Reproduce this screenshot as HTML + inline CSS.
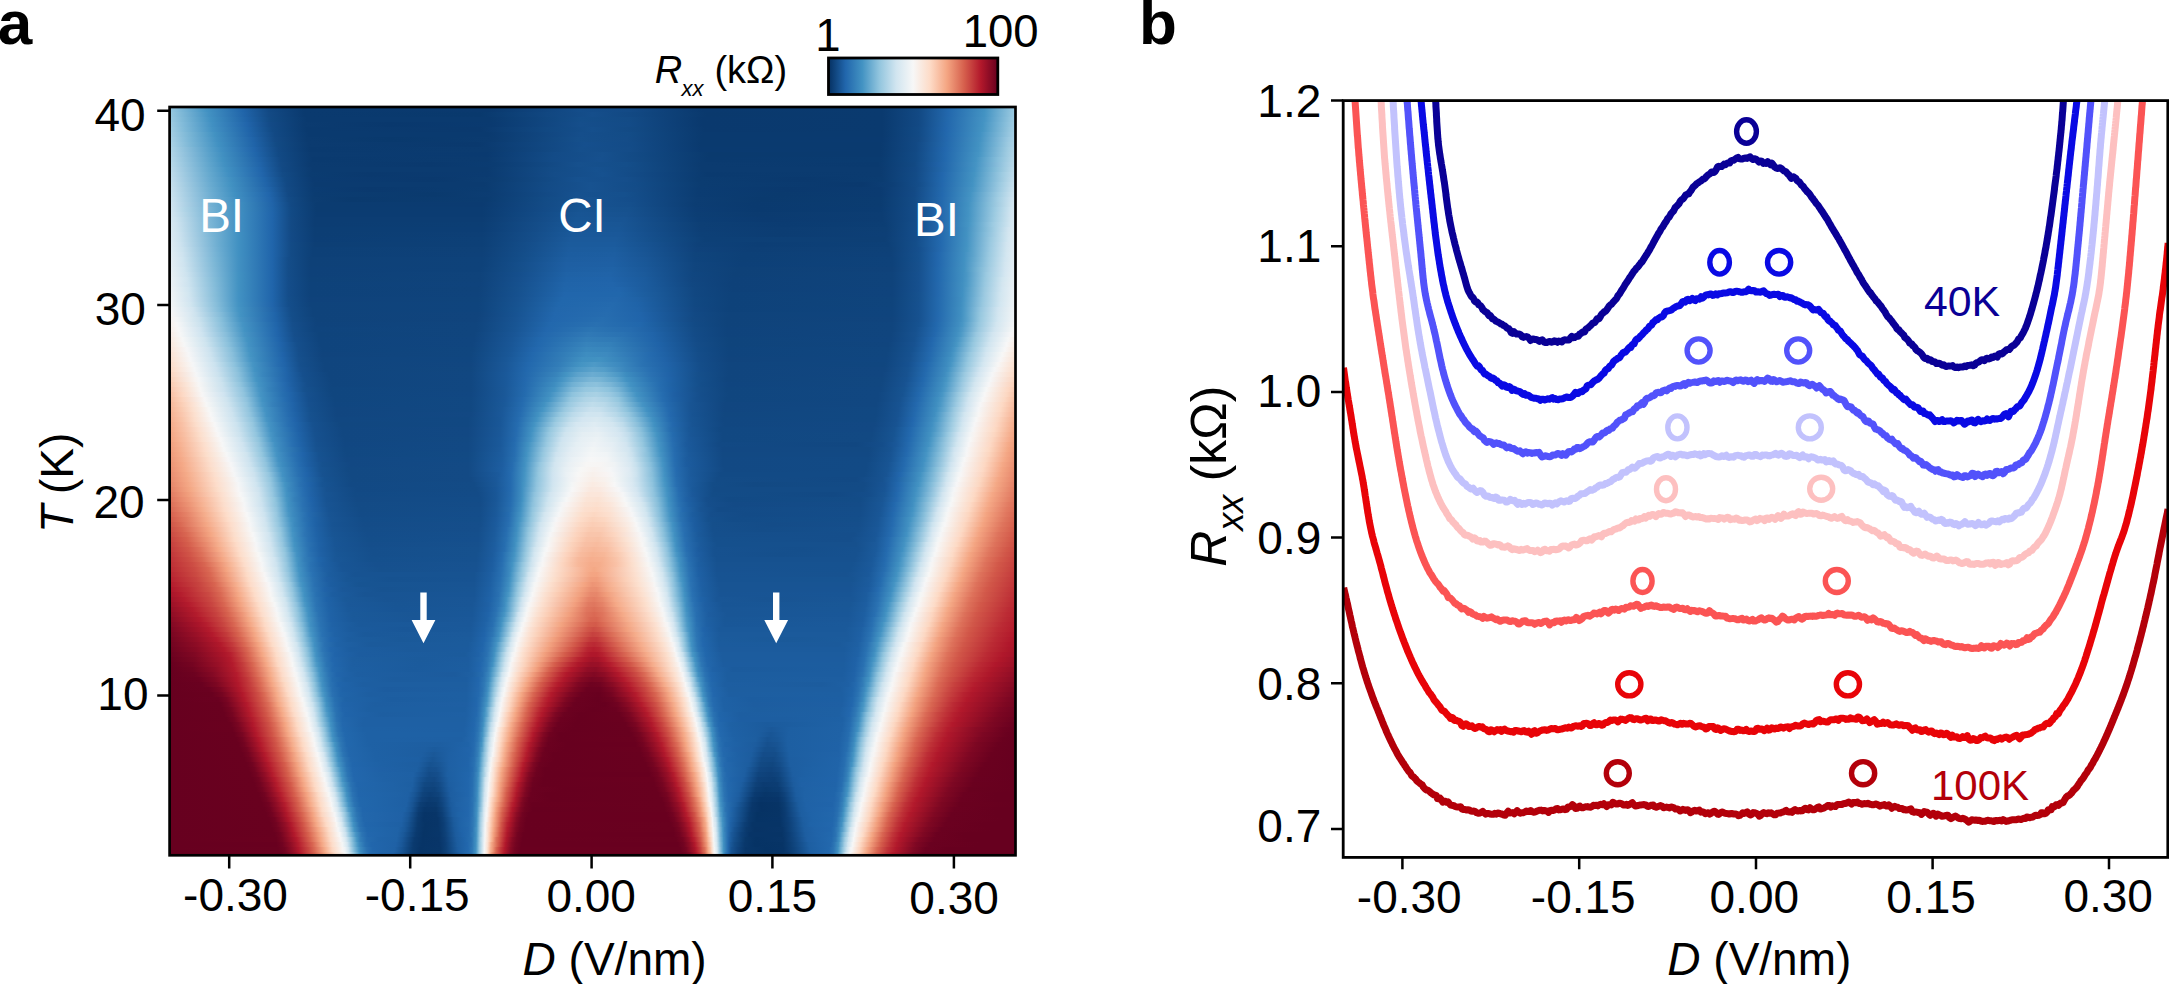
<!DOCTYPE html>
<html><head><meta charset="utf-8"><title>Figure</title>
<style>
html,body{margin:0;padding:0;background:#fff}
#fig{position:relative;width:2169px;height:984px;overflow:hidden;background:#fff;font-family:"Liberation Sans", Arial, Helvetica, sans-serif}
#hm div{position:absolute;left:170px;width:845px}
#fig svg{position:absolute;left:0;top:0}
text{font-family:"Liberation Sans", Arial, Helvetica, sans-serif}
</style></head><body>
<div id="fig">
<div id="hm">
<div style="top:107px;height:5px;background:linear-gradient(90deg,#94c6df 0.1%,#4393c3 4.3%,#2065aa 8.6%,#124984 11.7%,#0a3a6f 15.9%,#0a396e 37.7%,#144d8a 48.6%,#134a86 54.3%,#0a396e 63.0%,#0a3a6f 84.3%,#124983 88.6%,#2268ad 92.1%,#4292c2 96.4%,#76b3d4 98.5%,#94c6df 99.7%,#98c8e0 99.9%,#99c9e0 100.1%)"></div>
<div style="top:112px;height:5px;background:linear-gradient(90deg,#97c8df 0.1%,#4291c2 4.6%,#2064a9 8.8%,#134a85 11.7%,#0a3a6f 15.9%,#09396d 36.7%,#114781 44.6%,#154e8b 50.0%,#114781 55.7%,#0a396d 63.5%,#0a3a6f 84.3%,#124984 88.6%,#2368ad 92.1%,#4393c3 96.4%,#96c7df 99.7%,#9ac9e0 99.9%,#9bcae1 100.1%)"></div>
<div style="top:117px;height:5px;background:linear-gradient(90deg,#9ac9e0 0.1%,#7fb9d7 1.5%,#4191c2 4.8%,#1f63a8 9.1%,#124a84 11.9%,#0a3a6f 16.2%,#0a3a6f 37.9%,#144e8a 48.6%,#134b86 54.3%,#0a396e 63.0%,#0a3a6f 84.3%,#124984 88.6%,#2369ad 92.1%,#4594c4 96.4%,#99c9e0 99.7%,#9dcae1 99.9%,#9ecbe2 100.1%)"></div>
<div style="top:122px;height:5px;background:linear-gradient(90deg,#9ecbe1 0.1%,#82bbd9 1.5%,#4190c2 5.0%,#2165ab 9.1%,#134a86 11.9%,#0b3b70 15.9%,#09386d 25.9%,#0a3a70 38.2%,#154e8b 48.6%,#134b87 54.3%,#0a396e 63.0%,#0a3a6f 84.3%,#124984 88.6%,#2267ac 91.9%,#4393c3 96.2%,#85bdda 98.8%,#9ccae1 99.7%,#a0cce2 99.9%,#a1cde2 100.1%)"></div>
<div style="top:127px;height:5px;background:linear-gradient(90deg,#a1cde2 0.1%,#80bad8 1.7%,#4392c3 5.0%,#2065aa 9.3%,#124a85 12.1%,#0a3a6f 16.2%,#0a396e 36.7%,#114882 44.6%,#154f8c 50.0%,#124983 55.4%,#0a396e 63.3%,#0a3a6f 84.3%,#124a85 88.6%,#2267ad 91.9%,#4494c3 96.2%,#9ac9e0 99.5%,#a3cee3 99.9%,#a4cee3 100.1%)"></div>
<div style="top:132px;height:5px;background:linear-gradient(90deg,#a4cee3 0.1%,#7fb9d7 2.0%,#4292c2 5.3%,#2064a9 9.5%,#124984 12.4%,#0a3a6f 16.4%,#0a3a6f 37.7%,#154e8b 48.6%,#134c87 54.3%,#0a3a6f 63.0%,#0a3a6f 84.3%,#124a85 88.6%,#2268ad 91.9%,#4292c3 95.9%,#7eb8d7 98.3%,#a2cde3 99.7%,#a6cfe4 99.9%,#a8d0e4 100.1%)"></div>
<div style="top:137px;height:5px;background:linear-gradient(90deg,#a8d0e4 0.1%,#7db8d7 2.2%,#4291c2 5.5%,#2064a9 9.8%,#134a85 12.4%,#0b3b70 16.2%,#09396d 25.9%,#0b3b70 38.2%,#154f8b 48.3%,#144c88 54.0%,#0a3a6f 63.0%,#0a3a70 84.3%,#134a85 88.6%,#2368ad 91.9%,#4493c3 95.9%,#9bc9e1 99.2%,#a9d1e5 99.9%,#abd2e5 100.1%)"></div>
<div style="top:142px;height:5px;background:linear-gradient(90deg,#abd2e5 0.1%,#7cb7d6 2.4%,#4191c2 5.7%,#1f63a8 10.0%,#124a84 12.6%,#0b3b70 16.4%,#0a396e 36.5%,#114781 44.1%,#154f8d 49.1%,#134b87 54.7%,#0a3a6f 62.8%,#0a3a6f 84.1%,#124984 88.3%,#2369ad 91.9%,#4292c2 95.7%,#77b4d5 97.8%,#9ecbe1 99.2%,#acd2e6 99.9%,#aed3e6 100.1%)"></div>
<div style="top:147px;height:5px;background:linear-gradient(90deg,#afd4e6 0.1%,#58a0ca 4.6%,#4190c2 6.0%,#2165ab 10.0%,#124984 12.8%,#0a3a6f 16.6%,#0b3b70 37.7%,#154f8c 48.6%,#144c88 54.3%,#0a3a70 62.8%,#0a3a6f 84.1%,#124984 88.3%,#2267ad 91.7%,#4393c3 95.7%,#a1cde2 99.2%,#b0d4e6 99.9%,#b1d5e7 100.1%)"></div>
<div style="top:152px;height:5px;background:linear-gradient(90deg,#b2d5e7 0.1%,#5ba2cb 4.6%,#4190c1 6.2%,#2065aa 10.2%,#124a85 12.8%,#0b3b70 16.6%,#0a3a70 37.5%,#134b87 45.5%,#16508d 51.2%,#114882 56.2%,#0a3a6e 63.7%,#0a3a6f 84.1%,#124a85 88.3%,#2268ad 91.7%,#4595c4 95.7%,#9ecbe1 99.0%,#b3d6e7 99.9%,#b5d7e8 100.1%)"></div>
<div style="top:157px;height:5px;background:linear-gradient(90deg,#b5d7e8 0.1%,#5ea4cc 4.6%,#4292c2 6.2%,#2064a9 10.5%,#124984 13.1%,#0a3a6f 16.9%,#0b3b70 37.5%,#134b87 45.3%,#16508e 50.9%,#124983 55.9%,#0a3a6f 63.5%,#0a3b70 84.1%,#124a85 88.3%,#2268ad 91.7%,#4393c3 95.4%,#88bfdb 98.0%,#b7d8e8 99.9%,#b8d8e9 100.1%)"></div>
<div style="top:162px;height:5px;background:linear-gradient(90deg,#b8d9e9 0.1%,#61a6cd 4.6%,#4291c2 6.4%,#2064a9 10.7%,#134a85 13.1%,#0b3b70 16.6%,#0a396e 30.8%,#0b3c72 38.4%,#16508d 48.3%,#144e8a 54.0%,#0b3b70 62.8%,#0a3a6f 83.8%,#124983 88.1%,#1f61a6 90.9%,#256bae 91.9%,#4594c4 95.4%,#9fcbe2 98.8%,#bad9e9 99.9%,#bcdaea 100.1%)"></div>
<div style="top:167px;height:5px;background:linear-gradient(90deg,#bcdaea 0.1%,#64a8ce 4.6%,#4191c2 6.7%,#2166ac 10.7%,#124984 13.3%,#0b3b70 16.9%,#0b3b70 37.5%,#134b86 45.0%,#16518f 50.5%,#134b86 55.4%,#0b3b70 63.0%,#0b3b70 84.1%,#134a86 88.3%,#2369ad 91.7%,#4292c3 95.2%,#81bbd8 97.6%,#b9d9e9 99.7%,#bedbeb 99.9%,#c0dceb 100.1%)"></div>
<div style="top:172px;height:5px;background:linear-gradient(90deg,#bfdceb 0.1%,#67aacf 4.6%,#4190c2 6.9%,#2165ab 10.9%,#134b86 13.3%,#0b3c71 16.6%,#0a396e 23.7%,#0b3b71 37.7%,#144c88 45.5%,#16518f 51.2%,#124984 55.9%,#0a3a6f 63.5%,#0b3b70 84.1%,#134b86 88.3%,#2267ad 91.4%,#4494c3 95.2%,#9fcce2 98.5%,#c1ddec 99.9%,#c3deec 100.1%)"></div>
<div style="top:177px;height:5px;background:linear-gradient(90deg,#c2ddec 0.1%,#66a9cf 4.8%,#4190c1 7.2%,#2065aa 11.2%,#124a85 13.6%,#0b3b71 16.9%,#0a396e 31.1%,#0c3d72 38.4%,#16518f 48.3%,#154e8b 54.0%,#0b3c71 62.5%,#0a396e 74.9%,#0b3c71 84.3%,#134b87 88.3%,#2268ad 91.4%,#4292c2 95.0%,#7ab6d6 97.1%,#a8d0e4 98.8%,#c5dfed 99.9%,#c7e0ed 100.1%)"></div>
<div style="top:182px;height:5px;background:linear-gradient(90deg,#c5dfec 0.1%,#69abd0 4.8%,#4292c2 7.2%,#2064a9 11.4%,#124984 13.8%,#0b3b70 17.1%,#0b3b70 37.2%,#134b86 44.8%,#175290 49.8%,#134c88 55.2%,#0b3c71 62.8%,#0a396e 82.0%,#0d3f76 85.5%,#144d89 88.6%,#2368ad 91.4%,#4393c3 95.0%,#9fcce2 98.3%,#c9e1ee 99.9%,#cbe2ee 100.1%)"></div>
<div style="top:187px;height:5px;background:linear-gradient(90deg,#c8e0ed 0.1%,#6cadd1 4.8%,#4291c2 7.4%,#2064a9 11.7%,#134a85 13.8%,#0b3c72 16.9%,#0a396e 23.7%,#0b3c71 37.5%,#134b87 44.8%,#175290 49.8%,#144c88 55.2%,#0b3c72 62.5%,#0a396e 73.0%,#0b3b71 84.1%,#134a85 88.1%,#2369ad 91.4%,#4695c4 95.0%,#a2cde3 98.3%,#cde3ef 99.9%,#cfe4ef 100.1%)"></div>
<div style="top:192px;height:5px;background:linear-gradient(90deg,#cae2ee 0.1%,#6bacd1 5.0%,#4191c2 7.6%,#2166ac 11.7%,#124984 14.0%,#0b3c71 17.1%,#0a3a6e 31.3%,#0c3d73 38.2%,#16518f 48.1%,#15508d 53.8%,#0b3c72 62.5%,#0a3a6e 72.2%,#0b3b71 84.1%,#134a86 88.1%,#2369ae 91.4%,#4393c3 94.7%,#9fcce2 98.0%,#d1e5f0 99.9%,#d2e5f0 100.1%)"></div>
<div style="top:197px;height:5px;background:linear-gradient(90deg,#cde3ef 0.1%,#6daed2 5.0%,#4190c2 7.9%,#2165ab 11.9%,#134b86 14.0%,#0c3d72 16.9%,#0a3a6e 21.6%,#0b3c71 37.5%,#134c87 44.8%,#175391 49.8%,#144d8a 55.0%,#0c3d73 62.3%,#0a3a6e 70.1%,#0b3c71 84.1%,#134b86 88.1%,#246aae 91.4%,#4594c4 94.7%,#a3cee3 98.0%,#d0e4f0 99.7%,#d3e6f0 99.9%,#d4e7f1 100.1%)"></div>
<div style="top:202px;height:5px;background:linear-gradient(90deg,#d0e4f0 0.1%,#70afd2 5.0%,#4292c2 7.9%,#2064a9 12.1%,#124984 14.3%,#0b3c71 17.3%,#0b3b71 37.0%,#134b86 44.3%,#175391 48.8%,#154f8c 54.5%,#0c3d73 62.1%,#0a3a6f 68.9%,#0b3c71 84.1%,#134b86 88.1%,#2268ad 91.2%,#4292c2 94.5%,#85bdd9 96.9%,#d2e6f0 99.7%,#d5e7f1 99.9%,#d6e8f1 100.1%)"></div>
<div style="top:207px;height:5px;background:linear-gradient(90deg,#d2e5f0 0.1%,#b1d5e7 1.7%,#66a9cf 5.7%,#4190c1 8.1%,#2065aa 12.1%,#124a85 14.3%,#0b3c71 17.3%,#0b3c72 37.0%,#134b87 44.3%,#175492 48.6%,#16518e 54.3%,#0c3d74 62.3%,#0a3a6f 69.6%,#0b3c72 84.1%,#134b87 88.1%,#2368ad 91.2%,#4393c3 94.5%,#9bcae1 97.6%,#d0e5f0 99.5%,#d7e8f1 99.9%,#d8e8f1 100.1%)"></div>
<div style="top:212px;height:5px;background:linear-gradient(90deg,#d4e6f0 0.1%,#c3deec 1.0%,#77b4d5 4.8%,#4190c2 8.1%,#2065ab 12.1%,#124a85 14.3%,#0b3c72 17.3%,#0b3c72 37.0%,#134c88 44.1%,#185594 48.3%,#175290 54.0%,#0c3e74 62.3%,#0b3b70 69.4%,#0c3d73 84.3%,#134b87 88.1%,#2368ad 91.2%,#4393c3 94.5%,#9dcbe1 97.6%,#d2e5f0 99.5%,#d8e8f1 99.9%,#d9e9f2 100.1%)"></div>
<div style="top:217px;height:5px;background:linear-gradient(90deg,#d5e7f1 0.1%,#cbe2ee 0.8%,#7db7d7 4.6%,#4190c2 8.1%,#2065ab 12.1%,#134a85 14.3%,#0c3d73 17.1%,#0c3d73 37.0%,#144c88 43.8%,#185695 48.1%,#185493 53.8%,#0c3e75 62.5%,#0b3b71 70.6%,#0c3d73 84.3%,#134b87 88.1%,#2368ad 91.2%,#4494c3 94.5%,#9fcce2 97.6%,#d3e6f0 99.5%,#d9e9f2 99.9%,#dbeaf2 100.1%)"></div>
<div style="top:222px;height:5px;background:linear-gradient(90deg,#d7e8f1 0.1%,#cee3ef 0.8%,#7eb8d7 4.6%,#4190c2 8.1%,#2065ab 12.1%,#134a85 14.3%,#0c3d73 17.1%,#0c3e74 37.0%,#144d89 43.6%,#195797 47.9%,#195695 53.3%,#0d3f75 62.8%,#0b3c72 72.7%,#0c3e74 84.6%,#144d89 88.3%,#2369ad 91.2%,#4595c4 94.5%,#9bcae1 97.3%,#d4e7f1 99.5%,#dbeaf2 99.9%,#dceaf2 100.1%)"></div>
<div style="top:227px;height:5px;background:linear-gradient(90deg,#d9e9f1 0.1%,#cbe2ee 1.0%,#7bb6d6 4.8%,#4190c2 8.1%,#2065ab 12.1%,#134a85 14.3%,#0c3e74 17.1%,#0c3e75 37.0%,#144c88 43.1%,#195898 47.6%,#195797 53.1%,#0d3f76 62.8%,#0c3d73 72.2%,#0d3f75 84.8%,#144d8a 88.3%,#2369ad 91.2%,#4291c2 94.3%,#79b5d5 96.2%,#a3cee3 97.6%,#d2e5f0 99.2%,#dceaf2 99.9%,#ddebf2 100.1%)"></div>
<div style="top:232px;height:5px;background:linear-gradient(90deg,#dae9f2 0.1%,#cee3ef 1.0%,#78b4d5 5.0%,#4191c2 8.1%,#2065ab 12.1%,#134a86 14.3%,#0c3e74 17.1%,#0d3f76 37.0%,#144d89 42.9%,#1a599a 47.6%,#1a5899 53.1%,#0d4077 62.8%,#0c3d73 72.0%,#0d3f76 84.8%,#144d8a 88.3%,#2369ad 91.2%,#4292c2 94.3%,#82bbd9 96.4%,#c0ddeb 98.5%,#d3e6f0 99.2%,#ddebf2 99.9%,#deebf2 100.1%)"></div>
<div style="top:237px;height:5px;background:linear-gradient(90deg,#dceaf2 0.1%,#cbe2ee 1.2%,#70afd2 5.5%,#4191c2 8.1%,#2065ab 12.1%,#134a86 14.3%,#0c3e75 17.1%,#0d4077 37.0%,#144c88 42.4%,#1b5a9b 47.4%,#1b5a9b 52.8%,#144e8a 57.6%,#0d4077 63.3%,#0d3f75 84.6%,#144d8a 88.3%,#2369ae 91.2%,#4392c3 94.3%,#9ac9e0 97.1%,#d4e7f1 99.2%,#deebf2 99.9%,#dfecf3 100.1%)"></div>
<div style="top:242px;height:5px;background:linear-gradient(90deg,#deebf2 0.1%,#cee3ef 1.2%,#6cadd1 5.7%,#4191c2 8.1%,#2065ab 12.1%,#134b86 14.3%,#0d3f75 17.1%,#0d4077 37.0%,#144d89 42.2%,#1b5b9c 47.2%,#1b5b9d 52.6%,#16518f 56.9%,#0e4179 62.5%,#0c3e75 69.6%,#0d4077 85.0%,#144e8a 88.3%,#2369ae 91.2%,#4393c3 94.3%,#9ccae1 97.1%,#d2e5f0 99.0%,#e0ecf3 99.9%,#e1ecf3 100.1%)"></div>
<div style="top:247px;height:5px;background:linear-gradient(90deg,#dfecf3 0.1%,#cbe2ee 1.5%,#6eaed2 5.7%,#4191c2 8.1%,#2065ab 12.1%,#134b86 14.3%,#0d4077 16.9%,#0e4178 37.0%,#144d89 42.0%,#1c5c9e 47.2%,#1c5d9f 52.6%,#175392 56.6%,#0f427b 62.3%,#0d3f76 68.5%,#0e4178 85.3%,#154f8d 88.6%,#2469ae 91.2%,#4494c3 94.3%,#9ecbe2 97.1%,#d3e6f0 99.0%,#e1ecf3 99.9%,#e2edf3 100.1%)"></div>
<div style="top:252px;height:5px;background:linear-gradient(90deg,#e1edf3 0.1%,#cee3ef 1.5%,#74b2d4 5.5%,#4191c2 8.1%,#2065ab 12.1%,#134b86 14.3%,#0d4077 16.9%,#0e4179 37.0%,#144e8a 42.0%,#1c5da0 47.2%,#1d5ea1 52.6%,#185493 56.6%,#0f447c 62.1%,#0d4077 67.8%,#0e4179 85.3%,#15508d 88.6%,#2267ad 90.9%,#4190c2 94.0%,#5ba2cb 95.0%,#9ac9e0 96.9%,#d4e7f1 99.0%,#e2edf3 99.9%,#e3eef3 100.1%)"></div>
<div style="top:257px;height:5px;background:linear-gradient(90deg,#e3edf3 0.1%,#d0e5f0 1.5%,#7ab6d6 5.3%,#4291c2 8.1%,#2065ab 12.1%,#144d89 14.0%,#0e4178 16.6%,#0e427a 37.0%,#144e8a 41.7%,#1d5ea1 46.9%,#1e5fa3 52.4%,#195696 56.4%,#0f447d 62.1%,#0d4077 67.8%,#0e427a 85.5%,#15508d 88.6%,#2267ad 90.9%,#4191c2 94.0%,#64a8ce 95.2%,#9ccae1 96.9%,#d1e5f0 98.8%,#e3eef3 99.9%,#e4eef4 100.1%)"></div>
<div style="top:262px;height:5px;background:linear-gradient(90deg,#e4eef4 0.1%,#cee3ef 1.7%,#7cb7d6 5.3%,#4291c2 8.1%,#2065ab 12.1%,#144d89 14.0%,#0e4178 16.6%,#0e427a 37.0%,#154f8c 41.7%,#1e5fa3 46.9%,#1e60a4 52.4%,#195797 56.4%,#10457e 62.1%,#0d4078 67.5%,#0e427a 85.5%,#16508d 88.6%,#2267ad 90.9%,#4291c2 94.0%,#77b4d5 95.7%,#9ecbe1 96.9%,#d3e6f0 98.8%,#e4eef4 99.9%,#e5eff4 100.1%)"></div>
<div style="top:267px;height:5px;background:linear-gradient(90deg,#e6eff4 0.1%,#d0e5f0 1.7%,#7eb8d7 5.3%,#4291c2 8.1%,#2065ab 12.1%,#144d89 14.0%,#0e4179 16.6%,#0e427a 36.7%,#154f8b 41.5%,#1e60a4 46.9%,#1f62a6 52.4%,#1a5899 56.4%,#10457e 62.1%,#0e4178 67.3%,#0f427a 85.5%,#16508d 88.6%,#2268ad 90.9%,#4292c2 94.0%,#82bbd8 95.9%,#a7cfe4 97.1%,#d4e6f1 98.8%,#e5eff4 99.9%,#e6eff4 100.1%)"></div>
<div style="top:272px;height:5px;background:linear-gradient(90deg,#e8f0f4 0.1%,#cde3ef 2.0%,#80b9d8 5.3%,#4292c2 8.1%,#2065ab 12.1%,#144d89 14.0%,#0e4179 16.6%,#0f437b 36.7%,#154f8d 41.5%,#1f62a6 46.9%,#2063a8 52.1%,#1b5a9b 56.2%,#104680 61.8%,#0e4178 66.8%,#0f437b 85.5%,#16508e 88.6%,#2268ad 90.9%,#408fc1 93.8%,#4a97c5 94.3%,#9bcae1 96.6%,#d5e7f1 98.8%,#e7eff4 99.9%,#e8f0f4 100.1%)"></div>
<div style="top:277px;height:5px;background:linear-gradient(90deg,#eaf1f5 0.1%,#d0e5f0 2.0%,#82bbd8 5.3%,#4292c2 8.1%,#2065ab 12.1%,#144d8a 14.0%,#0e4279 16.6%,#0f437b 36.7%,#16508e 41.5%,#1f63a8 46.9%,#2064aa 52.1%,#1b5b9d 56.2%,#114680 61.8%,#0e4179 66.6%,#0f437b 85.5%,#16508e 88.6%,#2268ad 90.9%,#408fc1 93.8%,#4b98c6 94.3%,#96c7df 96.4%,#d2e6f0 98.5%,#e8f0f4 99.9%,#e9f0f4 100.1%)"></div>
<div style="top:282px;height:5px;background:linear-gradient(90deg,#ebf1f5 0.1%,#cde3ef 2.2%,#84bcd9 5.3%,#4292c2 8.1%,#2065ab 12.1%,#144d8a 14.0%,#0e427a 16.6%,#0f437c 36.7%,#16518f 41.5%,#2064a9 46.7%,#2165ab 52.4%,#1b5b9d 56.4%,#114781 61.8%,#0e4179 66.3%,#0f437b 85.5%,#16508e 88.6%,#2368ad 90.9%,#4190c1 93.8%,#4c99c6 94.3%,#98c8e0 96.4%,#d4e6f0 98.5%,#e9f0f4 99.9%,#eaf1f5 100.1%)"></div>
<div style="top:287px;height:5px;background:linear-gradient(90deg,#edf2f5 0.1%,#d0e5f0 2.2%,#86bdda 5.3%,#4292c2 8.1%,#2065ab 12.1%,#144d8a 14.0%,#0e427a 16.6%,#0f437b 36.5%,#16518e 41.2%,#2065aa 46.7%,#2166ac 53.1%,#195797 57.8%,#114781 62.1%,#0e4179 66.6%,#0f437c 85.5%,#16508e 88.6%,#2368ad 90.9%,#4190c2 93.8%,#569fc9 94.5%,#9bc9e0 96.4%,#d5e7f1 98.5%,#eaf1f5 99.9%,#ebf1f5 100.1%)"></div>
<div style="top:292px;height:5px;background:linear-gradient(90deg,#eff3f5 0.1%,#d2e6f0 2.2%,#82bbd8 5.5%,#4292c3 8.1%,#2065ab 12.1%,#144d8a 14.0%,#0e427a 16.6%,#0f437c 36.5%,#16518f 41.2%,#2166ac 46.7%,#2167ac 53.3%,#1a5999 57.6%,#114781 62.1%,#0e427a 66.3%,#0f437c 85.5%,#16518e 88.6%,#2368ad 90.9%,#4191c2 93.8%,#69abd0 95.0%,#9dcae1 96.4%,#d2e6f0 98.3%,#ebf1f5 99.9%,#ecf2f5 100.1%)"></div>
<div style="top:297px;height:5px;background:linear-gradient(90deg,#f0f4f6 0.1%,#d0e4f0 2.4%,#84bcd9 5.5%,#4292c3 8.1%,#2065ab 12.1%,#144e8a 14.0%,#0f427b 16.6%,#0f447c 36.5%,#175290 41.2%,#2167ac 46.4%,#2368ad 52.8%,#1f62a6 55.4%,#114882 62.1%,#0e427a 66.3%,#0f447c 85.5%,#16518e 88.6%,#2369ad 90.9%,#3f8dc0 93.6%,#4896c5 94.0%,#98c8e0 96.2%,#d3e6f0 98.3%,#ecf2f5 99.9%,#edf2f5 100.1%)"></div>
<div style="top:302px;height:5px;background:linear-gradient(90deg,#f2f5f6 0.1%,#d2e6f0 2.4%,#87beda 5.5%,#4393c3 8.1%,#2165ab 12.1%,#144e8b 14.0%,#0f437b 16.6%,#0f447d 36.5%,#175391 41.2%,#2167ac 46.0%,#246aae 52.4%,#1f63a8 55.4%,#114882 62.1%,#0e427a 66.3%,#0f447c 85.5%,#16518f 88.6%,#2369ad 90.9%,#3f8ec0 93.6%,#4a97c5 94.0%,#9ac9e0 96.2%,#d4e7f1 98.3%,#edf2f5 99.9%,#eef3f5 100.1%)"></div>
<div style="top:307px;height:5px;background:linear-gradient(90deg,#f5f6f7 0.1%,#d2e5f0 2.7%,#85bdda 5.7%,#4595c4 8.1%,#2063a8 12.4%,#144d89 14.3%,#0f437b 16.9%,#0f447d 36.5%,#175492 41.2%,#2267ac 45.7%,#256baf 51.9%,#2064a9 55.4%,#124883 62.1%,#0e427a 66.1%,#0f447d 85.5%,#16518f 88.6%,#2369ad 90.9%,#408fc1 93.6%,#4b98c6 94.0%,#95c6df 95.9%,#d2e5f0 98.0%,#eff3f5 99.9%,#f0f3f6 100.1%)"></div>
<div style="top:312px;height:5px;background:linear-gradient(90deg,#f7f6f6 0.1%,#dceaf2 2.2%,#cce2ee 3.1%,#84bcd9 6.0%,#4393c3 8.3%,#2065aa 12.4%,#144e8a 14.3%,#0f437b 16.9%,#10447d 36.5%,#175392 41.0%,#2267ad 45.5%,#266caf 51.7%,#2064aa 55.7%,#124984 62.1%,#0f437b 66.1%,#0f447d 85.5%,#16518f 88.6%,#2369ae 90.9%,#408fc1 93.6%,#4c99c6 94.0%,#97c8df 95.9%,#d3e6f0 98.0%,#f0f4f6 99.9%,#f1f4f6 100.1%)"></div>
<div style="top:317px;height:5px;background:linear-gradient(90deg,#f8f4f2 0.1%,#f3f5f6 0.8%,#cbe2ee 3.4%,#89c0db 6.0%,#4795c4 8.3%,#2970b1 11.4%,#1f63a8 12.6%,#144d89 14.5%,#0f437b 17.3%,#10447d 36.3%,#185493 41.0%,#2267ad 45.3%,#276eb0 51.2%,#2064aa 55.9%,#134a85 61.8%,#0f437b 65.9%,#10447d 85.5%,#16518f 88.6%,#2469ae 90.9%,#4190c1 93.6%,#57a0ca 94.3%,#99c9e0 95.9%,#d4e7f1 98.0%,#f1f4f6 99.9%,#f2f5f6 100.1%)"></div>
<div style="top:322px;height:5px;background:linear-gradient(90deg,#f8f2ee 0.1%,#f7f7f7 0.8%,#cbe2ee 3.6%,#88bfdb 6.2%,#4594c4 8.6%,#2065aa 12.6%,#154e8b 14.5%,#0f437c 17.3%,#10457e 36.3%,#185594 41.0%,#2268ad 45.0%,#2970b1 50.5%,#2167ac 55.7%,#124a85 62.1%,#0f437b 65.9%,#10457e 85.5%,#165290 88.6%,#2268ad 90.7%,#3f8dc0 93.3%,#4997c5 93.8%,#96c7df 95.7%,#d3e6f0 97.8%,#f4f5f6 99.9%,#f5f6f7 100.1%)"></div>
<div style="top:327px;height:5px;background:linear-gradient(90deg,#f9f0eb 0.1%,#f7f7f7 1.0%,#d0e4f0 3.6%,#87beda 6.4%,#4393c3 8.8%,#2166ac 12.6%,#154f8c 14.5%,#0f447d 17.1%,#10457e 36.3%,#185594 40.8%,#2267ad 44.6%,#2c75b3 49.8%,#266caf 54.5%,#1f62a6 57.1%,#134b86 62.1%,#0f437c 65.9%,#10457e 85.5%,#16518f 88.3%,#2369ae 90.7%,#4190c1 93.3%,#4f9ac7 93.8%,#9bc9e0 95.7%,#d2e5f0 97.6%,#f7f7f6 99.9%,#f7f6f5 100.1%)"></div>
<div style="top:332px;height:5px;background:linear-gradient(90deg,#f9ede7 0.1%,#f6f7f7 1.2%,#cfe4f0 3.8%,#86bdda 6.7%,#4795c4 8.8%,#286fb1 11.9%,#2064aa 12.8%,#154e8b 14.7%,#0f447c 17.6%,#10457e 36.0%,#195696 40.8%,#2368ad 44.3%,#3079b6 49.5%,#2a72b2 53.6%,#2064a9 57.1%,#134b87 62.1%,#0f437c 65.9%,#10457e 85.3%,#175290 88.3%,#2368ad 90.5%,#408fc1 93.1%,#4c99c6 93.6%,#99c8e0 95.4%,#d2e5f0 97.3%,#f6f6f7 99.5%,#f8f3f1 99.9%,#f8f3ef 100.1%)"></div>
<div style="top:337px;height:5px;background:linear-gradient(90deg,#faebe2 0.1%,#f6f7f7 1.5%,#cfe4ef 4.1%,#8cc1dc 6.7%,#4494c3 9.1%,#2166ac 12.8%,#154f8d 14.7%,#0f447d 17.6%,#10457f 36.0%,#195696 40.5%,#2268ad 43.8%,#337eb8 49.3%,#307ab6 52.6%,#2064a9 57.3%,#134b87 62.3%,#0f447c 66.1%,#10457f 85.3%,#16518f 88.1%,#2267ad 90.2%,#3f8dc0 92.8%,#4997c5 93.3%,#97c8df 95.2%,#d1e5f0 97.1%,#f6f7f7 99.2%,#f8f0eb 99.9%,#f9efea 100.1%)"></div>
<div style="top:342px;height:5px;background:linear-gradient(90deg,#fae9de 0.1%,#f6f7f7 1.7%,#cee4ef 4.3%,#8bc1dc 6.9%,#4392c3 9.3%,#2064aa 13.1%,#154f8c 15.0%,#0f447d 17.8%,#10457f 35.8%,#195696 40.3%,#2268ad 43.6%,#3783bb 49.3%,#3480b9 52.1%,#1f63a8 57.8%,#144c88 62.3%,#0f447c 66.1%,#10457e 85.0%,#175291 88.1%,#2369ae 90.2%,#3e8cbf 92.6%,#4796c4 93.1%,#95c7df 95.0%,#d1e5f0 96.9%,#f7f7f7 99.0%,#f9ede6 99.9%,#f9ece4 100.1%)"></div>
<div style="top:347px;height:5px;background:linear-gradient(90deg,#fbe6da 0.1%,#f6f6f7 2.0%,#cee3ef 4.6%,#8ac0db 7.2%,#4695c4 9.3%,#276eb0 12.4%,#1f63a7 13.3%,#154e8b 15.2%,#0f447d 18.0%,#10467f 35.8%,#195797 40.3%,#2267ad 43.1%,#3a88bd 49.3%,#3885bc 51.9%,#2063a8 58.0%,#134c88 62.5%,#0f447d 66.1%,#10467f 85.0%,#165290 87.9%,#2368ad 90.0%,#3d8bbf 92.4%,#4594c4 92.8%,#9bcae1 95.0%,#d0e5f0 96.6%,#f7f7f7 98.8%,#faeae0 99.9%,#fae9df 100.1%)"></div>
<div style="top:352px;height:5px;background:linear-gradient(90deg,#fbe3d5 0.1%,#f6f6f7 2.2%,#cde3ef 4.8%,#89bfdb 7.4%,#4494c3 9.5%,#2064aa 13.3%,#154f8c 15.2%,#10447d 18.0%,#10467f 35.6%,#195797 40.1%,#2268ad 42.9%,#317cb7 46.4%,#3e8dc0 49.3%,#3d8abf 51.7%,#246aae 56.9%,#1f62a6 58.5%,#144d89 62.5%,#0f447d 66.1%,#10467f 84.8%,#16518f 87.6%,#246aae 90.0%,#3f8ec0 92.4%,#4b98c6 92.8%,#99c9e0 94.7%,#d5e7f1 96.6%,#f7f7f6 98.5%,#fae7db 99.9%,#fbe6da 100.1%)"></div>
<div style="top:357px;height:5px;background:linear-gradient(90deg,#fce1d1 0.1%,#f6f6f7 2.4%,#cde3ef 5.0%,#87beda 7.6%,#4896c5 9.5%,#3a88bd 10.5%,#2166ac 13.3%,#16508d 15.2%,#10457e 18.0%,#104680 35.6%,#195797 39.8%,#2268ad 42.7%,#327cb7 46.2%,#4090c1 48.8%,#4292c2 50.9%,#3682ba 53.6%,#276eb0 56.4%,#2063a8 58.5%,#144d8a 62.5%,#10447d 66.1%,#104680 84.8%,#175290 87.6%,#2369ad 89.8%,#3e8dc0 92.1%,#4896c5 92.6%,#97c8e0 94.5%,#d5e7f1 96.4%,#f7f6f6 98.3%,#fbe4d6 99.9%,#fbe3d5 100.1%)"></div>
<div style="top:362px;height:5px;background:linear-gradient(90deg,#fcdecc 0.1%,#f8f3f0 2.2%,#f5f6f7 2.7%,#cce3ef 5.3%,#8ec3dd 7.6%,#4695c4 9.8%,#266caf 12.8%,#2064a9 13.6%,#154f8c 15.4%,#10457e 18.3%,#114680 35.6%,#1a5898 39.8%,#2268ad 42.4%,#327db8 46.0%,#4494c3 48.6%,#4e9ac7 50.2%,#3d8abf 53.1%,#2a72b2 55.9%,#2063a8 58.8%,#144d89 62.8%,#10457e 66.1%,#10467f 84.6%,#165190 87.4%,#2268ad 89.5%,#3d8bbf 91.9%,#4695c4 92.4%,#95c7df 94.3%,#d4e7f1 96.2%,#f7f6f5 98.0%,#fce1d1 99.9%,#fce0d0 100.1%)"></div>
<div style="top:367px;height:5px;background:linear-gradient(90deg,#fddbc7 0.1%,#f8f0ec 2.2%,#f5f6f7 2.9%,#cce2ef 5.5%,#8dc2dc 7.9%,#4393c3 10.0%,#2166ab 13.6%,#16508e 15.4%,#10457e 18.3%,#114780 35.6%,#1a5899 39.8%,#2268ad 42.2%,#3681ba 46.0%,#4b98c6 48.1%,#5ba2cb 50.0%,#549ec9 51.4%,#3985bc 54.0%,#286fb1 56.9%,#1f63a7 59.0%,#144d8a 62.8%,#10457e 66.1%,#114680 84.6%,#175391 87.4%,#246aae 89.5%,#408ec1 91.9%,#4393c3 92.1%,#9ccae1 94.3%,#d4e6f1 95.9%,#f5f6f7 97.6%,#f9f0eb 98.3%,#fcdecc 99.9%,#fcddcb 100.1%)"></div>
<div style="top:372px;height:5px;background:linear-gradient(90deg,#fcd6c1 0.1%,#f5f6f7 3.1%,#cbe2ee 5.7%,#8cc1dc 8.1%,#4896c5 10.0%,#3a87bd 10.9%,#2064a9 13.8%,#154f8d 15.7%,#10457e 18.8%,#114781 35.6%,#1a599a 39.8%,#2369ad 42.2%,#3884bb 45.7%,#4494c3 46.9%,#5da3cc 48.3%,#6bacd1 50.0%,#63a8ce 51.4%,#4c98c6 53.1%,#3d8cbf 54.0%,#2a71b2 56.9%,#2063a8 59.0%,#154f8b 62.5%,#10457e 66.1%,#114680 84.3%,#175290 87.2%,#2369ad 89.3%,#3f8dc0 91.7%,#4a97c5 92.1%,#9ac9e0 94.0%,#d4e6f1 95.7%,#f5f6f7 97.3%,#fddbc7 99.9%,#fddac6 100.1%)"></div>
<div style="top:377px;height:5px;background:linear-gradient(90deg,#fbd1ba 0.1%,#f8f3f0 2.9%,#f5f6f7 3.4%,#cbe2ee 6.0%,#8ac0db 8.3%,#4595c4 10.2%,#276db0 13.1%,#1f62a7 14.0%,#154f8c 15.9%,#10457e 19.0%,#114781 35.6%,#1a599a 39.8%,#2368ad 42.0%,#3c8abf 45.7%,#4594c4 46.4%,#66a9cf 47.9%,#7bb6d6 49.8%,#78b5d5 50.9%,#5fa5cd 52.8%,#4393c3 54.0%,#2b74b3 56.9%,#2064a9 59.0%,#15508d 62.3%,#10457e 65.9%,#114780 84.3%,#175392 87.2%,#2268ad 89.1%,#3e8cbf 91.4%,#4796c4 91.9%,#98c8e0 93.8%,#d3e6f0 95.4%,#f5f6f7 97.1%,#fcd6c1 99.9%,#fcd5bf 100.1%)"></div>
<div style="top:382px;height:5px;background:linear-gradient(90deg,#faccb3 0.1%,#fbe5d8 2.0%,#f7f6f5 3.4%,#cbe2ee 6.2%,#92c5de 8.3%,#4393c3 10.5%,#2469ae 13.6%,#1d5ea1 14.5%,#154e8b 16.2%,#10457e 19.2%,#114781 35.6%,#1a599a 39.8%,#2369ad 42.0%,#3e8dc0 45.5%,#4b98c6 46.2%,#70b0d3 47.6%,#88bfdb 49.3%,#8cc1dc 50.5%,#7bb6d6 52.1%,#5ca3cc 53.6%,#4292c3 54.5%,#256caf 58.0%,#1e61a4 59.5%,#144e8a 62.8%,#10457f 66.1%,#114780 84.1%,#175291 86.9%,#246aae 89.1%,#408fc1 91.4%,#4d9ac7 91.9%,#9fcbe2 93.8%,#d3e6f0 95.2%,#f6f6f7 96.9%,#fcd4be 99.7%,#fbd1ba 99.9%,#fbcfb8 100.1%)"></div>
<div style="top:387px;height:5px;background:linear-gradient(90deg,#fac6ad 0.1%,#fbe2d3 2.0%,#f7f6f5 3.6%,#cae1ee 6.4%,#91c4de 8.6%,#4896c5 10.5%,#3682ba 11.7%,#2165ab 14.0%,#16518e 15.9%,#10467f 19.0%,#114781 35.6%,#1a5898 39.6%,#246aae 42.0%,#4393c3 45.5%,#7fb9d8 47.6%,#96c7df 49.1%,#9bcae1 50.5%,#8ec3dd 51.9%,#77b4d5 53.1%,#4695c4 54.7%,#266daf 58.0%,#1f63a8 59.2%,#16508d 62.3%,#10467f 65.9%,#114781 84.1%,#175492 86.9%,#2369ad 88.8%,#3f8ec0 91.2%,#4b98c6 91.7%,#9dcae1 93.6%,#d3e6f0 95.0%,#f6f7f7 96.6%,#fdd8c3 99.2%,#facbb3 99.9%,#facab1 100.1%)"></div>
<div style="top:392px;height:5px;background:linear-gradient(90deg,#f9c1a6 0.1%,#fdd9c5 1.5%,#f7f6f6 3.8%,#d0e4f0 6.4%,#8fc3dd 8.8%,#4594c4 10.7%,#276fb0 13.3%,#2064a9 14.3%,#16508e 16.2%,#10467f 19.2%,#114782 35.6%,#1a5898 39.6%,#246bae 42.0%,#4291c2 45.0%,#63a7ce 46.2%,#8ec3dd 47.6%,#a5cfe3 49.3%,#a9d1e4 50.5%,#99c8e0 52.1%,#85bdda 53.1%,#4393c3 55.2%,#256caf 58.3%,#1e5fa3 59.7%,#154e8b 62.8%,#10467f 66.1%,#114781 83.8%,#175391 86.7%,#2268ad 88.6%,#3e8cc0 90.9%,#4896c5 91.4%,#9bc9e0 93.3%,#d2e6f0 94.7%,#f7f7f7 96.4%,#fcd8c3 99.0%,#f9c6ac 99.9%,#f9c4aa 100.1%)"></div>
<div style="top:397px;height:5px;background:linear-gradient(90deg,#f8bda0 0.1%,#fcd4be 1.5%,#f7f6f6 4.1%,#cfe4ef 6.7%,#8ec2dd 9.1%,#4393c3 10.9%,#266db0 13.6%,#1f62a7 14.5%,#154f8d 16.4%,#10467f 19.5%,#114882 35.6%,#1a5899 39.6%,#246aae 41.7%,#4393c3 44.8%,#96c7df 47.4%,#afd4e6 49.1%,#b6d7e8 50.2%,#abd2e5 51.7%,#93c6de 53.1%,#4795c4 55.4%,#266db0 58.3%,#1f62a6 59.5%,#16508e 62.3%,#10467f 65.9%,#114781 83.8%,#175290 86.4%,#246aae 88.6%,#4090c1 90.9%,#4f9ac7 91.4%,#a1cde2 93.3%,#d2e5f0 94.5%,#f7f7f7 96.2%,#fcd8c3 98.8%,#f9c1a5 99.9%,#f8bfa3 100.1%)"></div>
<div style="top:402px;height:5px;background:linear-gradient(90deg,#f7b99b 0.1%,#fbd0b8 1.5%,#fce2d3 2.7%,#f7f7f6 4.3%,#cfe4ef 6.9%,#94c6df 9.1%,#4896c5 10.9%,#3681ba 12.1%,#2064a9 14.5%,#16508e 16.4%,#104680 19.5%,#114882 35.6%,#1a5999 39.6%,#256caf 41.7%,#4292c2 44.3%,#7eb8d7 46.2%,#9bcae1 47.2%,#b4d6e8 48.6%,#c0ddeb 50.0%,#b9d9e9 51.4%,#9ecbe1 53.1%,#82bbd8 54.0%,#4594c4 55.9%,#246aae 58.8%,#185493 61.6%,#114680 65.6%,#114781 83.6%,#175392 86.4%,#2368ad 88.3%,#3f8ec0 90.7%,#4b98c6 91.2%,#9ecbe2 93.1%,#cfe4f0 94.3%,#f6f6f7 95.9%,#fdd9c4 98.5%,#f8bca0 99.9%,#f8bb9e 100.1%)"></div>
<div style="top:407px;height:5px;background:linear-gradient(90deg,#f7b697 0.1%,#faccb3 1.5%,#fce0cf 2.7%,#f7f7f6 4.6%,#cee3ef 7.2%,#93c5de 9.3%,#4594c4 11.2%,#2970b1 13.6%,#1f62a7 14.7%,#15508d 16.6%,#114680 19.7%,#114882 35.6%,#1a5898 39.3%,#256baf 41.5%,#4595c4 44.1%,#9ac9e0 46.7%,#b8d8e9 48.1%,#cae1ee 49.8%,#c7e0ed 50.9%,#aed3e6 52.8%,#90c4dd 54.0%,#4292c3 56.4%,#246aae 59.0%,#185493 61.6%,#114680 65.6%,#114882 83.6%,#175291 86.2%,#246aae 88.3%,#4191c2 90.7%,#65a9cf 91.7%,#9bc9e0 92.8%,#d4e6f1 94.3%,#f5f6f7 95.7%,#fddac5 98.3%,#f7b89b 99.9%,#f7b799 100.1%)"></div>
<div style="top:412px;height:5px;background:linear-gradient(90deg,#f6b393 0.1%,#fac8af 1.5%,#fce0cf 2.9%,#f7f7f7 4.8%,#cde3ef 7.4%,#91c4de 9.5%,#4392c3 11.4%,#266caf 14.0%,#1e61a5 15.0%,#16518e 16.6%,#114680 19.7%,#124883 35.6%,#1a5899 39.3%,#266db0 41.5%,#4292c2 43.6%,#99c9e0 46.2%,#bbdaea 47.6%,#d0e5f0 49.3%,#d1e5f0 50.9%,#b8d9e9 52.8%,#96c7df 54.3%,#4594c4 56.6%,#2368ad 59.2%,#175392 61.8%,#114780 65.6%,#114882 83.6%,#175392 86.2%,#2369ad 88.1%,#408fc1 90.5%,#4e9ac7 90.9%,#a1cce2 92.8%,#d2e6f0 94.0%,#f7f6f5 95.7%,#fcd6c1 98.3%,#f7b496 99.9%,#f6b394 100.1%)"></div>
<div style="top:417px;height:5px;background:linear-gradient(90deg,#f6b090 0.1%,#f9c5aa 1.5%,#fcdecc 2.9%,#f7f7f7 5.0%,#cde3ef 7.6%,#8fc3dd 9.8%,#4896c5 11.4%,#3884bc 12.4%,#2165ab 14.7%,#16518f 16.6%,#114781 19.7%,#114882 35.3%,#195797 39.1%,#256baf 41.2%,#4393c3 43.4%,#97c8df 45.7%,#c1ddeb 47.4%,#d4e6f1 48.8%,#d9e9f1 50.5%,#cee4ef 52.1%,#b4d6e8 53.6%,#8bc1dc 55.0%,#4191c2 57.1%,#246aae 59.2%,#185594 61.6%,#114781 65.4%,#114882 83.4%,#175291 86.0%,#2267ad 87.9%,#3f8dc0 90.2%,#4a98c6 90.7%,#9dcbe1 92.6%,#d0e4f0 93.8%,#f7f7f7 95.4%,#fcd7c2 98.0%,#f6b495 99.7%,#f6b191 99.9%,#f6af8f 100.1%)"></div>
<div style="top:422px;height:5px;background:linear-gradient(90deg,#f5ad8c 0.1%,#f9c1a6 1.5%,#fcdecc 3.1%,#f7f7f7 5.3%,#cce3ef 7.9%,#96c7df 9.8%,#4594c4 11.7%,#286fb1 14.0%,#2064a9 15.0%,#16518f 16.9%,#114780 20.2%,#114882 35.3%,#195798 39.1%,#266db0 41.2%,#4393c3 43.1%,#9bcae1 45.5%,#c7e0ed 47.2%,#d5e7f1 48.1%,#dfecf3 50.2%,#d3e6f0 52.4%,#bfdceb 53.6%,#88beda 55.4%,#4191c2 57.3%,#2368ad 59.5%,#185493 61.8%,#114781 65.6%,#124883 83.4%,#175392 86.0%,#2369ae 87.9%,#4190c2 90.2%,#5aa1cb 90.9%,#a3cee3 92.6%,#d4e7f1 93.8%,#f6f6f7 95.2%,#fdd8c4 97.8%,#f6b090 99.7%,#f5ad8c 99.9%,#f5ac8a 100.1%)"></div>
<div style="top:427px;height:5px;background:linear-gradient(90deg,#f5aa88 0.1%,#f9c2a7 1.7%,#fcdecd 3.4%,#f7f7f7 5.5%,#cbe2ee 8.1%,#94c6df 10.0%,#4392c3 11.9%,#276eb0 14.3%,#1f62a7 15.2%,#16508e 17.1%,#114781 20.4%,#124883 35.3%,#1a5898 39.1%,#256baf 41.0%,#4393c3 42.9%,#97c8df 45.0%,#cce3ef 46.9%,#deebf2 48.6%,#e4eef4 50.5%,#d5e7f1 52.8%,#c4deec 53.8%,#8ac0db 55.7%,#4796c4 57.3%,#266daf 59.2%,#195797 61.4%,#114882 65.1%,#124883 83.1%,#175391 85.7%,#2268ad 87.6%,#408fc1 90.0%,#4d99c6 90.5%,#9fcce2 92.4%,#d2e6f0 93.6%,#f5f6f7 95.0%,#f8f2ef 95.4%,#fddac5 97.6%,#f5ad8c 99.7%,#f5a988 99.9%,#f5a886 100.1%)"></div>
<div style="top:432px;height:5px;background:linear-gradient(90deg,#f4a785 0.1%,#f8bfa3 1.7%,#fcdfcd 3.6%,#f7f7f7 5.7%,#cbe2ee 8.3%,#92c5de 10.2%,#4896c5 11.9%,#3b88bd 12.6%,#2064a9 15.2%,#16518f 17.1%,#114781 20.4%,#124883 35.3%,#1a5899 39.1%,#266caf 41.0%,#4191c2 42.7%,#97c8e0 44.8%,#cfe4ef 46.7%,#e4eef3 48.8%,#e8f0f4 50.7%,#d4e6f1 53.3%,#c0dceb 54.3%,#8ac0db 55.9%,#4494c3 57.6%,#246bae 59.5%,#195696 61.6%,#114882 65.4%,#124983 83.1%,#175492 85.7%,#2369ae 87.6%,#4292c2 90.0%,#70b0d3 91.2%,#9bcae1 92.1%,#d0e4f0 93.3%,#f3f5f6 94.7%,#f8f3f0 95.2%,#fcd6c0 97.6%,#f5ad8c 99.5%,#f4a684 99.9%,#f4a582 100.1%)"></div>
<div style="top:437px;height:5px;background:linear-gradient(90deg,#f4a582 0.1%,#f8bc9f 1.7%,#fcdfce 3.8%,#f7f7f7 6.0%,#d1e5f0 8.3%,#90c4dd 10.5%,#4594c4 12.1%,#2971b2 14.3%,#1f63a7 15.4%,#16508e 17.3%,#114781 20.7%,#124983 35.3%,#1a599a 39.1%,#246aae 40.8%,#4594c4 42.7%,#96c7df 44.6%,#cfe4f0 46.4%,#e6eff4 48.6%,#ecf2f5 50.5%,#ddebf2 52.8%,#cce3ef 54.0%,#92c5de 55.9%,#4291c2 57.8%,#266caf 59.5%,#1a5899 61.4%,#114882 65.4%,#124983 82.9%,#175391 85.5%,#2268ad 87.4%,#4190c1 89.8%,#4f9bc7 90.2%,#a2cde2 92.1%,#d5e7f1 93.3%,#f7f7f7 94.7%,#fcd7c2 97.3%,#f5a988 99.5%,#f3a380 99.9%,#f2a17f 100.1%)"></div>
<div style="top:442px;height:5px;background:linear-gradient(90deg,#f2a17f 0.1%,#f6b191 1.2%,#fcdfce 4.1%,#f6f7f7 6.2%,#d0e4f0 8.6%,#97c7df 10.5%,#4392c3 12.4%,#286fb1 14.5%,#2064a9 15.4%,#16518f 17.3%,#114782 20.7%,#124984 35.3%,#1a599a 39.1%,#256caf 40.8%,#4292c2 42.4%,#9bcae1 44.6%,#cfe4ef 46.2%,#e5eff4 48.1%,#eff3f6 50.2%,#e4eef4 52.4%,#d2e5f0 54.0%,#97c8df 55.9%,#4695c4 57.8%,#276eb0 59.5%,#1b5a9c 61.1%,#124984 64.9%,#114781 81.2%,#144d8a 84.3%,#1a5899 86.0%,#246aae 87.4%,#4393c3 89.8%,#89bfdb 91.4%,#d2e6f0 93.1%,#f6f6f7 94.5%,#fdd8c4 97.1%,#f5aa88 99.2%,#f19f7d 99.9%,#f19d7c 100.1%)"></div>
<div style="top:447px;height:5px;background:linear-gradient(90deg,#f19e7d 0.1%,#f5ae8d 1.2%,#fdddcb 4.1%,#f6f7f7 6.4%,#cfe4f0 8.8%,#95c7df 10.7%,#4896c5 12.4%,#3a87bd 13.1%,#1f63a7 15.7%,#175290 17.3%,#114882 20.7%,#124984 35.3%,#1b5a9b 39.1%,#266db0 40.8%,#4695c4 42.4%,#99c8e0 44.3%,#cfe4ef 46.0%,#e4eef4 47.6%,#f2f5f6 50.0%,#e9f0f4 52.1%,#d1e5f0 54.3%,#94c6df 56.2%,#4292c2 58.0%,#256bae 59.7%,#1a599a 61.4%,#124883 65.4%,#124983 82.7%,#175391 85.3%,#2368ad 87.2%,#4191c2 89.5%,#6fafd2 90.7%,#a4cee3 91.9%,#d0e4f0 92.8%,#f5f6f7 94.3%,#f8f2ef 94.7%,#fddac5 96.9%,#f4a784 99.2%,#f09b7a 99.9%,#ef9a79 100.1%)"></div>
<div style="top:452px;height:5px;background:linear-gradient(90deg,#f09b7a 0.1%,#f5ab8a 1.2%,#fcdecb 4.3%,#f6f7f7 6.7%,#cfe4ef 9.1%,#93c6de 10.9%,#4594c4 12.6%,#2b73b3 14.5%,#2064aa 15.7%,#165290 17.6%,#114882 20.9%,#124a84 35.3%,#1c5c9e 39.3%,#276eb0 40.8%,#4292c2 42.2%,#95c7df 44.1%,#cee3ef 45.7%,#e3edf3 47.2%,#f4f6f7 49.8%,#f0f4f6 51.7%,#d9e9f1 54.0%,#cae1ee 54.7%,#86beda 56.6%,#4695c4 58.0%,#266caf 59.7%,#1b5a9b 61.4%,#124983 65.4%,#124984 82.7%,#185493 85.3%,#246aae 87.2%,#4594c4 89.5%,#8bc1dc 91.2%,#d5e7f1 92.8%,#f7f6f6 94.3%,#fcd6c0 96.9%,#f4a785 99.0%,#ee9777 99.9%,#ee9677 100.1%)"></div>
<div style="top:457px;height:5px;background:linear-gradient(90deg,#ee9878 0.1%,#f5ac8b 1.5%,#fcdecc 4.6%,#f6f6f7 6.9%,#cee3ef 9.3%,#91c4de 11.2%,#4392c3 12.8%,#276eb0 15.0%,#1f63a7 15.9%,#175291 17.6%,#124883 20.9%,#124a85 35.3%,#1c5d9f 39.3%,#2870b1 40.8%,#4695c4 42.2%,#9bc9e1 44.1%,#d3e6f0 45.7%,#eaf1f5 47.6%,#f7f7f7 49.8%,#f3f5f6 51.7%,#dceaf2 54.0%,#d0e5f0 54.7%,#8dc2dc 56.6%,#4291c2 58.3%,#266db0 59.7%,#1c5c9e 61.1%,#124984 65.4%,#124a85 82.7%,#185594 85.3%,#2369ad 86.9%,#4292c3 89.3%,#7cb7d6 90.7%,#c8e0ed 92.4%,#e0ecf3 93.1%,#f7f7f7 94.0%,#fcd7c2 96.6%,#f5a886 98.8%,#ec9475 99.9%,#ec9374 100.1%)"></div>
<div style="top:462px;height:5px;background:linear-gradient(90deg,#ed9575 0.1%,#f5a987 1.5%,#fcdecd 4.8%,#f6f6f7 7.2%,#cde3ef 9.5%,#8fc3dd 11.4%,#4996c5 12.8%,#3d8cbf 13.3%,#246aae 15.4%,#1d5ea2 16.4%,#16518e 18.0%,#124883 21.4%,#134a85 35.3%,#1d5da0 39.3%,#266caf 40.5%,#4191c2 42.0%,#97c8e0 43.8%,#d2e5f0 45.5%,#e9f0f4 47.2%,#f7f6f5 49.3%,#f7f5f4 50.9%,#eff3f5 52.6%,#d8e8f1 54.5%,#c6e0ed 55.2%,#88bfdb 56.9%,#4594c4 58.3%,#276eb0 59.7%,#1c5c9f 61.1%,#124984 65.4%,#124a85 82.4%,#185493 85.0%,#246aae 86.9%,#4190c2 89.1%,#63a7ce 90.0%,#add3e6 91.7%,#d0e4f0 92.4%,#f6f6f7 93.8%,#fdd8c3 96.4%,#f5a987 98.5%,#eb9072 99.9%,#ea8f71 100.1%)"></div>
<div style="top:467px;height:5px;background:linear-gradient(90deg,#ec9173 0.1%,#f5aa88 1.7%,#fcdfcd 5.0%,#f6f6f7 7.4%,#cce3ef 9.8%,#96c7df 11.4%,#4594c4 13.1%,#2a72b2 15.0%,#1f63a8 16.2%,#175391 17.8%,#124983 21.1%,#134a85 35.3%,#1d5ea1 39.3%,#266db0 40.5%,#4493c3 42.0%,#93c5de 43.6%,#cfe4ef 45.3%,#e6eff4 46.7%,#f7f7f6 48.6%,#f8f2ef 50.2%,#f5f6f7 52.1%,#dfebf3 54.3%,#cbe2ee 55.2%,#8ec2dd 56.9%,#4190c2 58.5%,#256baf 59.9%,#1b5a9b 61.6%,#124984 65.6%,#124a85 82.4%,#185594 85.0%,#2369ad 86.7%,#4493c3 89.1%,#89c0db 90.7%,#d5e7f1 92.4%,#f4f6f7 93.6%,#f8f2ef 94.0%,#fdd9c5 96.2%,#f4a583 98.5%,#e98d6f 99.9%,#e98c6f 100.1%)"></div>
<div style="top:472px;height:5px;background:linear-gradient(90deg,#ea8e71 0.1%,#f5ab89 2.0%,#fcdfce 5.3%,#f5f6f7 7.6%,#cce2ee 10.0%,#94c6df 11.7%,#4392c3 13.3%,#2970b1 15.2%,#2064aa 16.2%,#175290 18.0%,#124983 21.4%,#134a85 35.3%,#1b5a9c 38.9%,#246aae 40.3%,#3a87bd 41.5%,#4695c4 42.0%,#95c7df 43.6%,#d0e4f0 45.3%,#eaf1f5 46.9%,#f7f7f6 48.3%,#f8f0eb 50.0%,#f8f4f3 51.7%,#f5f6f7 52.4%,#dceaf2 54.5%,#cde3ef 55.2%,#87beda 57.1%,#4392c3 58.5%,#266caf 59.9%,#1b5a9b 61.6%,#124a85 65.1%,#124a85 82.2%,#185493 84.8%,#2267ad 86.4%,#4292c2 88.8%,#7ab6d6 90.2%,#d3e6f0 92.1%,#f3f5f6 93.3%,#f7f6f6 93.6%,#fcd5c0 96.2%,#f4a684 98.3%,#e8896d 99.9%,#e8886c 100.1%)"></div>
<div style="top:477px;height:5px;background:linear-gradient(90deg,#e98b6e 0.1%,#f4a886 2.0%,#fdddca 5.3%,#f5f6f7 7.9%,#d1e5f0 10.0%,#92c5de 11.9%,#4997c5 13.3%,#3d8bbf 13.8%,#2369ad 15.9%,#165290 18.3%,#124983 21.6%,#134a85 35.6%,#1a5899 38.6%,#246aae 40.3%,#3a88bd 41.5%,#4896c5 42.0%,#8ec3dd 43.4%,#d0e4f0 45.3%,#edf2f5 47.2%,#f7f5f4 48.3%,#f9eee7 50.0%,#f8f1ed 51.4%,#f4f6f6 52.6%,#d8e8f1 54.7%,#c6dfed 55.4%,#8bc1dc 57.1%,#4595c4 58.5%,#276eb0 59.9%,#1c5c9e 61.4%,#134b86 64.7%,#124984 81.2%,#175290 84.3%,#1f63a7 86.0%,#3986bc 88.1%,#4695c4 88.8%,#8cc1dc 90.5%,#d0e5f0 91.9%,#f7f7f7 93.3%,#fcd7c1 95.9%,#f4a785 98.0%,#e7866a 99.9%,#e68569 100.1%)"></div>
<div style="top:482px;height:5px;background:linear-gradient(90deg,#e7876b 0.1%,#f4a886 2.2%,#fdddcb 5.5%,#f5f6f7 8.1%,#d0e5f0 10.2%,#98c8e0 11.9%,#4494c3 13.6%,#2970b1 15.4%,#2064aa 16.4%,#175493 18.0%,#124984 21.4%,#134b86 36.0%,#1a5898 38.6%,#246aae 40.3%,#3b88be 41.5%,#4090c1 41.7%,#4a97c5 42.0%,#91c4de 43.4%,#d1e5f0 45.3%,#f4f6f6 47.6%,#f8f4f1 48.3%,#faebe2 50.0%,#f9efe9 51.4%,#f7f7f7 52.6%,#dae9f2 54.7%,#c9e1ee 55.4%,#8fc3dd 57.1%,#4997c5 58.5%,#408fc1 58.8%,#286fb1 59.9%,#1c5c9e 61.4%,#134c87 64.2%,#124983 69.2%,#134b86 82.2%,#185494 84.6%,#2268ad 86.2%,#4393c3 88.6%,#88bfdb 90.2%,#d6e7f1 91.9%,#f6f6f7 93.1%,#fcd8c3 95.7%,#f4a885 97.8%,#e6856a 99.7%,#e58267 99.9%,#e58167 100.1%)"></div>
<div style="top:487px;height:5px;background:linear-gradient(90deg,#e58267 0.1%,#f4a885 2.4%,#fcdecb 5.7%,#f7f6f6 8.1%,#cee3ef 10.5%,#94c6df 12.1%,#4997c5 13.6%,#3d8bbf 14.0%,#256baf 15.9%,#1e60a3 16.9%,#175290 18.5%,#124984 22.1%,#134b86 36.3%,#195798 38.6%,#246aae 40.3%,#3b89be 41.5%,#4190c2 41.7%,#94c6df 43.4%,#d3e6f0 45.3%,#f7f7f7 47.6%,#fae8de 49.8%,#fae9e0 50.9%,#f6f6f7 53.1%,#d4e6f1 55.2%,#94c6df 57.1%,#4292c2 58.8%,#266caf 60.2%,#1a599a 61.8%,#134b86 64.4%,#134b86 82.0%,#185595 84.6%,#2469ae 86.2%,#4191c2 88.3%,#6eaed2 89.5%,#c9e1ee 91.4%,#e2edf3 92.1%,#f5f6f7 92.8%,#f8f2ee 93.3%,#fdd8c4 95.4%,#f4a886 97.6%,#e48166 99.7%,#e37e64 99.9%,#e37d64 100.1%)"></div>
<div style="top:492px;height:5px;background:linear-gradient(90deg,#e27c63 0.1%,#f19f7d 2.2%,#fbcfb8 5.0%,#fce0d0 6.2%,#f7f7f7 8.3%,#d2e5f0 10.5%,#98c8e0 12.1%,#4393c3 13.8%,#286fb1 15.7%,#2063a8 16.6%,#185493 18.3%,#124a85 21.8%,#134b87 36.5%,#195797 38.6%,#256bae 40.3%,#3c8abe 41.5%,#4291c2 41.7%,#8ec2dd 43.1%,#d2e5f0 45.0%,#f5f6f7 47.2%,#fbe6da 49.5%,#fbe6da 50.9%,#f5f6f7 53.6%,#d4e6f1 55.4%,#8fc3dd 57.3%,#4594c4 58.8%,#276eb0 60.2%,#1b599b 61.8%,#134c87 64.2%,#124984 78.6%,#144d8a 82.7%,#195796 84.6%,#2268ad 86.0%,#408fc1 88.1%,#4e9ac7 88.6%,#a2cde3 90.5%,#d2e5f0 91.4%,#f3f5f6 92.6%,#f8f2ef 93.1%,#fdd9c4 95.2%,#f5a886 97.3%,#e48066 99.5%,#e17a61 99.9%,#e17960 100.1%)"></div>
<div style="top:497px;height:5px;background:linear-gradient(90deg,#e0765e 0.1%,#ef9979 2.2%,#f8ba9d 4.1%,#fcdecc 6.2%,#f6f7f7 8.6%,#cfe4ef 10.7%,#93c6de 12.4%,#4796c4 13.8%,#3580b9 14.7%,#2064aa 16.6%,#175392 18.5%,#134a85 22.1%,#134c88 36.7%,#195797 38.6%,#256caf 40.3%,#3d8bbf 41.5%,#4393c3 41.7%,#93c5de 43.1%,#d0e5f0 44.8%,#f6f7f7 46.9%,#fbe4d6 49.3%,#fbe2d3 50.7%,#f9ede6 52.6%,#f6f7f7 53.8%,#d4e6f1 55.7%,#8ac0db 57.6%,#4a98c5 58.8%,#4090c1 59.0%,#2870b1 60.2%,#1f61a5 61.1%,#154e8b 63.5%,#124a85 66.1%,#134c87 81.7%,#195695 84.3%,#2469ae 86.0%,#4292c2 88.1%,#7db8d7 89.5%,#cfe4f0 91.2%,#f2f5f6 92.4%,#f7f7f6 92.6%,#fddac5 95.0%,#f5a886 97.1%,#e27c62 99.5%,#e0765e 99.9%,#df755d 100.1%)"></div>
<div style="top:502px;height:5px;background:linear-gradient(90deg,#dd7059 0.1%,#ec9374 2.2%,#f6b292 3.8%,#fcdecd 6.4%,#f5f6f7 8.8%,#cce2ef 10.9%,#8dc2dc 12.6%,#4c99c6 13.8%,#4292c2 14.0%,#2a71b2 15.7%,#1f62a7 16.9%,#185493 18.5%,#134b86 22.1%,#144c88 36.7%,#1a5898 38.6%,#266db0 40.3%,#3f8ec0 41.5%,#4896c5 41.7%,#8cc1dc 42.9%,#cee4ef 44.6%,#f4f5f6 46.4%,#f8f4f3 46.9%,#fbe2d3 49.1%,#fcdfce 50.5%,#fbe6da 52.1%,#f7f7f6 54.0%,#d9e9f1 55.7%,#cbe2ee 56.2%,#85bdd9 57.8%,#4393c3 59.0%,#2a72b2 60.2%,#1e60a3 61.4%,#154e8b 63.7%,#134a86 66.8%,#144c88 81.7%,#195797 84.3%,#2268ad 85.7%,#408fc1 87.9%,#509bc7 88.3%,#a7d0e4 90.2%,#d6e7f1 91.2%,#f6f7f7 92.4%,#fddac6 94.7%,#f5a886 96.9%,#e27b62 99.2%,#de725b 99.9%,#dd715a 100.1%)"></div>
<div style="top:507px;height:5px;background:linear-gradient(90deg,#da6a55 0.1%,#ea8d70 2.2%,#f5ad8c 3.8%,#fddcc9 6.4%,#f7f6f6 8.8%,#d1e5f0 10.9%,#93c5de 12.6%,#4594c4 14.0%,#2b73b2 15.7%,#2063a8 16.9%,#175392 18.8%,#134b86 22.5%,#144d89 36.7%,#1a5999 38.6%,#286fb0 40.3%,#4191c2 41.5%,#92c5de 42.9%,#d4e6f0 44.6%,#f4f6f7 46.2%,#f8f1ed 46.9%,#fcdfce 49.1%,#fddcc9 50.5%,#fbe3d5 52.1%,#f5f6f7 54.5%,#d2e6f0 56.2%,#8bc1dc 57.8%,#4996c5 59.0%,#3a87bd 59.5%,#246aae 60.7%,#185493 62.8%,#134b87 64.9%,#144d89 81.7%,#195696 84.1%,#2469ae 85.7%,#4393c3 87.9%,#81bad8 89.3%,#d4e6f1 90.9%,#f5f6f7 92.1%,#fddbc7 94.5%,#f5a987 96.6%,#e27a61 99.0%,#dc6e58 99.9%,#dc6d57 100.1%)"></div>
<div style="top:512px;height:5px;background:linear-gradient(90deg,#d86350 0.1%,#e58267 2.0%,#f5ad8c 4.1%,#fdddca 6.7%,#f7f7f7 9.1%,#cde3ef 11.2%,#98c8e0 12.6%,#4a97c5 14.0%,#3d8bbf 14.5%,#246aae 16.4%,#185493 18.8%,#134b87 22.5%,#144d8a 36.7%,#1a599a 38.6%,#256caf 40.1%,#3e8cbf 41.2%,#4594c4 41.5%,#97c8df 42.9%,#d3e6f0 44.3%,#f5f6f7 46.0%,#fcdecb 48.8%,#fcd7c2 50.2%,#fce0d0 52.1%,#f6f6f7 54.7%,#d1e5f0 56.4%,#85bdda 58.0%,#4292c2 59.2%,#2971b1 60.4%,#1c5d9f 61.8%,#154e8b 64.0%,#134b87 68.0%,#144d8a 81.7%,#195797 84.1%,#2268ad 85.5%,#3d8bbf 87.4%,#4896c5 87.9%,#8ac0db 89.3%,#d2e5f0 90.7%,#f4f6f6 91.9%,#f7f5f4 92.1%,#fcd6c0 94.5%,#f4a481 96.6%,#e0765e 99.0%,#da6954 99.9%,#da6954 100.1%)"></div>
<div style="top:517px;height:5px;background:linear-gradient(90deg,#d55d4c 0.1%,#e27c62 2.0%,#f5ac8b 4.3%,#fdddca 6.9%,#f6f7f7 9.3%,#d2e5f0 11.2%,#92c5de 12.8%,#4393c3 14.3%,#2a72b2 15.9%,#1f63a7 17.1%,#185493 19.0%,#134c88 22.8%,#144e8a 36.7%,#1b5a9c 38.6%,#276db0 40.1%,#408fc1 41.2%,#4a98c5 41.5%,#91c5de 42.7%,#d1e5f0 44.1%,#f6f6f7 45.7%,#fddcc9 48.6%,#fbd2bb 50.0%,#fcd7c2 51.4%,#f9ede6 54.0%,#f6f7f7 55.0%,#d7e8f1 56.4%,#c4dfec 56.9%,#8cc1dc 58.0%,#4795c4 59.2%,#2b73b2 60.4%,#1e60a4 61.6%,#15508d 63.7%,#134c88 66.6%,#144e8a 81.5%,#195696 83.8%,#246aae 85.5%,#4494c3 87.6%,#86bdda 89.1%,#cfe4f0 90.5%,#f3f5f6 91.7%,#f7f6f5 91.9%,#fcd6c1 94.3%,#f4a481 96.4%,#df755d 98.8%,#d86551 99.9%,#d86450 100.1%)"></div>
<div style="top:522px;height:5px;background:linear-gradient(90deg,#d15749 0.1%,#d96853 1.2%,#f4a785 4.3%,#fdddcb 7.2%,#f5f6f7 9.5%,#cfe4ef 11.4%,#97c8e0 12.8%,#4896c5 14.3%,#3c8abe 14.7%,#256caf 16.4%,#1e61a5 17.3%,#175392 19.2%,#144c88 23.0%,#154e8b 36.7%,#1b5b9d 38.6%,#286fb1 40.1%,#4292c2 41.2%,#97c7df 42.7%,#cfe4ef 43.8%,#f2f5f6 45.3%,#f8f4f3 45.7%,#fcd7c2 48.6%,#fbcdb5 50.0%,#fbd2bb 51.4%,#f9efe9 54.5%,#f7f7f7 55.2%,#d6e7f1 56.6%,#9fcbe2 57.8%,#69abd0 58.8%,#4191c2 59.5%,#286fb1 60.7%,#1c5c9f 62.1%,#154f8b 64.2%,#144c88 71.3%,#154e8b 81.5%,#195797 83.8%,#256baf 85.5%,#4291c2 87.4%,#76b3d4 88.6%,#cce3ef 90.2%,#f2f5f6 91.4%,#f7f7f7 91.7%,#fcd7c2 94.0%,#f4a481 96.2%,#df755d 98.5%,#d7614e 99.9%,#d6604d 100.1%)"></div>
<div style="top:527px;height:5px;background:linear-gradient(90deg,#ce5146 0.1%,#d86551 1.5%,#f4a684 4.6%,#fcdecc 7.4%,#f7f6f5 9.5%,#d3e6f0 11.4%,#92c5de 13.1%,#4d99c6 14.3%,#4292c3 14.5%,#2970b1 16.2%,#1f62a6 17.3%,#185493 19.2%,#144d89 23.0%,#154e8b 36.5%,#1b5a9b 38.4%,#266caf 39.8%,#3e8dc0 41.0%,#4795c4 41.2%,#90c4dd 42.4%,#d4e6f1 43.8%,#f6f7f7 45.3%,#fcd5c0 48.3%,#fac9af 49.8%,#facbb3 51.2%,#fbe5d8 53.8%,#f6f7f7 55.4%,#d4e6f0 56.9%,#8dc2dc 58.3%,#4594c4 59.5%,#2a71b2 60.7%,#1c5da0 62.1%,#154f8c 64.2%,#144d89 70.1%,#154f8c 81.5%,#1a5899 83.8%,#246aae 85.3%,#408fc1 87.2%,#509bc8 87.6%,#a3cee3 89.3%,#d4e6f1 90.2%,#f6f7f7 91.4%,#fcd8c3 93.8%,#f4a481 95.9%,#df745c 98.3%,#d45d4c 99.9%,#d45c4b 100.1%)"></div>
<div style="top:532px;height:5px;background:linear-gradient(90deg,#cb4b43 0.1%,#d96752 2.0%,#f4a683 4.8%,#fcdecc 7.6%,#f7f7f7 9.8%,#d1e5f0 11.7%,#97c8df 13.1%,#4695c4 14.5%,#2d75b4 15.9%,#1f63a7 17.3%,#185594 19.2%,#144d8a 23.3%,#154f8c 36.5%,#1b5b9c 38.4%,#276eb0 39.8%,#4190c1 41.0%,#5ca3cb 41.5%,#96c7df 42.4%,#d1e5f0 43.6%,#f5f6f7 45.0%,#fcd4be 48.1%,#f9c5ab 49.5%,#f9c5ab 50.9%,#fcd6c1 52.6%,#f6f6f7 55.7%,#d1e5f0 57.1%,#87beda 58.5%,#4c99c6 59.5%,#4190c1 59.7%,#276eb0 60.9%,#1b5a9b 62.5%,#154f8c 64.4%,#154e8b 81.0%,#195798 83.6%,#256baf 85.3%,#4292c3 87.2%,#7ab6d6 88.3%,#c5dfed 89.8%,#dae9f2 90.2%,#f5f6f7 91.2%,#fdd8c4 93.6%,#f4a482 95.7%,#de735c 98.0%,#d45b4b 99.7%,#d2594a 99.9%,#d25849 100.1%)"></div>
<div style="top:537px;height:5px;background:linear-gradient(90deg,#c94540 0.1%,#d6604d 2.0%,#ec9374 4.3%,#f6ae8e 5.5%,#fddcc8 7.6%,#f6f7f7 10.0%,#cde3ef 11.9%,#91c4de 13.3%,#4b98c6 14.5%,#4191c2 14.7%,#286fb1 16.4%,#1e61a5 17.6%,#185594 19.5%,#144e8a 23.5%,#154f8d 36.5%,#1c5c9d 38.4%,#2870b1 39.8%,#4393c3 41.0%,#9bcae1 42.4%,#d6e7f1 43.6%,#f4f6f6 44.8%,#f9f0ea 45.5%,#fcd3bc 47.9%,#f9c2a7 49.3%,#f8c0a4 50.7%,#facbb3 52.1%,#fbe3d4 54.0%,#f7f5f4 55.7%,#f0f4f6 56.2%,#cde3ef 57.3%,#8fc3dd 58.5%,#4494c3 59.7%,#2970b1 60.9%,#1c5d9f 62.3%,#15508d 64.4%,#154e8b 80.5%,#195797 83.4%,#246aae 85.0%,#4190c1 86.9%,#539dc8 87.4%,#a8d0e4 89.1%,#cfe4f0 89.8%,#f4f6f6 90.9%,#f7f5f4 91.2%,#fdd9c5 93.3%,#f4a582 95.4%,#de735b 97.8%,#d35a4a 99.5%,#d05548 99.9%,#d05447 100.1%)"></div>
<div style="top:542px;height:5px;background:linear-gradient(90deg,#c6403e 0.1%,#d55e4c 2.2%,#e98b6e 4.3%,#f5ae8d 5.7%,#fddcc9 7.9%,#f5f6f7 10.2%,#d2e5f0 11.9%,#97c7df 13.3%,#4494c3 14.7%,#2c74b3 16.2%,#1f62a6 17.6%,#185595 19.5%,#154e8b 23.5%,#16508d 36.5%,#1c5d9f 38.4%,#266daf 39.6%,#3f8ec0 40.8%,#4997c5 41.0%,#95c6df 42.2%,#d3e6f0 43.4%,#f3f5f6 44.6%,#f7f6f6 44.8%,#fbd2bb 47.6%,#f8bfa4 49.1%,#f8bb9e 50.5%,#f9c4aa 51.9%,#fbe3d4 54.3%,#f7f6f5 55.9%,#dbeaf2 57.1%,#c9e1ee 57.6%,#88bfdb 58.8%,#4b98c6 59.7%,#408fc1 59.9%,#276db0 61.1%,#1b5a9b 62.8%,#15508d 64.7%,#16508d 81.2%,#1b5a9b 83.6%,#256baf 85.0%,#4493c3 86.9%,#7eb9d7 88.1%,#cce3ef 89.5%,#f3f5f6 90.7%,#f7f6f5 90.9%,#fddac5 93.1%,#f4a582 95.2%,#de725b 97.6%,#d15648 99.5%,#ce5146 99.9%,#ce5045 100.1%)"></div>
<div style="top:547px;height:5px;background:linear-gradient(90deg,#c43c3c 0.1%,#d25749 2.2%,#de725b 3.6%,#f5a886 5.7%,#fddcc9 8.1%,#f7f6f5 10.2%,#cfe4ef 12.1%,#90c4dd 13.6%,#4997c5 14.7%,#4190c1 15.0%,#276eb0 16.6%,#1e60a4 17.8%,#185594 19.7%,#154f8c 23.7%,#16518e 36.5%,#1d5da0 38.4%,#276eb0 39.6%,#4291c2 40.8%,#9ac9e0 42.2%,#cfe4ef 43.1%,#f2f5f6 44.3%,#f7f7f7 44.6%,#fcd5bf 47.2%,#f8bda1 48.8%,#f7b698 50.2%,#f8bda1 51.7%,#fcd3bd 53.3%,#f7f7f7 56.2%,#d9e9f1 57.3%,#d1e5f0 57.6%,#91c4de 58.8%,#4393c3 59.9%,#286fb1 61.1%,#1c5c9f 62.5%,#16518f 64.4%,#154f8c 74.6%,#16518f 81.5%,#1b5b9c 83.6%,#246aae 84.8%,#4191c2 86.7%,#6daed1 87.6%,#aed3e6 88.8%,#d4e6f1 89.5%,#f7f7f7 90.7%,#fddac6 92.8%,#f4a582 95.0%,#df755d 97.1%,#d25849 99.0%,#cc4d44 99.9%,#cc4c44 100.1%)"></div>
<div style="top:552px;height:5px;background:linear-gradient(90deg,#c2373a 0.1%,#d15548 2.4%,#dd7059 3.8%,#f5ac8c 6.2%,#fdddca 8.3%,#f7f7f6 10.5%,#d3e6f0 12.1%,#96c7df 13.6%,#4392c3 15.0%,#2b73b3 16.4%,#1f61a5 17.8%,#185695 19.7%,#154f8c 24.0%,#16518e 36.3%,#1c5c9e 38.2%,#256caf 39.3%,#3e8cbf 40.5%,#4695c4 40.8%,#94c6de 42.0%,#d4e7f1 43.1%,#f6f7f7 44.3%,#fcd4bf 46.9%,#f8bb9e 48.6%,#f6b292 50.0%,#f7b798 51.4%,#facbb2 53.1%,#fce0d0 54.5%,#f6f7f7 56.4%,#d6e7f1 57.6%,#b2d5e7 58.3%,#8ac0db 59.0%,#4b98c6 59.9%,#408fc1 60.2%,#2a72b2 61.1%,#1e5fa3 62.3%,#16518f 64.4%,#154f8c 72.2%,#16518f 81.2%,#1b5a9b 83.4%,#256caf 84.8%,#408ec1 86.4%,#519cc8 86.9%,#9ecbe1 88.3%,#d2e6f0 89.3%,#f6f7f7 90.5%,#fddbc7 92.6%,#f4a582 94.7%,#df755d 96.9%,#d15749 98.8%,#cb4942 99.9%,#ca4842 100.1%)"></div>
<div style="top:557px;height:5px;background:linear-gradient(90deg,#c03338 0.1%,#ce4f45 2.4%,#d96853 3.8%,#f4a684 6.2%,#fdddca 8.6%,#f6f7f7 10.7%,#d1e5f0 12.4%,#90c3dd 13.8%,#4796c4 15.0%,#337eb8 15.9%,#2065aa 17.6%,#195797 19.5%,#15508d 23.7%,#16518f 36.3%,#1c5da0 38.2%,#266db0 39.3%,#408fc1 40.5%,#4c98c6 40.8%,#9ac9e0 42.0%,#d1e5f0 42.9%,#f5f6f7 44.1%,#fcd4be 46.7%,#f7b99c 48.3%,#f6ae8e 49.8%,#f6b191 51.2%,#f9c3a8 52.8%,#fce0d0 54.7%,#f5f6f7 56.6%,#d4e6f0 57.8%,#93c5de 59.0%,#4393c3 60.2%,#276eb0 61.4%,#1c5c9e 62.8%,#16518f 64.7%,#16518f 81.0%,#1a599a 83.1%,#246aae 84.6%,#3e8cbf 86.2%,#4292c3 86.4%,#7fb9d8 87.6%,#d0e4f0 89.1%,#f5f6f7 90.2%,#fcd6c0 92.6%,#f4a582 94.5%,#df745c 96.6%,#d3594a 98.3%,#c94540 99.9%,#c84540 100.1%)"></div>
<div style="top:562px;height:5px;background:linear-gradient(90deg,#be3036 0.1%,#cd4d44 2.7%,#d86551 4.1%,#ee9777 6.0%,#f7b798 7.2%,#fdddcb 8.8%,#f5f6f7 10.9%,#cde3ef 12.6%,#96c7df 13.8%,#4c99c6 15.0%,#4291c2 15.2%,#2a72b2 16.6%,#1e61a5 18.0%,#185595 20.2%,#16508e 24.4%,#175290 36.3%,#1d5ea1 38.2%,#286fb1 39.3%,#4393c3 40.5%,#92c5de 41.7%,#cbe2ee 42.7%,#edf2f5 43.6%,#f7f6f5 44.1%,#fcd6c1 46.4%,#f7b89a 48.3%,#f5ab8a 49.8%,#f5ad8c 50.9%,#f9c1a6 52.8%,#fcdfcd 54.7%,#f7f6f4 56.6%,#e8f0f4 57.3%,#d1e5f0 58.0%,#8bc1dc 59.2%,#4a97c5 60.2%,#3f8ec0 60.4%,#2971b1 61.4%,#1d5fa2 62.5%,#175290 64.7%,#165290 80.8%,#1b5a9b 83.1%,#256caf 84.6%,#4090c1 86.2%,#549ec9 86.7%,#a3cee3 88.1%,#cce3ef 88.8%,#edf2f5 89.8%,#f4f5f6 90.0%,#f7f5f4 90.2%,#fcd6c1 92.4%,#f4a582 94.3%,#de735c 96.4%,#d25849 98.0%,#c7423f 99.9%,#c7413e 100.1%)"></div>
<div style="top:567px;height:5px;background:linear-gradient(90deg,#bc2c34 0.1%,#cc4b43 2.9%,#da6853 4.6%,#f4a582 6.7%,#fcdecc 9.1%,#f7f6f5 10.9%,#d2e6f0 12.6%,#8fc3dd 14.0%,#4595c4 15.2%,#2b73b3 16.6%,#1e60a3 18.3%,#185595 20.4%,#16518e 24.9%,#175291 36.3%,#1d5fa2 38.2%,#2971b2 39.3%,#3f8dc0 40.3%,#4896c5 40.5%,#99c9e0 41.7%,#d3e6f0 42.7%,#f2f5f6 43.6%,#f7f6f6 43.8%,#fcdfce 45.7%,#f6ae8e 49.3%,#f4a885 50.2%,#f7b597 51.7%,#fce1d1 55.0%,#f7f6f6 56.9%,#deebf2 57.8%,#cbe2ee 58.3%,#93c6de 59.2%,#4292c2 60.4%,#2b73b2 61.4%,#1e60a4 62.5%,#175291 64.7%,#165290 80.5%,#1a599b 82.9%,#276eb0 84.6%,#4494c3 86.2%,#85bdda 87.4%,#d5e7f1 88.8%,#f7f6f5 90.0%,#fcd7c2 92.1%,#f4a683 94.0%,#de735b 96.2%,#d25849 97.8%,#c53f3d 99.9%,#c53e3d 100.1%)"></div>
<div style="top:572px;height:5px;background:linear-gradient(90deg,#b92732 0.1%,#cb4a42 3.1%,#d96752 4.8%,#f09d7c 6.7%,#fddbc7 9.1%,#f7f6f6 11.2%,#cfe4f0 12.8%,#97c7df 14.0%,#4c99c6 15.2%,#4191c2 15.4%,#2971b2 16.9%,#1c5d9f 18.8%,#175392 21.8%,#175391 36.0%,#1d5ea1 37.9%,#276eb0 39.1%,#3b88be 40.1%,#4191c2 40.3%,#81bad8 41.2%,#afd4e6 42.0%,#cfe4ef 42.4%,#f1f4f6 43.4%,#f7f7f7 43.6%,#fbe2d3 45.3%,#fbcdb5 46.9%,#f4a583 49.8%,#f4a482 50.5%,#fcdfce 55.0%,#f6f7f7 57.1%,#d3e6f0 58.3%,#8bc0db 59.5%,#4796c4 60.4%,#2c75b4 61.4%,#1e61a5 62.5%,#175392 64.7%,#175290 80.1%,#1a599a 82.7%,#266caf 84.3%,#4292c2 86.0%,#73b1d3 86.9%,#9dcbe1 87.6%,#d3e6f0 88.6%,#f7f7f6 89.8%,#fcd8c3 91.9%,#f4a683 93.8%,#de725b 95.9%,#d25749 97.6%,#c43b3c 99.9%,#c33b3b 100.1%)"></div>
<div style="top:577px;height:5px;background:linear-gradient(90deg,#b72230 0.1%,#c84440 3.1%,#d86651 5.0%,#f09c7b 6.9%,#fddbc7 9.3%,#f7f7f7 11.4%,#d4e7f1 12.8%,#9ecbe1 14.0%,#71b0d3 14.7%,#4594c4 15.4%,#2b73b2 16.9%,#1e5fa3 18.5%,#185695 20.9%,#165290 26.1%,#175392 36.0%,#1d5fa2 37.9%,#2870b1 39.1%,#3e8cbf 40.1%,#4695c4 40.3%,#99c9e0 41.5%,#c9e1ee 42.2%,#d6e7f1 42.4%,#f5f6f7 43.4%,#fcdecb 45.5%,#f19e7d 49.8%,#f19d7c 50.5%,#fbceb6 53.8%,#fce2d2 55.4%,#f4f6f7 57.3%,#d7e8f1 58.3%,#bedbeb 58.8%,#92c5de 59.5%,#4d9ac7 60.4%,#4090c1 60.7%,#2971b2 61.6%,#1e5fa3 62.8%,#175392 64.9%,#175492 80.8%,#1c5c9e 82.9%,#246bae 84.1%,#4090c1 85.7%,#4997c5 86.0%,#a8d0e4 87.6%,#d2e5f0 88.3%,#f7f7f7 89.5%,#fdd8c3 91.7%,#f4a683 93.6%,#de725b 95.7%,#d15749 97.3%,#c2383a 99.9%,#c2383a 100.1%)"></div>
<div style="top:582px;height:5px;background:linear-gradient(90deg,#b41c2d 0.1%,#c7433f 3.4%,#d86450 5.3%,#ec9475 6.9%,#f6b090 7.9%,#fddbc8 9.5%,#f6f6f7 11.7%,#d2e6f0 13.1%,#98c8e0 14.3%,#4c99c6 15.4%,#4191c2 15.7%,#2970b1 17.1%,#1c5da0 19.0%,#175492 22.3%,#185493 36.0%,#1e60a3 37.9%,#2a72b2 39.1%,#408fc1 40.1%,#4d99c6 40.3%,#92c5de 41.2%,#d2e5f0 42.2%,#f4f6f6 43.1%,#f7f5f3 43.4%,#fce0cf 45.0%,#f4a481 49.1%,#ed9475 50.0%,#ef9979 50.7%,#f7b697 52.4%,#fce0cf 55.4%,#f8f2ef 57.1%,#f7f6f5 57.3%,#dceaf2 58.3%,#c6dfed 58.8%,#89bfdb 59.7%,#4393c3 60.7%,#2b73b3 61.6%,#1e60a4 62.8%,#185493 64.9%,#185493 80.5%,#1b5b9d 82.7%,#266daf 84.1%,#4594c4 85.7%,#98c8e0 87.2%,#d0e4f0 88.1%,#f6f6f7 89.3%,#fdd9c4 91.4%,#f4a683 93.3%,#de725b 95.4%,#d15648 97.1%,#c13539 99.9%,#c03539 100.1%)"></div>
<div style="top:587px;height:5px;background:linear-gradient(90deg,#b0172b 0.1%,#bd2d35 2.2%,#d05548 4.8%,#dd6f58 6.0%,#f5a988 7.9%,#fddcc8 9.8%,#f7f5f4 11.7%,#f5f6f7 11.9%,#cfe4ef 13.3%,#93c5de 14.5%,#4595c4 15.7%,#2d76b4 16.9%,#2063a8 18.3%,#1a5899 20.4%,#175391 25.1%,#185594 36.0%,#1e61a5 37.9%,#2c74b3 39.1%,#4393c3 40.1%,#9ac9e0 41.2%,#cce3ef 42.0%,#ebf1f5 42.7%,#f7f6f5 43.1%,#fbe2d3 44.6%,#fbcfb7 46.0%,#f2a17f 48.8%,#ea8f71 49.8%,#ea8e70 50.5%,#f5ad8c 52.1%,#fce0cf 55.7%,#f8f3f1 57.3%,#f7f7f7 57.6%,#d9e9f1 58.5%,#cee4ef 58.8%,#91c4de 59.7%,#4a97c5 60.7%,#3f8dc0 60.9%,#286fb1 61.8%,#1d5fa2 63.0%,#185493 65.1%,#185494 80.5%,#1c5c9f 82.7%,#256baf 83.8%,#3d8cbf 85.3%,#4292c3 85.5%,#87beda 86.7%,#cde3ef 87.9%,#f5f6f7 89.1%,#fdd9c5 91.2%,#f4a684 93.1%,#de725b 95.2%,#d3594a 96.6%,#c03438 99.7%,#bf3237 99.9%,#bf3237 100.1%)"></div>
<div style="top:592px;height:5px;background:linear-gradient(90deg,#a9152a 0.1%,#b41c2d 1.2%,#cb4a43 4.6%,#d96853 6.0%,#f5a987 8.1%,#fddcc9 10.0%,#f7f6f5 11.9%,#d4e7f1 13.3%,#9ac9e0 14.5%,#4c99c6 15.7%,#4191c2 15.9%,#2870b1 17.3%,#1c5da0 19.2%,#185493 23.0%,#185595 36.0%,#1f62a6 37.9%,#2970b1 38.9%,#3f8ec0 39.8%,#4a98c5 40.1%,#92c5de 41.0%,#d5e7f1 42.0%,#f7f7f7 42.9%,#fbe2d3 44.3%,#fbceb6 45.7%,#f19f7d 48.6%,#e7876b 49.8%,#e6866a 50.5%,#f19e7c 51.7%,#f9c5ab 54.0%,#fce0cf 55.9%,#f5f6f7 57.8%,#d5e7f1 58.8%,#86beda 59.9%,#4191c2 60.9%,#2971b2 61.8%,#1e60a3 63.0%,#185494 65.1%,#185595 80.5%,#1c5c9e 82.4%,#276eb0 83.8%,#4190c2 85.3%,#58a0ca 85.7%,#a0cce2 86.9%,#d6e7f1 87.9%,#f4f6f6 88.8%,#f7f5f3 89.1%,#fddac5 90.9%,#f4a684 92.8%,#de715a 95.0%,#d2594a 96.4%,#be3137 99.7%,#be2f36 99.9%,#bd2f36 100.1%)"></div>
<div style="top:597px;height:5px;background:linear-gradient(90deg,#a21329 0.1%,#b41c2d 1.7%,#ca4842 4.8%,#d96752 6.2%,#f3a27f 8.1%,#fddcc9 10.2%,#f7f7f6 12.1%,#d2e6f0 13.6%,#95c6df 14.7%,#4595c4 15.9%,#2d76b4 17.1%,#1f63a8 18.5%,#1a5999 20.7%,#185493 25.6%,#195696 36.0%,#1f63a8 37.9%,#2b73b2 38.9%,#4292c2 39.8%,#9bcae1 41.0%,#d1e5f0 41.7%,#f6f6f7 42.7%,#fcdfce 44.3%,#f3a280 48.1%,#e58267 49.5%,#e37d63 50.2%,#e88a6d 51.2%,#f5aa89 52.6%,#fce0cf 56.2%,#f7f6f5 57.8%,#e3eef3 58.5%,#d0e4f0 59.0%,#8fc3dd 59.9%,#4695c4 60.9%,#2b73b3 61.8%,#1f63a8 62.8%,#195696 64.7%,#185493 70.8%,#195696 80.8%,#1c5d9f 82.4%,#2970b1 83.8%,#3f8ec1 85.0%,#4796c4 85.3%,#9dcbe1 86.7%,#d4e7f1 87.6%,#f3f5f6 88.6%,#f7f6f4 88.8%,#fddac6 90.7%,#f4a784 92.6%,#de715a 94.7%,#d2594a 96.2%,#be3036 99.5%,#bc2c35 99.9%,#bc2c34 100.1%)"></div>
<div style="top:602px;height:5px;background:linear-gradient(90deg,#9c1127 0.1%,#b41b2d 2.2%,#c94641 5.0%,#d86551 6.4%,#f2a17f 8.3%,#fdddca 10.5%,#f6f7f7 12.4%,#cfe4ef 13.8%,#8ec2dd 15.0%,#4d99c6 15.9%,#4191c2 16.2%,#2b73b3 17.3%,#1f62a6 18.8%,#1a5899 21.1%,#185594 26.8%,#195696 35.8%,#1f61a5 37.7%,#2c75b4 38.9%,#3e8cc0 39.6%,#4896c5 39.8%,#a4cee3 41.0%,#cae1ee 41.5%,#e3edf3 42.0%,#f4f6f6 42.4%,#f8f4f2 42.7%,#fcdfce 44.1%,#f29f7e 47.9%,#e17a61 49.5%,#df765e 50.2%,#e58267 51.2%,#f5a987 52.8%,#fcdecb 56.2%,#f8f3f0 57.8%,#f7f7f7 58.0%,#d6e7f1 59.0%,#c8e1ee 59.2%,#84bcd9 60.2%,#4c99c6 60.9%,#408ec1 61.1%,#286fb1 62.1%,#1e5fa3 63.3%,#185595 65.4%,#195796 80.5%,#1d5ea1 82.4%,#2b73b3 83.8%,#4393c3 85.0%,#9bc9e0 86.4%,#d3e6f0 87.4%,#f7f6f6 88.6%,#fddbc7 90.5%,#f4a784 92.4%,#dd715a 94.5%,#d25849 95.9%,#bc2d35 99.5%,#bb2933 99.9%,#ba2933 100.1%)"></div>
<div style="top:607px;height:5px;background:linear-gradient(90deg,#950f26 0.1%,#b31b2c 2.7%,#c84440 5.3%,#d86450 6.7%,#ee9878 8.3%,#f7b698 9.3%,#fdddca 10.7%,#f5f6f7 12.6%,#d5e7f1 13.8%,#96c7df 15.0%,#4595c4 16.2%,#2c75b4 17.3%,#1f63a7 18.8%,#1a599a 21.1%,#185595 26.8%,#195797 35.8%,#1f62a7 37.7%,#2a71b2 38.6%,#4190c2 39.6%,#62a7ce 40.1%,#9dcae1 40.8%,#d4e6f1 41.5%,#f2f5f6 42.2%,#f7f5f3 42.4%,#fbe2d3 43.6%,#fbcfb8 44.8%,#f09d7c 47.6%,#e0765e 49.3%,#dc6f58 50.2%,#e17a61 51.2%,#f5ab8a 53.3%,#fce0d0 56.6%,#f5f6f7 58.3%,#d2e5f0 59.2%,#8dc2dc 60.2%,#4292c2 61.1%,#2a71b2 62.1%,#1e60a4 63.3%,#195696 65.4%,#195797 80.3%,#1d5ea0 82.2%,#2a71b2 83.6%,#4191c2 84.8%,#69abd0 85.5%,#98c8e0 86.2%,#d1e5f0 87.2%,#f7f7f7 88.3%,#fddbc7 90.2%,#f4a784 92.1%,#dd715a 94.3%,#d25849 95.7%,#bc2c35 99.2%,#b92632 99.9%,#b92632 100.1%)"></div>
<div style="top:612px;height:5px;background:linear-gradient(90deg,#8f0d25 0.1%,#b31b2c 3.1%,#c7423f 5.5%,#d7634f 6.9%,#ee9778 8.6%,#f7b697 9.5%,#fdddcb 10.9%,#f7f5f4 12.6%,#f4f6f6 12.8%,#d2e6f0 14.0%,#90c4dd 15.2%,#4d99c6 16.2%,#4191c2 16.4%,#2a72b2 17.6%,#1f62a6 19.0%,#1a5999 21.6%,#195695 28.9%,#195798 35.8%,#2064a9 37.7%,#2c74b3 38.6%,#3e8cbf 39.3%,#4896c5 39.6%,#a8d0e4 40.8%,#d0e4f0 41.2%,#f0f4f6 42.0%,#f7f6f5 42.2%,#fbe2d3 43.4%,#fbcfb7 44.6%,#f2a07e 47.2%,#dd715a 49.3%,#da6853 50.2%,#df745c 51.2%,#f5aa88 53.6%,#fce0d0 56.9%,#f7f5f3 58.3%,#f3f5f6 58.5%,#d8e8f1 59.2%,#cbe2ee 59.5%,#82bbd8 60.4%,#4896c5 61.1%,#3783bb 61.6%,#276eb0 62.3%,#1d5da0 63.7%,#195696 65.9%,#195798 80.3%,#1d5fa2 82.2%,#286fb1 83.4%,#408fc1 84.6%,#4997c5 84.8%,#a3cee3 86.2%,#cfe4ef 86.9%,#f6f7f7 88.1%,#fcd5c0 90.2%,#f4a785 91.9%,#dd715a 94.0%,#d25749 95.4%,#bc2b34 99.0%,#b82430 99.9%,#b72330 100.1%)"></div>
<div style="top:617px;height:5px;background:linear-gradient(90deg,#890b24 0.1%,#b31a2c 3.6%,#c84440 6.0%,#d96853 7.4%,#f4a885 9.3%,#fcdecb 11.2%,#f7f6f5 12.8%,#d7e8f1 14.0%,#c1ddec 14.5%,#88bfdb 15.4%,#4695c4 16.4%,#2c74b3 17.6%,#1f62a7 19.0%,#1a599a 21.6%,#195696 28.9%,#1a5899 35.8%,#1f63a7 37.5%,#2a72b2 38.4%,#4292c2 39.3%,#7ab6d6 40.1%,#b6d7e8 40.8%,#cae1ee 41.0%,#e4eef4 41.5%,#f7f7f7 42.0%,#fbe2d3 43.1%,#fbceb6 44.3%,#f19e7d 46.9%,#d86551 49.8%,#d86450 50.5%,#e8896c 52.4%,#f5ac8b 54.0%,#fce0cf 57.1%,#f8f1ed 58.3%,#f7f6f5 58.5%,#dfecf3 59.2%,#d4e6f1 59.5%,#8bc1dc 60.4%,#4f9ac7 61.1%,#408fc1 61.4%,#286fb1 62.3%,#1e60a3 63.5%,#195797 65.6%,#1a5899 80.3%,#1d5ea1 82.0%,#276eb0 83.1%,#4594c4 84.6%,#a0cce2 86.0%,#cce3ef 86.7%,#eff3f5 87.6%,#f5f6f7 87.9%,#fcd6c1 90.0%,#f4a785 91.7%,#dd705a 93.8%,#d15749 95.2%,#bb2b34 98.8%,#b6212f 99.9%,#b6202f 100.1%)"></div>
<div style="top:622px;height:5px;background:linear-gradient(90deg,#830924 0.1%,#aa152a 3.4%,#b51d2e 4.3%,#c94741 6.4%,#d96652 7.6%,#f4a785 9.5%,#fddac6 11.2%,#f7f7f7 13.1%,#d5e7f1 14.3%,#a0cce2 15.2%,#80bad8 15.7%,#4d99c6 16.4%,#4190c2 16.6%,#2a72b2 17.8%,#1f62a6 19.2%,#1a599a 22.3%,#1a5899 35.6%,#1f62a6 37.2%,#286fb1 38.2%,#3f8ec0 39.1%,#4393c3 39.2%,#7db8d7 39.9%,#a6cfe4 40.4%,#cee4ef 40.9%,#f1f4f6 41.6%,#f7f6f5 41.8%,#fce1d1 43.0%,#f3a481 46.3%,#d55e4c 49.6%,#d35a4a 50.4%,#db6b55 51.3%,#f5ac8b 54.4%,#fce1d2 57.5%,#f8f4f2 58.6%,#f4f5f6 58.9%,#d6e7f1 59.6%,#b1d5e7 60.1%,#8ac0db 60.5%,#4c99c6 61.2%,#4393c3 61.4%,#2971b2 62.3%,#1e60a4 63.5%,#195798 65.6%,#1a599a 80.3%,#1e5fa3 82.0%,#2970b1 83.1%,#4292c2 84.3%,#7eb8d7 85.3%,#bbdaea 86.2%,#d5e7f1 86.7%,#f5f6f7 87.6%,#f8f0ec 88.1%,#fcd7c1 89.8%,#f4a785 91.4%,#dd7059 93.6%,#d15749 95.0%,#bb2a34 98.5%,#b51e2e 99.9%,#b51d2d 100.1%)"></div>
<div style="top:627px;height:5px;background:linear-gradient(90deg,#7e0723 0.1%,#a01228 3.1%,#b31a2c 4.6%,#c53e3d 6.4%,#d86551 7.9%,#f4a784 9.8%,#fddac6 11.4%,#f6f7f7 13.3%,#d2e6f0 14.5%,#8ac0db 15.7%,#4695c4 16.6%,#2b74b3 17.8%,#2064a9 19.0%,#1b5b9d 21.4%,#195798 27.8%,#1a599a 35.6%,#1f63a8 37.2%,#2b73b2 38.2%,#4594c4 39.1%,#aad1e5 40.3%,#d2e6f0 40.8%,#f3f5f6 41.5%,#f7f7f7 41.6%,#fbe4d7 42.5%,#fbcfb8 43.7%,#f09b7b 46.3%,#d15749 49.4%,#cc4d44 50.1%,#d05548 50.8%,#f2a17f 54.1%,#fcdecc 57.5%,#f9f0eb 58.6%,#f7f5f3 58.9%,#f2f4f6 59.1%,#d1e5f0 59.8%,#94c6df 60.5%,#539dc9 61.2%,#4291c2 61.5%,#2d76b4 62.2%,#2064aa 63.1%,#1a599a 65.0%,#1a599a 79.9%,#1e60a3 81.8%,#2971b2 83.0%,#4493c3 84.2%,#a2cde2 85.6%,#cee4ef 86.3%,#f7f7f7 87.5%,#fddac6 89.4%,#f4a582 91.3%,#de725b 93.2%,#d25849 94.6%,#bd2d35 97.9%,#b31a2c 100.1%)"></div>
<div style="top:632px;height:5px;background:linear-gradient(90deg,#7a0622 0.1%,#991027 3.1%,#b3192c 5.0%,#c33b3b 6.7%,#d7634f 8.1%,#f4a684 10.0%,#fddbc7 11.7%,#f8f4f3 13.3%,#f5f6f7 13.6%,#cee4ef 14.7%,#94c6df 15.7%,#4d9ac7 16.6%,#4190c2 16.9%,#2971b2 18.0%,#1f62a6 19.5%,#1a599a 23.0%,#1b5a9b 35.6%,#2064aa 37.2%,#2d76b4 38.2%,#4190c2 38.9%,#509bc8 39.1%,#a3cee3 40.1%,#cde3ef 40.5%,#f1f4f6 41.2%,#f7f5f4 41.5%,#fbe3d5 42.4%,#fbd2bb 43.4%,#f09b7a 46.0%,#cf5347 49.1%,#c6413e 50.0%,#c94641 50.7%,#dc6f58 52.4%,#f5ab89 55.0%,#fcdfce 57.8%,#f4f6f6 59.2%,#d3e6f0 59.9%,#94c6df 60.7%,#519cc8 61.4%,#4190c1 61.6%,#2c75b4 62.3%,#2064a9 63.3%,#1b5a9b 65.1%,#1b5a9b 80.1%,#1e60a4 81.7%,#2a72b2 82.9%,#3e8dc0 83.8%,#4795c4 84.1%,#98c8e0 85.3%,#d2e6f0 86.2%,#f3f5f6 87.2%,#f7f6f5 87.4%,#fcd8c3 89.3%,#f2a17f 91.2%,#dd7059 93.1%,#d15648 94.5%,#ba2933 98.0%,#b2182b 99.9%,#b1182b 100.1%)"></div>
<div style="top:637px;height:5px;background:linear-gradient(90deg,#760521 0.1%,#930e26 3.1%,#b3192c 5.5%,#c1373a 6.9%,#da6954 8.6%,#f4a683 10.2%,#fddbc8 11.9%,#f7f5f4 13.6%,#f3f5f6 13.8%,#d5e7f1 14.7%,#acd2e5 15.4%,#8cc1dc 15.9%,#4695c4 16.9%,#2f78b5 17.8%,#2166ac 19.0%,#1c5d9f 21.1%,#1a5999 27.3%,#1b5b9c 35.6%,#2166ac 37.2%,#2b74b3 37.9%,#3e8cc0 38.6%,#4997c5 38.9%,#9dcbe1 39.8%,#c7e0ed 40.3%,#d8e8f1 40.5%,#f7f6f6 41.2%,#fbe3d5 42.2%,#fbd1bb 43.1%,#f19e7c 45.5%,#cf5246 48.6%,#c13739 49.8%,#c13639 50.5%,#cb4a42 51.4%,#e27b62 53.3%,#f5ad8d 55.4%,#fcdfce 58.0%,#f9efe9 59.0%,#f8f4f2 59.2%,#f7f7f7 59.3%,#d4e7f1 60.1%,#94c6de 60.8%,#4e9ac7 61.5%,#4494c3 61.6%,#2e77b5 62.3%,#2268ad 63.0%,#1b5b9c 64.9%,#1a5999 73.2%,#1b5b9c 80.3%,#1f61a5 81.7%,#2c75b4 82.9%,#4393c3 83.8%,#a3cee3 85.3%,#d1e5f0 86.0%,#f7f6f6 87.2%,#fdd8c4 89.1%,#f2a17f 90.9%,#dd6f59 92.8%,#d15548 94.3%,#bb2a34 97.6%,#b0172b 99.7%,#af172a 99.9%,#ae172a 100.1%)"></div>
<div style="top:642px;height:5px;background:linear-gradient(90deg,#730421 0.1%,#8d0c25 3.1%,#b2192b 6.0%,#c3393b 7.4%,#d96752 8.8%,#f4a683 10.5%,#fddcc8 12.1%,#f7f6f6 13.8%,#d2e6f0 15.0%,#96c7df 15.9%,#4e9ac7 16.9%,#4190c2 17.1%,#2970b1 18.3%,#1f62a6 19.7%,#1b5a9b 23.7%,#1b5b9c 35.3%,#2065aa 37.0%,#2e77b5 37.9%,#4392c3 38.6%,#80bad8 39.3%,#c1ddeb 40.1%,#d4e7f1 40.3%,#f6f7f7 41.0%,#fce0cf 42.2%,#f2a17f 45.0%,#d25849 47.9%,#bd2e35 49.5%,#ba2833 50.2%,#be3137 50.9%,#db6a55 53.1%,#f5ab8a 55.7%,#fcdfcd 58.3%,#f9efea 59.2%,#f7f5f4 59.5%,#f0f3f6 59.7%,#d6e8f1 60.2%,#c2ddec 60.4%,#93c6de 60.9%,#4c99c6 61.6%,#4292c3 61.7%,#2d76b4 62.4%,#2267ad 63.1%,#1b5b9d 65.0%,#1b5a9b 79.2%,#1e60a3 81.4%,#2970b1 82.5%,#4695c4 83.7%,#99c8e0 84.9%,#d4e6f1 85.9%,#f4f6f6 86.8%,#f7f5f3 87.0%,#fcd5c0 88.9%,#f4a582 90.6%,#de725b 92.5%,#d15749 93.9%,#bb2b34 97.2%,#b0172b 99.3%,#ab162a 100.1%)"></div>
<div style="top:647px;height:5px;background:linear-gradient(90deg,#700320 0.1%,#880a24 3.1%,#b2192b 6.4%,#c03539 7.6%,#d86551 9.1%,#f4a583 10.7%,#fddcc9 12.4%,#f7f7f7 14.0%,#cee3ef 15.2%,#8fc3dd 16.2%,#4695c4 17.1%,#2e77b5 18.0%,#2267ad 19.0%,#1c5da0 21.4%,#1b5a9b 28.5%,#1b5b9d 35.3%,#2166ac 37.0%,#2c74b3 37.7%,#3f8ec0 38.4%,#4493c3 38.5%,#9ac9e0 39.5%,#c5dfed 39.9%,#d7e8f1 40.2%,#f7f6f5 40.9%,#fce2d3 41.8%,#fbcdb6 42.8%,#f2a17f 44.7%,#d45b4b 47.3%,#b82431 49.4%,#b51d2d 50.1%,#b82330 50.8%,#cd4e44 52.5%,#e17a61 54.1%,#f5ab8a 56.0%,#fce0d0 58.6%,#f8f3f1 59.6%,#f7f7f7 59.7%,#d1e5f0 60.4%,#87beda 61.1%,#559fc9 61.6%,#4291c2 61.8%,#2c75b4 62.5%,#2167ac 63.3%,#1c5b9d 65.1%,#1b5b9d 79.8%,#1f62a6 81.5%,#2971b1 82.4%,#3f8dc0 83.4%,#4997c5 83.6%,#9dcbe1 84.8%,#cbe2ee 85.5%,#eff3f6 86.4%,#f6f7f7 86.7%,#fddac5 88.6%,#f3a280 90.5%,#dc6f58 92.4%,#d05447 93.8%,#ba2933 97.1%,#ae172a 99.2%,#a81529 99.9%,#a81529 100.1%)"></div>
<div style="top:652px;height:5px;background:linear-gradient(90deg,#6d0220 0.1%,#800823 2.9%,#ac162a 6.4%,#b61f2f 7.2%,#c7423f 8.3%,#d86551 9.3%,#f4a683 10.9%,#fdddca 12.6%,#f5f6f7 14.3%,#d5e7f1 15.2%,#a9d1e4 15.9%,#86beda 16.4%,#4e9ac7 17.1%,#4190c2 17.3%,#2c74b3 18.3%,#2064aa 19.5%,#1c5c9f 22.3%,#1b5b9c 34.9%,#1f62a7 36.5%,#2970b1 37.5%,#3b89be 38.2%,#4493c3 38.4%,#9ccae1 39.3%,#c8e0ed 39.8%,#d9e9f1 40.1%,#f1f4f6 40.5%,#f8f5f3 40.8%,#fce1d0 41.7%,#facab2 42.7%,#f2a17f 44.3%,#d45d4b 46.7%,#b6212f 49.1%,#af172b 49.8%,#af172a 50.5%,#b6202f 51.2%,#da6954 54.0%,#f5ab8a 56.4%,#fcdfcd 58.8%,#f8f1ed 59.7%,#f5f6f7 59.9%,#dbeaf2 60.4%,#c9e1ee 60.7%,#7cb7d7 61.4%,#4c98c6 61.8%,#4292c2 62.0%,#2c75b4 62.7%,#2167ac 63.4%,#1c5c9e 65.3%,#1c5c9e 79.7%,#1f62a6 81.4%,#2971b2 82.3%,#408fc1 83.3%,#4b98c6 83.5%,#92c5de 84.4%,#d0e4f0 85.4%,#f1f4f6 86.3%,#f7f6f6 86.6%,#fcd7c2 88.5%,#f4a683 90.1%,#de715a 92.0%,#d15648 93.4%,#ba2933 96.7%,#b0172b 98.6%,#a41329 100.1%)"></div>
<div style="top:657px;height:5px;background:linear-gradient(90deg,#6a011f 0.1%,#7b0722 2.9%,#a41429 6.2%,#b31a2c 7.2%,#c33a3b 8.3%,#d86551 9.5%,#f4a785 11.2%,#fdd8c3 12.6%,#f7f5f4 14.3%,#f3f5f6 14.5%,#d2e5f0 15.4%,#92c5de 16.4%,#4695c4 17.3%,#2e77b5 18.3%,#2267ad 19.2%,#1d5ea0 21.6%,#1b5b9c 29.6%,#1c5c9f 35.3%,#2369ad 37.0%,#307ab6 37.7%,#3f8dc0 38.2%,#4393c3 38.3%,#9dcbe1 39.2%,#cae2ee 39.7%,#e7eff4 40.2%,#f2f5f6 40.4%,#f7f7f7 40.5%,#fce1d2 41.5%,#fbd1ba 42.2%,#f09d7c 44.1%,#d35a4a 46.2%,#b72330 48.3%,#ae172a 49.1%,#a21328 50.0%,#a61429 50.7%,#b3192c 51.4%,#d3594a 54.0%,#ef9a7a 56.2%,#f7b99c 57.3%,#fcdfce 59.0%,#f9ede5 59.7%,#f8f3f0 59.9%,#f7f6f6 60.1%,#dfecf3 60.5%,#cfe4ef 60.8%,#81bad8 61.5%,#4e9ac7 62.0%,#4393c3 62.1%,#2d75b4 62.8%,#2267ac 63.5%,#1c5c9e 65.4%,#1c5c9f 79.8%,#1f62a7 81.2%,#2971b2 82.2%,#4090c1 83.1%,#4d9ac7 83.4%,#95c7df 84.3%,#d3e6f0 85.3%,#f3f5f6 86.2%,#f7f5f3 86.4%,#fddbc8 88.1%,#f3a381 90.0%,#dc6f58 91.9%,#d25749 93.1%,#bb2b34 96.2%,#af172a 98.3%,#9f1228 99.9%,#9f1228 100.1%)"></div>
<div style="top:662px;height:5px;background:linear-gradient(90deg,#68001f 0.1%,#750421 2.7%,#991027 5.7%,#b31a2c 7.4%,#c33b3b 8.6%,#d86651 9.8%,#f5a886 11.4%,#fddac6 12.8%,#f7f7f6 14.5%,#d8e8f1 15.4%,#bcdbea 15.9%,#89bfdb 16.6%,#4f9bc7 17.3%,#4191c2 17.6%,#2b74b3 18.5%,#2166ac 19.5%,#1d5ea1 21.6%,#1b5b9d 29.6%,#1c5d9f 35.3%,#2166ac 36.7%,#2c75b4 37.5%,#4292c3 38.2%,#9fcce2 39.1%,#cce3ef 39.6%,#f4f5f6 40.3%,#f8f2ef 40.5%,#fbd2bb 42.0%,#f2a17f 43.6%,#d55e4c 45.5%,#ba2933 47.4%,#ae172a 48.3%,#981027 49.8%,#9a1027 50.7%,#b41b2d 52.1%,#d15648 54.5%,#e27b62 55.7%,#f5ab8a 57.1%,#fcdfce 59.2%,#f9eee7 59.9%,#f8f4f3 60.2%,#f5f6f7 60.3%,#dbeaf2 60.8%,#c8e0ed 61.0%,#94c6df 61.5%,#5ea4cc 62.0%,#4695c4 62.2%,#2d76b4 62.9%,#2267ac 63.6%,#1c5c9f 65.5%,#1c5d9f 79.7%,#1f62a7 81.1%,#2971b2 82.1%,#4190c2 83.0%,#61a6cd 83.5%,#98c8e0 84.2%,#d5e7f1 85.1%,#f5f6f7 86.1%,#fdd9c5 88.0%,#f4a785 89.6%,#de725a 91.5%,#d2594a 92.7%,#bb2a34 95.8%,#b0172b 97.7%,#9a1027 100.1%)"></div>
<div style="top:667px;height:5px;background:linear-gradient(90deg,#67001f 0.1%,#700320 2.7%,#8d0c25 5.3%,#b31b2c 7.6%,#c43c3c 8.8%,#d96652 10.0%,#f5aa88 11.7%,#fddbc8 13.1%,#f6f6f7 14.7%,#d4e7f1 15.7%,#95c6df 16.6%,#4796c4 17.6%,#327db8 18.3%,#2369ae 19.2%,#1d5fa2 21.4%,#1b5b9d 28.7%,#1c5da0 35.3%,#2267ad 36.7%,#2f78b5 37.5%,#3e8cbf 37.9%,#4292c2 38.0%,#6fafd2 38.5%,#a0cce2 39.0%,#cee4ef 39.5%,#f5f6f7 40.2%,#fcd6c1 41.6%,#f3a280 43.3%,#d6614e 44.9%,#bd2e35 46.6%,#b2182b 47.5%,#900d26 49.4%,#8c0c25 50.4%,#9c1127 51.5%,#b41b2d 52.7%,#ce5045 54.9%,#dc6e58 55.8%,#f5ab8a 57.5%,#fcddcb 59.3%,#f9ece4 60.1%,#f8f2ef 60.3%,#f7f6f6 60.4%,#deebf2 60.9%,#cde3ef 61.1%,#7db8d7 61.8%,#4997c5 62.3%,#3c8abe 62.5%,#286fb1 63.3%,#1f62a7 64.2%,#1b5b9d 66.6%,#1c5da0 79.8%,#1f62a7 81.0%,#2a71b2 82.0%,#4291c2 82.9%,#76b3d4 83.6%,#9bcae1 84.1%,#cbe2ee 84.8%,#f0f4f6 85.7%,#f7f7f7 86.0%,#fcd7c2 87.9%,#f4a582 89.5%,#dc6f58 91.4%,#d15648 92.6%,#bb2a33 95.4%,#ae172a 97.3%,#950f26 99.9%,#950f26 100.1%)"></div>
<div style="top:672px;height:5px;background:linear-gradient(90deg,#67001f 0.1%,#6d0220 2.9%,#830924 5.0%,#b41b2d 7.9%,#c84540 9.3%,#d96753 10.2%,#f5ac8a 11.9%,#fddcca 13.3%,#f8f5f3 14.7%,#f3f5f6 15.0%,#d1e5f0 15.9%,#8cc1dc 16.9%,#509cc8 17.6%,#4191c2 17.8%,#2b73b3 18.8%,#2165ab 19.7%,#1d5ea1 22.1%,#1c5b9d 33.7%,#1e60a3 35.8%,#266daf 37.0%,#3985bc 37.7%,#4291c2 37.9%,#6fafd2 38.4%,#a2cde2 38.9%,#d1e5f0 39.3%,#f7f7f7 40.1%,#fcdfce 41.0%,#f8bb9e 42.2%,#ef9979 43.1%,#d55e4c 44.6%,#bb2a33 46.2%,#b2182b 46.9%,#890b24 49.1%,#810823 50.2%,#8d0c25 51.4%,#b1182b 53.1%,#cc4c44 55.2%,#db6b56 56.2%,#f5ab8a 57.8%,#fce0cf 59.7%,#f6f6f7 60.7%,#dae9f2 61.1%,#c6dfed 61.4%,#91c5de 61.8%,#59a1ca 62.3%,#4292c2 62.5%,#2b73b3 63.3%,#2166ac 64.0%,#1c5d9f 65.9%,#1c5da0 79.6%,#2063a8 81.0%,#2c74b3 82.0%,#3f8dc0 82.7%,#4a97c5 82.9%,#96c7df 83.8%,#d4e7f1 84.8%,#f5f6f7 85.7%,#fdd8c4 87.6%,#f4a683 89.3%,#dd6f59 91.2%,#d15648 92.4%,#ba2732 95.2%,#ae172a 96.9%,#900d26 99.9%,#8f0d25 100.1%)"></div>
<div style="top:677px;height:5px;background:linear-gradient(90deg,#67001f 0.1%,#6c0120 3.4%,#800823 5.3%,#b1182b 7.9%,#c13639 9.1%,#da6853 10.5%,#f4a582 11.9%,#fcd8c3 13.3%,#f7f6f5 15.0%,#d7e8f1 15.9%,#bad9e9 16.4%,#83bcd9 17.1%,#4896c5 17.8%,#3784bb 18.3%,#256caf 19.2%,#1e61a5 20.7%,#1c5c9e 26.6%,#1c5da0 35.1%,#2166ac 36.5%,#2d76b4 37.2%,#3c8abe 37.7%,#4a97c5 37.9%,#98c8e0 38.6%,#c7e0ed 39.1%,#d9e9f2 39.3%,#f3f5f6 39.8%,#f7f6f5 39.9%,#fcddcb 40.9%,#f4a482 42.5%,#d55e4c 44.2%,#ba2732 45.9%,#af172b 46.6%,#830923 48.7%,#770522 49.9%,#7c0722 51.1%,#9d1128 52.7%,#b3192c 53.7%,#cb4a43 55.6%,#da6a55 56.5%,#f5ab8a 58.2%,#fcddcb 59.8%,#f9eee8 60.5%,#f7f6f5 60.8%,#deebf2 61.2%,#cce2ef 61.5%,#96c7df 62.0%,#5da3cc 62.4%,#4493c3 62.7%,#2b74b3 63.4%,#2166ac 64.1%,#1c5d9f 66.0%,#1d5ea1 79.7%,#2063a8 80.9%,#2c75b3 81.8%,#3f8ec0 82.5%,#4393c3 82.7%,#91c4de 83.6%,#d2e5f0 84.6%,#f3f5f6 85.5%,#f7f5f3 85.7%,#fddac5 87.4%,#f4a784 89.1%,#dd6f59 90.9%,#d05548 92.1%,#ba2833 94.7%,#ae172a 96.4%,#8b0c25 99.9%,#8a0b25 100.1%)"></div>
<div style="top:682px;height:5px;background:linear-gradient(90deg,#67001f 0.1%,#6a0120 3.8%,#7c0722 5.5%,#b1182b 8.1%,#c53e3d 9.5%,#da6954 10.7%,#f4a684 12.1%,#fddac5 13.6%,#f6f7f7 15.2%,#d4e6f0 16.2%,#90c4dd 17.1%,#529cc8 17.8%,#4291c2 18.0%,#2a72b2 19.0%,#2065ab 19.9%,#1d5ea1 22.8%,#1d5ea0 35.1%,#2267ad 36.5%,#2f79b6 37.2%,#4190c1 37.7%,#569fc9 37.9%,#8cc1dc 38.4%,#d4e6f0 39.1%,#eff3f5 39.6%,#f8f5f3 39.8%,#fbd2bb 41.0%,#f4a683 42.2%,#d55e4c 43.8%,#b92531 45.5%,#b2192b 46.0%,#7e0723 48.3%,#6e0220 49.8%,#710321 50.9%,#890b24 52.4%,#b41c2d 54.3%,#ce5146 56.2%,#da6954 56.9%,#f5ab8a 58.5%,#fce0cf 60.2%,#f8f3f1 60.9%,#f6f7f7 61.0%,#dae9f2 61.5%,#d1e5f0 61.6%,#7eb8d7 62.3%,#4795c4 62.8%,#327db8 63.3%,#2369ad 64.0%,#1d5ea1 65.6%,#1c5c9e 77.2%,#1e60a4 80.3%,#246aae 81.2%,#327cb7 82.0%,#408fc1 82.4%,#4e9ac7 82.7%,#9dcae1 83.6%,#cee4ef 84.3%,#f2f5f6 85.3%,#f7f6f5 85.5%,#fddbc7 87.2%,#f2a07e 89.1%,#da6954 90.9%,#c7413e 92.8%,#b41c2d 95.2%,#9a1027 97.8%,#860a24 99.9%,#850a24 100.1%)"></div>
<div style="top:687px;height:5px;background:linear-gradient(90deg,#67001f 0.1%,#6a0120 4.6%,#7b0622 6.0%,#b1182b 8.3%,#ca4741 10.0%,#da6a55 10.9%,#f4a886 12.4%,#fddbc8 13.8%,#f8f4f2 15.2%,#f4f6f6 15.4%,#cfe4f0 16.4%,#87beda 17.3%,#4997c5 18.0%,#3e8cc0 18.3%,#286fb1 19.2%,#1f63a8 20.4%,#1c5c9f 25.6%,#1d5ea1 35.1%,#2368ad 36.5%,#2b73b3 37.0%,#3b88be 37.5%,#4896c5 37.7%,#9ac9e0 38.4%,#cbe2ee 38.9%,#eaf1f5 39.3%,#f6f7f7 39.6%,#fcd2bc 40.8%,#f3a380 42.0%,#d7634f 43.4%,#ba2732 45.0%,#ad172a 45.7%,#7d0722 47.9%,#6b0120 49.3%,#6b0120 50.9%,#7e0723 52.4%,#b0172b 54.5%,#c84440 56.2%,#d86450 57.1%,#f4a886 58.8%,#fce0d0 60.4%,#f7f5f4 61.1%,#ecf2f5 61.4%,#ddebf2 61.6%,#cae1ee 61.8%,#93c6de 62.3%,#57a0ca 62.8%,#4190c1 63.0%,#2f79b6 63.5%,#2267ad 64.2%,#1d5ea0 66.1%,#1d5ea1 79.3%,#2065aa 80.8%,#2a72b2 81.5%,#3d8abf 82.2%,#4695c4 82.4%,#98c8e0 83.4%,#cae1ee 84.1%,#e0ecf3 84.6%,#f7f7f7 85.3%,#fcd5bf 87.2%,#f2a17f 88.8%,#da6954 90.7%,#c63f3e 92.6%,#b3192c 95.0%,#810823 99.9%,#810823 100.1%)"></div>
<div style="top:692px;height:5px;background:linear-gradient(90deg,#67001f 0.1%,#69011f 5.0%,#760521 6.2%,#a51429 8.1%,#b2182b 8.6%,#ce5046 10.5%,#db6b55 11.2%,#f5aa88 12.6%,#fddcc9 14.0%,#f7f6f5 15.4%,#d6e8f1 16.4%,#c9e1ee 16.6%,#93c6de 17.3%,#539dc8 18.0%,#4291c2 18.3%,#2a71b2 19.2%,#2065aa 20.2%,#1d5ea1 23.5%,#1d5fa2 35.1%,#2369ae 36.5%,#2d76b4 37.0%,#3f8dc0 37.5%,#4594c4 37.6%,#99c9e0 38.3%,#cce2ef 38.8%,#ebf1f5 39.2%,#f7f7f6 39.5%,#fdd9c5 40.4%,#f4a784 41.6%,#d86551 43.0%,#b92732 44.7%,#b2192b 45.1%,#7e0723 47.3%,#6b0120 48.7%,#68001f 50.8%,#740421 52.2%,#9c1128 54.1%,#b31a2c 55.1%,#cc4c43 56.7%,#d86551 57.5%,#f5aa88 59.1%,#fcdecc 60.5%,#f8f3f0 61.2%,#f6f7f7 61.4%,#d8e8f1 61.8%,#c1ddeb 62.1%,#88bfdb 62.5%,#4d99c6 63.0%,#4291c2 63.1%,#307ab6 63.6%,#2267ad 64.3%,#1d5ea1 66.2%,#1d5fa2 79.5%,#2065aa 80.7%,#2a72b2 81.4%,#3d8bbf 82.1%,#4896c5 82.3%,#9ac9e0 83.3%,#cde3ef 84.0%,#f2f4f6 84.9%,#f7f6f5 85.1%,#fddac6 86.8%,#f4a683 88.5%,#db6c56 90.4%,#cb4a43 91.8%,#b72230 93.9%,#af172b 94.9%,#7f0823 99.6%,#7c0722 100.1%)"></div>
<div style="top:697px;height:5px;background:linear-gradient(90deg,#67001f 0.1%,#6a0120 5.7%,#780522 6.7%,#b2192b 8.8%,#cf5246 10.7%,#db6c57 11.4%,#f5ac8a 12.8%,#fcddcb 14.3%,#f7f7f7 15.7%,#d3e6f0 16.6%,#89bfdb 17.6%,#4a97c5 18.3%,#3e8dc0 18.5%,#276fb0 19.5%,#1f63a7 20.7%,#1c5da0 26.3%,#1d5fa2 35.1%,#2167ac 36.3%,#2970b1 36.7%,#3884bb 37.2%,#4292c2 37.5%,#97c8e0 38.2%,#cbe2ee 38.6%,#ebf1f5 39.1%,#f7f6f6 39.3%,#fcd7c2 40.3%,#f3a380 41.5%,#d65f4d 42.9%,#ba2833 44.3%,#b3192c 44.8%,#7c0722 46.9%,#6b0120 48.1%,#67001f 50.7%,#6f0320 52.4%,#890b24 53.8%,#b31a2c 55.4%,#cd4e44 57.1%,#da6853 57.8%,#f4a683 59.2%,#fddcc9 60.7%,#f8f1ed 61.4%,#f7f6f5 61.5%,#dbeaf2 62.0%,#c5dfed 62.2%,#8cc1dc 62.7%,#4f9bc7 63.1%,#4392c3 63.3%,#307ab6 63.7%,#256baf 64.2%,#1e61a5 65.4%,#1c5da0 68.7%,#1d5fa3 79.6%,#2268ad 80.8%,#2f79b6 81.5%,#3d8bbf 82.0%,#4997c5 82.2%,#9dcae1 83.1%,#d0e5f0 83.8%,#f3f5f6 84.8%,#f7f5f3 85.0%,#fcd8c3 86.7%,#f3a380 88.3%,#da6954 90.2%,#c2373a 92.4%,#b2182b 94.3%,#7e0723 99.2%,#790622 99.9%,#790622 100.1%)"></div>
<div style="top:702px;height:5px;background:linear-gradient(90deg,#67001f 0.1%,#69011f 6.0%,#770522 6.9%,#b3192c 9.1%,#cf5347 10.9%,#dc6e58 11.7%,#f4a582 12.8%,#fddac5 14.3%,#f8f4f1 15.7%,#f4f6f6 15.9%,#d9e9f1 16.6%,#cce3ef 16.9%,#95c6df 17.6%,#549ec9 18.3%,#4292c2 18.5%,#2971b2 19.5%,#2064aa 20.4%,#1d5ea1 24.2%,#1e5fa3 35.1%,#2267ad 36.3%,#2a72b2 36.7%,#3b88bd 37.2%,#4997c5 37.5%,#a1cde2 38.2%,#d4e7f1 38.6%,#f2f4f6 39.1%,#f7f6f6 39.2%,#fcd6c1 40.2%,#f19f7d 41.4%,#d86450 42.5%,#bb2b34 44.0%,#ae172a 44.7%,#7b0622 46.6%,#6a0120 47.8%,#67001f 51.5%,#710321 53.0%,#8d0c25 54.4%,#b31a2c 55.8%,#ce5046 57.5%,#db6d57 58.2%,#f5ab8a 59.6%,#fddbc7 60.8%,#f4f6f6 61.7%,#d5e7f1 62.2%,#9ecbe1 62.7%,#4493c3 63.4%,#307ab6 63.8%,#256baf 64.3%,#1e61a5 65.5%,#1d5da0 69.1%,#1e5fa3 79.5%,#2267ad 80.7%,#2f79b5 81.4%,#3d8cbf 81.8%,#4997c5 82.1%,#9fcbe2 83.0%,#d2e5f0 83.7%,#f5f6f7 84.7%,#fddcc9 86.3%,#f2a07e 88.2%,#d86651 90.1%,#bb2a34 92.7%,#af172b 94.1%,#7d0722 98.9%,#750521 100.1%)"></div>
<div style="top:707px;height:5px;background:linear-gradient(90deg,#67001f 0.1%,#69011f 6.2%,#760521 7.2%,#b31a2c 9.3%,#d05548 11.2%,#dd705a 11.9%,#f4a784 13.1%,#fddbc8 14.5%,#f7f5f4 15.9%,#f2f4f6 16.2%,#d5e7f1 16.9%,#9fcce2 17.6%,#4a98c6 18.5%,#3e8dc0 18.8%,#2b74b3 19.5%,#2165ab 20.4%,#1d5fa2 23.5%,#1d5fa2 34.9%,#2368ad 36.3%,#2c75b3 36.7%,#3e8cc0 37.2%,#4494c3 37.3%,#9fcbe2 38.0%,#d3e6f0 38.5%,#f1f4f6 39.0%,#f7f6f6 39.1%,#fcd5bf 40.1%,#f4a886 41.0%,#d65f4d 42.4%,#b82531 43.8%,#af172b 44.3%,#7e0723 46.0%,#6b0120 47.2%,#67001f 50.2%,#6b0120 52.8%,#7b0722 54.0%,#b31a2c 56.2%,#cb4a43 57.6%,#d96753 58.3%,#f4a885 59.7%,#fce0cf 61.1%,#f6f7f7 61.8%,#d7e8f1 62.3%,#bedceb 62.5%,#83bbd9 63.0%,#4695c4 63.5%,#307ab6 64.0%,#256baf 64.4%,#1e61a5 65.6%,#1d5ea0 69.4%,#1e60a3 79.3%,#2267ad 80.5%,#2f78b5 81.2%,#3d8cbf 81.7%,#4a97c5 82.0%,#8dc2dc 82.7%,#d3e6f0 83.6%,#f6f7f7 84.6%,#fddbc7 86.2%,#f4a582 87.9%,#da6853 89.8%,#c03539 91.9%,#b2182b 93.6%,#7e0723 98.3%,#720421 99.9%,#720321 100.1%)"></div>
<div style="top:712px;height:5px;background:linear-gradient(90deg,#67001f 0.1%,#69011f 6.4%,#760521 7.4%,#b41b2c 9.5%,#d15648 11.4%,#de725b 12.1%,#f5a987 13.3%,#fddcc9 14.7%,#f7f7f7 16.2%,#d0e4f0 17.1%,#96c7df 17.8%,#559ec9 18.5%,#4292c2 18.8%,#2971b1 19.7%,#2064aa 20.7%,#1d5ea1 25.1%,#1e60a4 35.1%,#2369ae 36.3%,#2e77b5 36.7%,#4191c2 37.2%,#5ca3cc 37.5%,#9ccae1 37.9%,#d2e6f0 38.4%,#f1f4f6 38.9%,#f7f6f6 39.0%,#fcd3bd 39.9%,#f4a582 40.9%,#d86651 42.1%,#ba2833 43.5%,#b1182b 44.0%,#7d0723 45.6%,#6c0220 46.6%,#67001f 48.5%,#6a011f 53.2%,#7a0622 54.4%,#b31a2c 56.5%,#cd4e44 57.9%,#db6c56 58.6%,#f4a481 59.8%,#fcdecd 61.2%,#f7f6f5 62.0%,#dae9f2 62.4%,#d1e5f0 62.5%,#97c7df 63.0%,#569fc9 63.5%,#4896c5 63.6%,#3a87bd 63.8%,#2a72b2 64.3%,#2065aa 65.0%,#1d5ea1 67.4%,#1e60a3 79.2%,#2267ad 80.4%,#2f78b5 81.1%,#3e8cbf 81.6%,#4b98c6 81.8%,#8fc3dd 82.5%,#c6dfed 83.3%,#d5e7f1 83.5%,#f7f7f6 84.4%,#fdd8c3 86.1%,#f3a27f 87.8%,#db6b56 89.4%,#c94641 90.8%,#b6202f 92.7%,#ac162a 93.7%,#7b0622 98.2%,#6f0320 100.1%)"></div>
<div style="top:717px;height:5px;background:linear-gradient(90deg,#67001f 0.1%,#69011f 6.7%,#750421 7.6%,#b41c2d 9.8%,#d25849 11.7%,#e47f65 12.6%,#f5ab8a 13.6%,#fcddcb 15.0%,#f4f6f7 16.4%,#d7e8f1 17.1%,#c8e1ed 17.3%,#8dc2dc 18.0%,#4b98c6 18.8%,#3e8dc0 19.0%,#2b73b3 19.7%,#2267ac 20.4%,#1e60a4 23.0%,#1e60a3 34.9%,#2167ac 36.0%,#2971b1 36.5%,#3a86bd 37.0%,#4896c5 37.2%,#89bfdb 37.7%,#c4deec 38.2%,#d1e5f0 38.3%,#f1f4f6 38.8%,#f7f6f5 38.9%,#fbd1bb 39.8%,#f3a280 40.8%,#d7624f 42.0%,#b82330 43.4%,#ac162a 43.8%,#7d0723 45.3%,#6c0120 46.2%,#67001f 48.3%,#6a011f 53.6%,#7a0622 54.7%,#b41c2d 56.9%,#cf5146 58.3%,#dd715a 59.0%,#f5aa88 60.2%,#fdddca 61.4%,#f8f4f3 62.1%,#f4f5f6 62.2%,#d3e6f0 62.7%,#9ac9e0 63.1%,#58a1ca 63.6%,#4a97c5 63.7%,#3a88bd 64.0%,#2a72b2 64.4%,#2065ab 65.1%,#1d5ea2 67.5%,#1d5ea1 72.5%,#1e61a5 79.6%,#256bae 80.5%,#3681ba 81.2%,#3e8cbf 81.5%,#4b98c6 81.7%,#91c4de 82.4%,#c8e1ee 83.1%,#d6e7f1 83.4%,#f7f6f5 84.3%,#fcd6c0 86.0%,#f19e7d 87.6%,#d96753 89.3%,#bd2d35 91.7%,#b0172b 93.1%,#7c0722 97.6%,#6d0220 99.9%,#6c0220 100.1%)"></div>
<div style="top:722px;height:5px;background:linear-gradient(90deg,#67001f 0.1%,#6a011f 7.2%,#7a0622 8.1%,#b0172b 9.8%,#ce5146 11.7%,#db6c57 12.4%,#f4a481 13.6%,#fddac5 15.0%,#f7f5f3 16.4%,#f2f4f6 16.6%,#d3e6f0 17.3%,#98c8e0 18.0%,#559fc9 18.8%,#4292c3 19.0%,#2e77b4 19.7%,#2368ad 20.4%,#1e60a4 22.8%,#1e60a4 34.9%,#2267ad 36.0%,#2b73b3 36.5%,#3d8bbf 37.0%,#4393c3 37.1%,#a4cee3 37.8%,#c1ddec 38.0%,#d0e4f0 38.2%,#f1f4f6 38.6%,#f7f6f5 38.8%,#fddcc9 39.5%,#f5ab8a 40.4%,#db6b55 41.6%,#ca4842 42.3%,#b0172b 43.5%,#7e0723 44.9%,#6b0120 45.9%,#67001f 48.0%,#69011f 53.9%,#7a0622 55.1%,#b0172b 57.0%,#c7413e 58.2%,#db6b56 59.1%,#f4a684 60.3%,#fddbc8 61.5%,#f8f3f0 62.2%,#f6f7f7 62.3%,#d6e7f1 62.8%,#bbdaea 63.0%,#9dcbe1 63.3%,#5ba2cb 63.7%,#4190c1 64.0%,#2d76b4 64.4%,#2369ae 64.9%,#1e61a4 66.3%,#1b5b9d 70.6%,#1d5fa2 75.6%,#1f62a6 79.6%,#266db0 80.5%,#3986bd 81.2%,#4292c2 81.5%,#9ccae1 82.4%,#d2e6f0 83.1%,#f7f7f7 84.1%,#fcd7c2 85.7%,#f19f7d 87.4%,#d96752 89.1%,#be3137 91.2%,#b2182b 92.6%,#7f0823 96.9%,#6b0120 99.7%,#6a0120 99.9%,#6a011f 100.1%)"></div>
<div style="top:727px;height:5px;background:linear-gradient(90deg,#67001f 0.1%,#6a011f 7.4%,#7a0622 8.3%,#b0172b 10.0%,#cf5246 11.9%,#dc6e58 12.6%,#f4a784 13.8%,#fddbc8 15.2%,#f7f7f7 16.6%,#dae9f2 17.3%,#cce2ee 17.6%,#8fc3dd 18.3%,#4c98c6 19.0%,#4292c3 19.1%,#2d76b4 19.8%,#2268ad 20.5%,#1e61a5 22.9%,#1e60a4 34.7%,#2167ac 35.9%,#2971b2 36.4%,#3b88bd 36.9%,#4190c1 37.0%,#5da3cc 37.2%,#7fb9d8 37.5%,#a1cce2 37.7%,#bfdceb 37.9%,#d8e8f1 38.2%,#f7f6f5 38.6%,#fddbc7 39.3%,#f5a987 40.3%,#d96853 41.5%,#b82431 42.9%,#ab162a 43.4%,#7f0823 44.6%,#6b0120 45.5%,#67001f 47.6%,#69011f 54.3%,#750521 55.2%,#9b1127 56.6%,#b2182b 57.3%,#ce4f45 58.8%,#dd715a 59.5%,#f5ad8c 60.7%,#fdd9c4 61.6%,#f8f1ed 62.3%,#f7f6f5 62.4%,#d8e8f1 62.9%,#cee4ef 63.0%,#92c5de 63.5%,#4e9ac7 64.0%,#4191c2 64.1%,#2e77b5 64.6%,#2369ae 65.0%,#1e61a5 66.4%,#1c5c9e 70.0%,#1a5899 71.2%,#1d5fa2 73.3%,#1f62a6 79.5%,#266db0 80.4%,#3986bd 81.1%,#4292c3 81.4%,#9ecbe1 82.3%,#d4e6f1 83.0%,#f7f6f6 84.0%,#fcd5bf 85.6%,#f4a582 87.0%,#da6a55 88.7%,#c7433f 90.1%,#b41c2d 92.0%,#8a0b25 95.3%,#6e0220 98.6%,#68001f 100.1%)"></div>
<div style="top:732px;height:5px;background:linear-gradient(90deg,#67001f 0.1%,#69011f 7.6%,#790622 8.6%,#b1182b 10.2%,#d05447 12.1%,#dd715a 12.8%,#f5a987 14.0%,#fddcc9 15.4%,#f5f6f7 16.9%,#d5e7f1 17.6%,#9ac9e0 18.3%,#4392c3 19.2%,#2d76b4 19.9%,#2268ad 20.7%,#1e61a5 23.3%,#1e61a5 34.9%,#2369ae 36.0%,#2e78b5 36.5%,#4695c4 37.0%,#8cc1dc 37.5%,#cbe2ee 37.9%,#f0f4f6 38.4%,#f7f6f6 38.5%,#fddac6 39.2%,#f4a784 40.2%,#d86551 41.4%,#b6202f 42.8%,#b0172b 43.0%,#810823 44.2%,#6f0220 44.9%,#67001f 46.1%,#69011f 54.6%,#750521 55.6%,#9c1128 57.0%,#b31a2c 57.7%,#d05448 59.1%,#e0775f 59.8%,#f5a987 60.8%,#fcdfce 62.0%,#f9f0eb 62.4%,#f7f5f3 62.5%,#ebf1f5 62.8%,#dae9f2 63.0%,#d1e5f0 63.1%,#94c6de 63.6%,#4f9ac7 64.1%,#4191c2 64.2%,#2d76b4 64.7%,#2369ae 65.1%,#1e61a5 66.6%,#1c5d9f 69.6%,#185595 71.1%,#1d5fa2 73.2%,#1f62a6 79.3%,#266daf 80.3%,#3986bd 81.0%,#4392c3 81.2%,#9fcce2 82.2%,#c6dfed 82.7%,#d5e7f1 82.9%,#f2f5f6 83.6%,#f7f5f4 83.8%,#fddac6 85.3%,#f2a17f 86.9%,#d96652 88.6%,#bd2e35 90.7%,#af172b 92.1%,#7d0723 96.2%,#6a011f 99.0%,#68001f 99.9%,#67001f 100.1%)"></div>
<div style="top:737px;height:5px;background:linear-gradient(90deg,#67001f 0.1%,#69011f 7.9%,#730421 8.6%,#991027 9.8%,#b2182b 10.5%,#d15548 12.4%,#de735b 13.1%,#f5ab89 14.3%,#fcddcb 15.7%,#f8f5f3 16.9%,#f2f5f6 17.1%,#d0e5f0 17.8%,#91c5de 18.5%,#4d99c6 19.2%,#4393c3 19.3%,#2d76b4 20.1%,#2268ad 20.8%,#1e61a5 23.4%,#1e60a4 34.5%,#2368ad 35.9%,#2c75b4 36.4%,#4190c2 36.9%,#5fa5cd 37.1%,#84bcd9 37.3%,#c6dfed 37.8%,#ddebf2 38.0%,#eef3f5 38.3%,#f6f7f7 38.4%,#fddbc7 39.1%,#f4a683 40.1%,#d7634f 41.2%,#b51d2d 42.7%,#ac162a 42.9%,#7d0722 44.1%,#6c0220 44.8%,#67001f 46.2%,#6a011f 55.0%,#770521 55.9%,#9f1228 57.3%,#af172b 57.8%,#c33a3b 58.8%,#d96752 59.7%,#f4a784 60.9%,#fcdfcd 62.1%,#f9efea 62.5%,#f8f5f3 62.7%,#ebf1f5 62.9%,#dae9f2 63.1%,#d0e5f0 63.3%,#92c5de 63.7%,#4c99c6 64.2%,#4090c1 64.3%,#2d75b4 64.8%,#2369ad 65.3%,#1e61a5 66.9%,#1d5ea0 69.3%,#175392 70.7%,#195797 71.9%,#1d5fa2 73.1%,#1f62a6 79.2%,#266caf 80.2%,#3986bc 80.9%,#4292c3 81.1%,#8bc0dc 81.8%,#c8e0ed 82.5%,#d6e8f1 82.8%,#f3f5f6 83.5%,#f7f7f7 83.6%,#fddcc8 85.0%,#f3a380 86.7%,#d96652 88.3%,#bc2d35 90.5%,#b1182b 91.7%,#7e0723 95.7%,#6a011f 98.5%,#67001f 99.9%,#67001f 100.1%)"></div>
<div style="top:742px;height:5px;background:linear-gradient(90deg,#67001f 0.1%,#69011f 8.1%,#730421 8.8%,#991027 10.0%,#b2182b 10.7%,#d15749 12.6%,#df755d 13.3%,#f5ad8c 14.5%,#fddac5 15.7%,#f7f6f6 17.1%,#d8e9f1 17.8%,#c8e1ee 18.0%,#87beda 18.8%,#4494c3 19.5%,#2e77b4 20.2%,#2268ad 20.9%,#1e61a5 23.5%,#1d5ea1 31.8%,#1f63a8 35.3%,#256baf 36.0%,#337db8 36.5%,#3e8cbf 36.7%,#4695c4 36.9%,#8ec3dd 37.3%,#cfe4ef 37.8%,#f4f5f6 38.3%,#f9eee8 38.5%,#fddcc8 39.0%,#f4a683 39.9%,#d7614e 41.1%,#b31a2c 42.5%,#7a0622 44.0%,#6b0120 44.7%,#67001f 47.0%,#69001f 55.1%,#730421 56.0%,#930e26 57.2%,#b31a2c 58.2%,#cc4b43 59.3%,#dd6f59 60.1%,#f4a481 61.0%,#fcdecd 62.2%,#f9f0ea 62.7%,#f7f5f3 62.8%,#eaf1f5 63.0%,#d9e9f1 63.3%,#cee4ef 63.4%,#8ec3dd 63.8%,#4896c5 64.3%,#3986bc 64.6%,#2870b1 65.0%,#2065aa 65.7%,#1c5c9e 69.3%,#16508e 70.7%,#185493 71.9%,#1d5fa2 73.1%,#1f62a7 79.2%,#276fb0 80.2%,#3d8bbf 80.9%,#4291c2 81.0%,#8ac0db 81.7%,#c8e0ed 82.4%,#d7e8f1 82.7%,#f4f6f6 83.4%,#f8f4f1 83.6%,#fcd6c1 85.0%,#f4a582 86.4%,#d96652 88.1%,#bf3237 90.0%,#b1182b 91.4%,#7c0722 95.4%,#6a011f 98.0%,#67001f 99.9%,#67001f 100.1%)"></div>
<div style="top:747px;height:5px;background:linear-gradient(90deg,#67001f 0.1%,#69011f 8.3%,#730421 9.1%,#991027 10.2%,#b2192b 10.9%,#d25849 12.8%,#e58267 13.8%,#f4a683 14.5%,#fddbc8 15.9%,#f5f6f7 17.3%,#d4e7f1 18.0%,#96c7df 18.8%,#509bc8 19.5%,#408fc1 19.7%,#2b73b3 20.4%,#2267ac 21.1%,#1e61a5 24.0%,#1d5ea1 30.1%,#1b5b9d 31.3%,#1e60a4 33.4%,#2165ab 35.6%,#266caf 36.0%,#3580b9 36.5%,#4190c1 36.7%,#5fa4cc 37.0%,#84bcd9 37.2%,#c9e1ee 37.7%,#dfecf3 37.9%,#f1f4f6 38.2%,#f7f5f4 38.3%,#fcd6c0 39.0%,#f5ac8b 39.7%,#de735c 40.7%,#d3594a 41.1%,#b51d2e 42.3%,#ac162a 42.5%,#7b0622 43.7%,#6b0120 44.4%,#67001f 46.6%,#6a011f 55.6%,#780522 56.5%,#a21328 57.9%,#b3192c 58.4%,#cc4d44 59.6%,#d86551 60.1%,#f4a886 61.2%,#fdd9c5 62.2%,#f7f5f4 62.9%,#e9f1f5 63.1%,#d7e8f1 63.4%,#bbdaea 63.6%,#9bcae1 63.8%,#549dc9 64.3%,#4493c3 64.4%,#2e77b5 64.9%,#2469ae 65.4%,#1f61a6 66.8%,#1d5da0 68.9%,#154f8c 70.4%,#154f8c 71.5%,#1d5fa2 73.2%,#1f62a7 79.1%,#276eb0 80.1%,#3c8abe 80.8%,#4a97c5 81.0%,#95c7df 81.7%,#d1e5f0 82.4%,#f0f4f6 83.1%,#f7f6f5 83.4%,#fdd9c4 84.8%,#f19d7c 86.4%,#d6604d 88.1%,#bc2c34 90.0%,#b0172b 91.2%,#7e0723 95.0%,#6a011f 97.6%,#67001f 99.9%,#67001f 100.1%)"></div>
<div style="top:752px;height:5px;background:linear-gradient(90deg,#67001f 0.1%,#69011f 8.6%,#730421 9.3%,#991027 10.5%,#b2192b 11.2%,#d35a4a 13.1%,#eb9072 14.3%,#f6b191 15.0%,#fdddca 16.2%,#f8f4f2 17.3%,#f7f7f7 17.5%,#d6e7f1 18.2%,#c4deec 18.4%,#81bad8 19.1%,#529dc8 19.6%,#4190c1 19.8%,#2b74b3 20.5%,#2267ac 21.2%,#1e61a5 24.3%,#1d5ea1 29.8%,#1a5898 31.2%,#1e60a4 33.1%,#2064aa 35.4%,#256bae 35.9%,#327cb7 36.4%,#3d8bbf 36.6%,#4494c3 36.7%,#8fc3dd 37.2%,#d2e5f0 37.7%,#f7f7f7 38.2%,#fcd7c2 38.9%,#f5ac8b 39.6%,#de725b 40.5%,#d25849 41.0%,#b31b2c 42.2%,#800823 43.4%,#6d0220 44.1%,#67001f 45.3%,#69011f 55.7%,#740421 56.6%,#960f26 57.8%,#af172b 58.5%,#bf3237 59.2%,#d7624e 60.2%,#f4a683 61.4%,#fdd9c4 62.3%,#f7f5f4 63.0%,#d6e7f1 63.5%,#b8d8e9 63.7%,#98c8e0 64.0%,#4f9bc7 64.4%,#4191c2 64.6%,#2d76b4 65.0%,#2369ad 65.5%,#1e61a5 67.2%,#1c5d9f 68.8%,#144c89 70.2%,#144d89 71.7%,#1d5fa2 73.3%,#2063a8 79.2%,#266db0 79.9%,#327db8 80.4%,#4796c4 80.9%,#94c6df 81.6%,#d1e5f0 82.3%,#f1f4f6 83.0%,#f7f5f4 83.3%,#fcd7c2 84.7%,#f4a481 86.1%,#d86450 87.8%,#bd2e36 89.6%,#b1182b 90.8%,#7e0723 94.6%,#6a011f 97.2%,#67001f 100.1%)"></div>
<div style="top:757px;height:5px;background:linear-gradient(90deg,#67001f 0.1%,#69011f 8.8%,#720421 9.5%,#991027 10.7%,#b3192c 11.4%,#d45c4b 13.3%,#f19f7d 14.7%,#fcd8c3 16.2%,#f7f6f5 17.6%,#d8e8f1 18.3%,#c8e0ed 18.5%,#84bcd9 19.2%,#549ec9 19.7%,#4191c2 19.9%,#2c74b3 20.7%,#2267ac 21.4%,#1e61a5 24.4%,#1d5fa3 29.4%,#185594 31.1%,#1e60a4 33.0%,#2064a9 35.3%,#286fb1 36.0%,#3a87bd 36.5%,#408fc1 36.6%,#4c99c6 36.7%,#98c8e0 37.2%,#bad9e9 37.5%,#d8e8f1 37.7%,#ebf1f5 37.9%,#f4f6f6 38.0%,#fdd8c4 38.8%,#f5ac8b 39.5%,#e47f65 40.2%,#d15648 40.9%,#b2182b 42.1%,#7d0722 43.3%,#6c0120 44.0%,#67001f 45.6%,#69011f 56.0%,#760521 57.0%,#991027 58.2%,#b3192c 58.9%,#ce5146 60.1%,#e0785f 60.8%,#f3a380 61.5%,#fcd8c3 62.4%,#f7f6f5 63.1%,#d4e7f1 63.6%,#94c6df 64.1%,#4b98c6 64.6%,#3a86bd 64.8%,#2970b1 65.3%,#2065aa 66.0%,#1d5da0 68.6%,#134b86 70.0%,#124984 71.4%,#175290 72.4%,#1d5ea1 73.3%,#2064a9 79.2%,#286fb1 79.9%,#3f8ec0 80.7%,#4594c4 80.8%,#93c5de 81.5%,#d1e5f0 82.2%,#f1f4f6 82.9%,#f7f5f3 83.1%,#fcd6c0 84.6%,#f2a27f 86.0%,#d6614e 87.6%,#bc2b34 89.5%,#af172a 90.7%,#7e0723 94.3%,#6a011f 96.9%,#67001f 99.9%,#67001f 100.1%)"></div>
<div style="top:762px;height:5px;background:linear-gradient(90deg,#67001f 0.1%,#69011f 9.1%,#720421 9.8%,#900d26 10.7%,#b31a2c 11.7%,#d55d4c 13.6%,#f2a17f 15.0%,#fddac6 16.4%,#f6f7f7 17.8%,#d4e6f1 18.5%,#93c6de 19.2%,#4b98c6 19.9%,#3e8cbf 20.2%,#2971b2 20.9%,#2166ac 21.6%,#1e61a5 25.1%,#1d5ea1 29.4%,#165290 30.8%,#195695 31.8%,#1e60a4 33.0%,#2064aa 35.3%,#2971b2 36.0%,#3c8abe 36.5%,#4393c3 36.6%,#90c3dd 37.1%,#d4e6f0 37.6%,#e8f0f4 37.8%,#f7f5f3 38.0%,#fcdfce 38.5%,#f4a683 39.5%,#d35b4b 40.7%,#b41b2c 41.8%,#7e0723 43.0%,#6c0220 43.7%,#67001f 45.1%,#69011f 56.3%,#750521 57.2%,#981027 58.4%,#b3192c 59.1%,#cf5247 60.3%,#dc6d57 60.8%,#f4a785 61.7%,#fdddca 62.7%,#f8f0ec 63.1%,#f7f6f6 63.3%,#d3e6f0 63.7%,#90c4dd 64.2%,#4695c4 64.7%,#2e78b5 65.1%,#2469ae 65.6%,#1f62a6 67.0%,#1c5d9f 68.5%,#124983 69.9%,#10467f 71.3%,#144d89 72.2%,#1d5ea1 73.4%,#1e61a5 76.0%,#2064a9 79.1%,#276eb0 79.8%,#3580b9 80.3%,#3e8cc0 80.5%,#4393c3 80.7%,#92c5de 81.4%,#d2e5f0 82.1%,#f2f5f6 82.8%,#f6f7f7 82.9%,#fdd9c4 84.3%,#f4a481 85.7%,#d7624e 87.4%,#be3137 89.1%,#b2182b 90.2%,#7f0823 93.8%,#6a011f 96.4%,#67001f 99.9%,#67001f 100.1%)"></div>
<div style="top:767px;height:5px;background:linear-gradient(90deg,#67001f 0.1%,#69011f 9.3%,#720421 10.0%,#900d26 10.9%,#b31a2c 11.9%,#d55f4c 13.8%,#f3a481 15.2%,#fddcc8 16.6%,#f8f3f1 17.8%,#f7f6f6 17.9%,#d6e7f1 18.6%,#c3deec 18.9%,#96c7df 19.3%,#4d9ac7 20.1%,#4393c3 20.2%,#2c75b4 20.9%,#2267ad 21.6%,#1f61a6 24.9%,#1d5fa2 29.2%,#154f8c 30.6%,#16508e 31.5%,#1e60a3 33.0%,#2065aa 35.3%,#256baf 35.8%,#337eb8 36.3%,#3f8ec0 36.5%,#4b98c6 36.6%,#99c9e0 37.1%,#bddbea 37.3%,#cee4ef 37.5%,#f7f7f7 37.9%,#fcd3bc 38.6%,#f4a683 39.3%,#d96753 40.3%,#b2182b 41.7%,#840924 42.7%,#6e0220 43.4%,#67001f 44.3%,#69011f 56.6%,#770522 57.6%,#9c1127 58.8%,#af172a 59.2%,#c03438 59.9%,#da6954 60.9%,#f4a582 61.8%,#fddcc9 62.8%,#f8f1ec 63.3%,#f7f7f6 63.4%,#d1e5f0 63.8%,#8bc1dc 64.3%,#64a8ce 64.6%,#4292c3 64.8%,#2d76b4 65.3%,#2369ad 65.7%,#1d5ea1 68.1%,#114680 69.8%,#0f437c 71.2%,#124883 72.1%,#1d5ea1 73.6%,#1e61a5 75.4%,#2064a9 79.0%,#276eb0 79.7%,#347fb9 80.2%,#3d8bbf 80.4%,#4292c2 80.5%,#90c4dd 81.2%,#d2e5f0 82.0%,#f3f5f6 82.7%,#f7f7f7 82.8%,#fcd7c2 84.2%,#f2a17f 85.6%,#d96752 87.0%,#c03338 88.7%,#b31a2c 89.9%,#7d0722 93.7%,#6a011f 96.0%,#67001f 100.1%)"></div>
<div style="top:772px;height:5px;background:linear-gradient(90deg,#67001f 0.1%,#69011f 9.5%,#720421 10.2%,#900d26 11.2%,#b31a2c 12.1%,#d6614d 14.0%,#f4a683 15.4%,#fdddca 16.9%,#f7f5f4 18.0%,#f0f4f6 18.3%,#d8e8f1 18.8%,#c7e0ed 19.0%,#80b9d8 19.7%,#4f9bc7 20.2%,#4494c3 20.3%,#2c75b4 21.0%,#2267ad 21.7%,#1f62a6 25.0%,#1e60a4 28.8%,#185595 29.8%,#134b87 30.7%,#154e8b 31.7%,#1d5fa2 32.8%,#2166ac 35.4%,#2970b1 35.9%,#3c89be 36.4%,#4292c3 36.5%,#66a9cf 36.7%,#90c4dd 37.0%,#d6e7f1 37.5%,#eaf1f5 37.7%,#f4f6f6 37.8%,#fce1d2 38.3%,#f4a683 39.2%,#d96652 40.2%,#b72230 41.4%,#af172b 41.6%,#810823 42.5%,#6d0220 43.3%,#67001f 44.4%,#68001f 56.7%,#740421 57.7%,#970f27 58.9%,#b31a2c 59.6%,#cb4942 60.5%,#d86551 61.0%,#f3a280 62.0%,#fbcdb5 62.7%,#fddcc9 62.9%,#f8f1ed 63.4%,#f7f7f7 63.5%,#cee3ef 64.0%,#86bdda 64.4%,#5fa4cc 64.7%,#4d99c6 64.8%,#408fc1 64.9%,#2c74b3 65.4%,#2368ad 65.9%,#1d5ea1 68.0%,#0f447d 69.6%,#0e4078 71.1%,#0f447d 72.0%,#1d5ea1 73.7%,#1e61a5 75.3%,#2064a9 78.9%,#266daf 79.6%,#337eb8 80.1%,#3c8abe 80.3%,#4b98c6 80.5%,#9bc9e1 81.2%,#c7e0ed 81.7%,#d8e8f1 82.0%,#f7f6f6 82.7%,#fcd5c0 84.1%,#f19e7d 85.5%,#d76350 86.9%,#be3036 88.6%,#b1182b 89.8%,#7d0723 93.3%,#6a011f 95.7%,#67001f 99.9%,#67001f 100.1%)"></div>
<div style="top:777px;height:5px;background:linear-gradient(90deg,#67001f 0.1%,#69011f 9.8%,#720421 10.5%,#900d26 11.4%,#b31a2c 12.4%,#d25849 14.0%,#e68469 15.0%,#f5a886 15.7%,#fcd8c3 16.9%,#f7f7f7 18.3%,#d4e6f1 19.0%,#90c4dd 19.7%,#4695c4 20.4%,#2d76b4 21.1%,#2267ad 21.8%,#1f62a6 25.4%,#1e60a3 28.7%,#175392 29.6%,#124a85 30.4%,#124883 31.3%,#16508e 32.0%,#1d5fa2 33.0%,#2166ac 35.3%,#276eb0 35.8%,#3784bb 36.3%,#4896c5 36.5%,#98c8e0 37.0%,#bddbea 37.2%,#cfe4ef 37.3%,#e6eff4 37.6%,#f7f5f4 37.8%,#fcdecc 38.3%,#f5ae8d 39.0%,#e98d6f 39.5%,#d55e4c 40.2%,#b3192c 41.4%,#830923 42.3%,#6d0220 43.0%,#67001f 44.2%,#6a011f 57.2%,#790622 58.2%,#a01228 59.3%,#b31b2c 59.8%,#cc4c43 60.8%,#da6954 61.2%,#f4a785 62.2%,#fce1d1 63.1%,#f5f6f7 63.6%,#e1edf3 63.8%,#c9e1ee 64.1%,#a5cfe3 64.3%,#7eb9d7 64.6%,#58a0ca 64.8%,#4695c4 64.9%,#3884bb 65.1%,#276eb0 65.6%,#2065aa 66.3%,#1d5ea2 67.8%,#0e4078 69.6%,#0c3e75 71.5%,#0f447c 72.2%,#1c5c9f 73.7%,#1e61a5 74.6%,#2064aa 78.9%,#286fb1 79.6%,#3682ba 80.1%,#408fc1 80.3%,#569fc9 80.5%,#8dc2dc 81.0%,#d2e5f0 81.7%,#f4f6f6 82.4%,#f8f3f0 82.7%,#fdd8c4 83.8%,#f2a07f 85.3%,#d86450 86.7%,#be3036 88.3%,#b0172b 89.5%,#7e0823 92.8%,#6a0120 95.2%,#67001f 99.9%,#67001f 100.1%)"></div>
<div style="top:782px;height:5px;background:linear-gradient(90deg,#67001f 0.1%,#69011f 10.0%,#720421 10.7%,#900d26 11.7%,#b31b2c 12.6%,#d35a4a 14.3%,#ec9374 15.4%,#f5aa89 15.9%,#fddac6 17.1%,#f8f3f0 18.3%,#f4f5f6 18.5%,#cee3ef 19.2%,#86bdda 19.9%,#549ec9 20.4%,#4190c1 20.7%,#2a72b2 21.4%,#2166ac 22.1%,#1f62a6 26.3%,#1d5fa2 28.7%,#114882 30.1%,#10457e 31.1%,#124984 31.8%,#1d5ea1 33.0%,#2166ac 35.3%,#276eb0 35.8%,#3986bc 36.3%,#3f8ec1 36.4%,#4c99c6 36.5%,#9ecbe1 37.0%,#c3deec 37.2%,#d4e6f1 37.3%,#eaf1f5 37.6%,#f4f6f6 37.7%,#fce0d0 38.2%,#fbd1bb 38.4%,#f2a07e 39.1%,#d55d4c 40.1%,#b1182b 41.2%,#810823 42.2%,#6c0220 42.9%,#67001f 44.1%,#69011f 57.3%,#760521 58.3%,#9d1128 59.5%,#b1182b 59.9%,#ca4842 60.9%,#d86651 61.4%,#f4a684 62.3%,#fbe2d3 63.3%,#f9eee7 63.5%,#f8f4f2 63.6%,#f2f4f6 63.7%,#ddebf2 64.0%,#d2e6f0 64.1%,#89c0db 64.6%,#61a6cd 64.8%,#4190c1 65.0%,#2c74b3 65.5%,#2368ad 66.0%,#1d5ea1 67.6%,#0e4178 69.3%,#0b3b71 70.2%,#0c3d73 71.9%,#134b86 72.8%,#1c5c9e 73.8%,#1f61a6 74.7%,#2064a9 78.8%,#276eb0 79.5%,#3581ba 79.9%,#3f8ec0 80.2%,#4695c4 80.3%,#99c8e0 81.0%,#c7e0ed 81.5%,#d8e8f1 81.7%,#f0f3f6 82.2%,#f7f5f4 82.4%,#fddbc7 83.6%,#f3a381 85.0%,#d86551 86.4%,#be3036 88.1%,#b0172b 89.3%,#7d0723 92.6%,#6a011f 95.0%,#67001f 99.9%,#67001f 100.1%)"></div>
<div style="top:787px;height:5px;background:linear-gradient(90deg,#67001f 0.1%,#69011f 10.2%,#720421 10.9%,#900d26 11.9%,#b41b2c 12.8%,#d45b4b 14.5%,#f3a27f 15.9%,#fddcc8 17.3%,#f8f5f3 18.5%,#f1f4f6 18.8%,#d8e8f1 19.2%,#c5dfed 19.5%,#96c7df 19.9%,#4a98c5 20.7%,#3d8bbf 20.9%,#286fb1 21.6%,#2166ab 22.3%,#1e60a3 28.5%,#185595 29.2%,#0f447d 30.1%,#0e427a 31.3%,#124a85 32.0%,#1c5c9f 33.0%,#1f62a6 33.9%,#2166ac 35.3%,#286fb1 35.8%,#3a87bd 36.3%,#4190c2 36.4%,#64a8ce 36.6%,#90c4dd 36.9%,#b6d7e8 37.1%,#d8e8f1 37.3%,#eef3f5 37.6%,#f7f6f6 37.7%,#fdddcb 38.2%,#f5aa89 38.9%,#d86551 39.8%,#b41d2d 41.0%,#9c1128 41.5%,#7b0622 42.2%,#6a0120 42.9%,#67001f 46.7%,#69011f 57.6%,#760521 58.5%,#9e1228 59.7%,#b3192c 60.2%,#cc4c44 61.1%,#db6a55 61.6%,#f09c7b 62.3%,#f8bca0 62.8%,#fcdecc 63.3%,#f7f7f7 63.7%,#e3eef3 64.0%,#cbe2ee 64.2%,#a5cfe4 64.4%,#7eb8d7 64.7%,#569fca 64.9%,#4594c4 65.0%,#2d76b4 65.5%,#2369ad 66.0%,#1d5fa2 67.4%,#0c3d73 69.3%,#09396d 70.5%,#0b3c72 72.1%,#144c88 73.1%,#1c5da0 74.0%,#1f62a6 75.2%,#2065aa 78.8%,#2971b2 79.5%,#3986bc 79.9%,#4494c3 80.2%,#98c8e0 80.9%,#c7e0ed 81.4%,#d9e9f1 81.6%,#f0f4f6 82.1%,#f7f5f3 82.3%,#fddac5 83.5%,#f2a07e 84.9%,#d7624e 86.3%,#bc2c34 88.0%,#b1182b 88.9%,#7d0723 92.2%,#69011f 94.6%,#67001f 100.1%)"></div>
<div style="top:792px;height:5px;background:linear-gradient(90deg,#67001f 0.1%,#69011f 10.5%,#720421 11.2%,#900d26 12.1%,#b41c2d 13.1%,#d55d4c 14.7%,#f4a482 16.2%,#fdddca 17.6%,#f8f0eb 18.5%,#f7f7f6 18.8%,#d3e6f0 19.5%,#8dc2dc 20.2%,#58a0ca 20.7%,#4292c2 20.9%,#2b73b3 21.6%,#2166ac 22.3%,#1f62a6 27.0%,#1e60a4 28.2%,#195797 28.9%,#0f437b 29.9%,#0c3e75 30.8%,#0f437b 31.8%,#1d5ea1 33.2%,#2166ac 35.3%,#2870b1 35.8%,#3b89be 36.3%,#4392c3 36.4%,#69abd0 36.6%,#95c7df 36.9%,#bcdaea 37.1%,#d0e4f0 37.2%,#e7eff4 37.5%,#f2f5f6 37.6%,#f8f3f1 37.7%,#fddac6 38.2%,#f4a582 38.9%,#d55d4c 39.8%,#b72230 40.8%,#ae172a 41.0%,#7e0723 42.0%,#6b0120 42.7%,#67001f 44.6%,#69011f 57.8%,#760521 58.8%,#960f27 59.7%,#b41c2d 60.4%,#ce5146 61.4%,#dd7059 61.8%,#f4a481 62.5%,#f9c6ac 63.0%,#fdd9c4 63.3%,#f8f2ef 63.7%,#f3f5f6 63.8%,#deebf2 64.1%,#d3e6f0 64.2%,#88bfdb 64.7%,#5fa5cc 64.9%,#4c99c6 65.0%,#408fc1 65.1%,#2b73b3 65.6%,#2268ad 66.1%,#1d5ea1 67.3%,#0a3a70 69.2%,#083669 70.4%,#09386c 72.0%,#0e4179 72.7%,#1c5da0 74.1%,#1f62a6 75.1%,#2065aa 78.6%,#2970b1 79.3%,#3884bc 79.8%,#4292c3 80.1%,#97c7df 80.8%,#c7e0ed 81.2%,#d9e9f1 81.5%,#f1f4f6 82.0%,#f6f6f7 82.1%,#fddcc8 83.3%,#f3a380 84.7%,#d7624f 86.1%,#bf3237 87.5%,#b1182b 88.7%,#7f0823 91.8%,#6b0120 93.9%,#67001f 97.9%,#67001f 100.1%)"></div>
<div style="top:797px;height:5px;background:linear-gradient(90deg,#67001f 0.1%,#69011f 10.7%,#720421 11.4%,#900d26 12.4%,#b41c2d 13.3%,#d65f4d 15.0%,#f4a784 16.4%,#fdd8c3 17.6%,#f5f6f7 19.0%,#ddebf2 19.5%,#cde3ef 19.7%,#82bbd9 20.4%,#4e9ac7 20.9%,#4393c3 21.0%,#2b73b3 21.7%,#2167ac 22.4%,#1e60a4 28.1%,#185595 28.8%,#0e4078 29.8%,#0b3b70 30.7%,#0c3e74 31.7%,#134a86 32.4%,#1d5ea1 33.3%,#2368ad 35.4%,#2c75b4 35.9%,#3682ba 36.2%,#4695c4 36.4%,#9ac9e0 36.9%,#c2ddec 37.1%,#d4e6f1 37.2%,#ebf1f5 37.5%,#f6f6f7 37.6%,#fdddcb 38.0%,#f4a784 38.8%,#d55e4c 39.7%,#b6202f 40.7%,#ad162a 40.9%,#7c0722 41.8%,#6b0120 42.5%,#67001f 45.1%,#69011f 58.2%,#740421 58.9%,#930e26 59.8%,#b2192b 60.5%,#cd4d44 61.5%,#dc6d57 62.0%,#f3a381 62.7%,#fac6ad 63.1%,#fddbc7 63.4%,#f7f5f4 63.8%,#e4eef4 64.1%,#cbe2ee 64.3%,#a5cfe3 64.6%,#7db7d7 64.8%,#549ec9 65.0%,#4393c3 65.1%,#2d75b4 65.6%,#2368ad 66.1%,#1c5c9e 67.3%,#0a3a6f 68.9%,#073467 69.9%,#083569 72.0%,#0c3e75 72.7%,#1b5b9d 74.1%,#1f62a6 75.1%,#2165ab 78.6%,#266caf 79.1%,#327db8 79.6%,#3c8abe 79.8%,#4191c2 79.9%,#78b5d5 80.4%,#96c7df 80.7%,#c7e0ed 81.1%,#d9e9f1 81.4%,#f1f4f6 81.8%,#f7f7f7 82.0%,#fddbc7 83.1%,#f29f7e 84.6%,#d55f4c 86.0%,#bd2f36 87.4%,#b2182b 88.3%,#7f0823 91.4%,#6b0120 93.6%,#67001f 97.8%,#67001f 99.9%,#67001f 100.1%)"></div>
<div style="top:802px;height:5px;background:linear-gradient(90deg,#67001f 0.1%,#69011f 10.9%,#720321 11.7%,#900d26 12.6%,#b41c2d 13.6%,#d6614e 15.2%,#f5a987 16.6%,#fddbc6 17.8%,#f8f4f2 19.0%,#f6f7f7 19.1%,#d1e5f0 19.8%,#85bdda 20.5%,#519cc8 21.0%,#4594c4 21.1%,#2b74b3 21.8%,#2167ac 22.5%,#1e60a4 28.0%,#185493 28.7%,#0c3e74 29.6%,#09386d 30.4%,#0a3a6e 31.5%,#0f447d 32.2%,#1b5b9d 33.2%,#1f62a6 33.9%,#2267ac 35.3%,#2971b2 35.8%,#327cb7 36.0%,#3e8dc0 36.3%,#4a97c5 36.4%,#a0cce2 36.9%,#c8e1ee 37.1%,#e4eef3 37.3%,#f7f5f3 37.6%,#fdd9c5 38.0%,#f6b292 38.5%,#e98b6e 39.0%,#d96652 39.5%,#b92632 40.4%,#b2182b 40.7%,#800823 41.6%,#700320 42.1%,#68001f 42.8%,#69011f 58.4%,#740421 59.1%,#940e26 60.1%,#b31b2c 60.8%,#cf5246 61.7%,#de735b 62.2%,#ee9878 62.7%,#f5ab8a 62.9%,#fbd2bb 63.4%,#fbe2d4 63.6%,#f8f0eb 63.8%,#f6f6f7 64.0%,#e0ecf3 64.2%,#d4e6f1 64.3%,#87beda 64.8%,#5da3cc 65.0%,#4a97c5 65.1%,#3885bc 65.4%,#276eb0 65.9%,#1c5d9f 67.0%,#09376b 68.9%,#063264 69.9%,#073466 72.0%,#0b3c71 72.7%,#1c5d9f 74.4%,#1f62a7 75.3%,#2064aa 78.4%,#276eb0 79.1%,#3682ba 79.6%,#4090c1 79.8%,#58a1ca 80.1%,#95c6df 80.5%,#c7e0ed 81.0%,#d9e9f2 81.2%,#f2f5f6 81.7%,#f7f7f6 81.8%,#fdd9c5 83.0%,#f09c7b 84.4%,#d86450 85.6%,#bf3237 87.0%,#b31a2c 88.0%,#7c0722 91.3%,#6a011f 93.4%,#67001f 100.1%)"></div>
<div style="top:807px;height:5px;background:linear-gradient(90deg,#67001f 0.1%,#69011f 11.2%,#720321 11.9%,#900d26 12.8%,#ad172a 13.6%,#b92632 14.0%,#d7634f 15.4%,#f5ab8a 16.9%,#fddcc9 18.0%,#f9f0ea 19.0%,#f7f6f5 19.2%,#e1edf3 19.7%,#d3e6f0 19.9%,#89bfdb 20.7%,#539dc8 21.1%,#408fc1 21.4%,#2971b1 22.1%,#2166ac 22.8%,#1e61a5 27.8%,#195696 28.5%,#0c3e75 29.4%,#08366a 30.1%,#09376a 31.5%,#0e4178 32.2%,#1c5da0 33.4%,#2063a8 34.4%,#2267ad 35.3%,#2a72b2 35.8%,#337eb8 36.0%,#408fc1 36.3%,#4e9ac7 36.4%,#79b5d5 36.6%,#a5cfe4 36.9%,#cfe4ef 37.1%,#e8f0f4 37.3%,#f4f5f6 37.5%,#fdddca 37.9%,#f7b596 38.4%,#f3a280 38.6%,#d96752 39.3%,#b82531 40.3%,#b1182b 40.5%,#7e0723 41.5%,#6f0320 42.0%,#67001f 42.9%,#69011f 58.5%,#710321 59.2%,#900d26 60.2%,#b2182b 60.9%,#cd4f45 61.8%,#dd7059 62.3%,#ed9676 62.8%,#f5aa89 63.0%,#fcd4bd 63.5%,#f8f3f0 64.0%,#f2f4f6 64.1%,#dae9f2 64.3%,#cde3ef 64.4%,#a5cfe3 64.7%,#7bb7d6 64.9%,#529dc8 65.1%,#4291c2 65.3%,#2c74b3 65.7%,#2064a9 66.4%,#144e8a 67.6%,#09376b 68.8%,#063264 70.0%,#073466 72.1%,#0b3c72 72.8%,#1c5d9f 74.5%,#1f62a7 75.4%,#2166ac 78.5%,#276eb0 79.0%,#3580b9 79.5%,#3f8ec0 79.7%,#4896c5 79.8%,#84bcd9 80.3%,#bad9e9 80.8%,#d2e6f0 81.0%,#f7f6f6 81.7%,#fcd7c2 82.9%,#f4a582 84.1%,#d6604d 85.5%,#bd2e35 86.9%,#b1182b 87.9%,#800823 90.7%,#6b0120 92.8%,#67001f 97.8%,#67001f 99.9%,#67001f 100.1%)"></div>
<div style="top:812px;height:5px;background:linear-gradient(90deg,#67001f 0.1%,#69011f 11.4%,#720321 12.1%,#910d26 13.1%,#ae172a 13.8%,#be3036 14.5%,#d86551 15.7%,#f3a280 16.9%,#fcd6c1 18.0%,#f5f6f7 19.5%,#ddebf2 19.9%,#cce2ef 20.2%,#9ac9e0 20.7%,#4997c5 21.4%,#3c89be 21.6%,#2c75b3 22.1%,#2267ac 22.8%,#1f61a6 27.5%,#1a5899 28.2%,#0b3b70 29.4%,#073467 30.1%,#083568 31.5%,#0c3e75 32.2%,#1c5c9e 33.4%,#1f63a7 34.1%,#2267ad 35.3%,#2b73b3 35.8%,#347fb9 36.0%,#4191c2 36.3%,#68aad0 36.5%,#97c7df 36.7%,#c1ddeb 37.0%,#d4e6f1 37.1%,#edf2f5 37.3%,#f7f6f6 37.5%,#fdd8c4 37.9%,#f6ae8e 38.4%,#ef9a79 38.6%,#d55e4c 39.3%,#b41c2d 40.3%,#8d0c25 41.0%,#710321 41.7%,#68001f 42.4%,#69001f 58.8%,#720321 59.5%,#880b24 60.2%,#b31a2c 61.1%,#d05347 62.1%,#e0765e 62.5%,#f29f7e 63.0%,#facab1 63.5%,#fcdfce 63.7%,#f9eee7 64.0%,#f7f6f5 64.1%,#e1edf3 64.3%,#d5e7f1 64.4%,#86bdda 64.9%,#5ba2cb 65.1%,#4896c5 65.3%,#3784bb 65.5%,#266db0 66.0%,#1b5a9b 66.9%,#09396d 68.6%,#063364 69.5%,#073466 72.1%,#0b3b71 72.8%,#1d5ea1 74.7%,#1f63a8 75.9%,#2267ac 78.5%,#2970b1 79.0%,#3986bc 79.5%,#4595c4 79.7%,#82bbd9 80.2%,#9fcce2 80.4%,#d2e6f0 80.9%,#eef3f5 81.4%,#f7f6f5 81.6%,#fcd6c0 82.8%,#f2a17f 84.0%,#d96652 85.1%,#bf3137 86.6%,#b2192b 87.5%,#800823 90.4%,#6a0120 92.5%,#67001f 97.9%,#67001f 100.1%)"></div>
<div style="top:817px;height:5px;background:linear-gradient(90deg,#67001f 0.1%,#69011f 11.7%,#720321 12.4%,#910d26 13.3%,#ae172a 14.0%,#c94540 15.2%,#d96752 15.9%,#f4a582 17.1%,#fdd8c4 18.3%,#f8f3f1 19.5%,#f7f7f7 19.6%,#d0e4f0 20.3%,#81bad8 21.0%,#4b98c6 21.5%,#3c8abf 21.7%,#2c75b4 22.2%,#2267ac 22.9%,#1f61a6 27.4%,#1a5898 28.1%,#0b3b70 29.3%,#073467 30.0%,#083568 31.7%,#0d4077 32.4%,#1c5c9e 33.6%,#2064a9 34.5%,#2469ae 35.4%,#3079b6 35.9%,#3b89be 36.2%,#4393c3 36.3%,#6daed1 36.5%,#9ccae1 36.7%,#c7e0ed 37.0%,#e4eef4 37.2%,#f1f4f6 37.3%,#f8f3f0 37.5%,#fcd2bc 37.9%,#f5a886 38.4%,#d96853 39.1%,#bf3237 39.8%,#ae172a 40.3%,#860a24 41.0%,#730421 41.5%,#68001f 42.2%,#69001f 59.0%,#720321 59.7%,#890b24 60.4%,#aa162a 61.1%,#b51d2d 61.4%,#d3594a 62.3%,#e37e64 62.8%,#f5aa88 63.3%,#fdd9c4 63.7%,#fae9df 64.0%,#f4f5f6 64.2%,#dbeaf2 64.4%,#cde3ef 64.6%,#a4cee3 64.8%,#79b5d5 65.0%,#4f9bc7 65.3%,#4190c1 65.4%,#2a72b2 65.9%,#2064a9 66.3%,#0a396d 68.5%,#063365 69.4%,#073467 72.2%,#0d4078 73.2%,#1d5ea1 74.9%,#1f63a8 76.0%,#2167ac 78.4%,#286fb1 78.9%,#3884bb 79.3%,#4393c3 79.6%,#9ecbe1 80.3%,#d2e6f0 80.8%,#eef3f5 81.2%,#f7f5f3 81.5%,#fcd4be 82.7%,#f19e7c 83.8%,#d7624f 85.0%,#c03539 86.2%,#b31b2c 87.2%,#7d0722 90.2%,#6a0120 92.1%,#67001f 98.5%,#67001f 99.9%,#67001f 100.1%)"></div>
<div style="top:822px;height:5px;background:linear-gradient(90deg,#67001f 0.1%,#69011f 11.9%,#720421 12.6%,#910e26 13.6%,#af172b 14.3%,#cf5246 15.7%,#df755d 16.4%,#f4a785 17.3%,#fddbc7 18.5%,#f9efe9 19.5%,#f7f6f4 19.7%,#e1edf3 20.2%,#d2e6f0 20.4%,#84bcd9 21.1%,#4d99c7 21.6%,#4292c2 21.7%,#2a72b2 22.4%,#2166ac 23.1%,#1e60a4 27.4%,#185594 28.1%,#0a3a6e 29.3%,#073466 30.2%,#083568 31.7%,#0c3e75 32.4%,#1b5b9c 33.6%,#1f63a7 34.3%,#246aae 35.4%,#307ab6 35.9%,#3d8bbf 36.2%,#4695c4 36.3%,#a0cce2 36.7%,#cce2ee 37.0%,#e8f0f4 37.2%,#f4f6f6 37.3%,#fddac5 37.8%,#f5ac8b 38.3%,#e37f65 38.8%,#d15648 39.2%,#b72230 39.9%,#ad162a 40.2%,#850a24 40.9%,#730421 41.4%,#68001f 42.1%,#69011f 59.3%,#750521 60.1%,#900d26 60.8%,#b31a2c 61.5%,#c94641 62.2%,#da6a55 62.7%,#ed9575 63.1%,#f5ac8b 63.4%,#fdddca 63.8%,#f9ede6 64.1%,#f7f5f4 64.2%,#e1ecf3 64.4%,#d4e6f1 64.6%,#acd2e5 64.8%,#82bbd8 65.0%,#569fca 65.3%,#4393c3 65.4%,#2b73b3 65.9%,#1f62a6 66.3%,#0c3e75 68.0%,#073466 68.9%,#073466 72.2%,#0d3f76 73.2%,#1c5d9f 74.9%,#1f63a8 75.8%,#2267ad 78.4%,#2a72b2 78.9%,#3c89be 79.3%,#4291c2 79.5%,#7eb8d7 79.9%,#9dcbe1 80.2%,#d2e6f0 80.7%,#eff3f6 81.1%,#f5f6f7 81.2%,#fcd7c2 82.4%,#f2a17f 83.6%,#d86450 84.8%,#c03538 86.0%,#b31a2c 86.9%,#7f0823 89.8%,#6b0120 91.7%,#67001f 96.2%,#67001f 99.9%,#67001f 100.1%)"></div>
<div style="top:827px;height:5px;background:linear-gradient(90deg,#67001f 0.1%,#69011f 12.1%,#730421 12.8%,#930e26 13.8%,#b1182b 14.5%,#d05447 15.9%,#e0775f 16.6%,#f5aa88 17.6%,#fdddca 18.8%,#f5f6f7 19.9%,#dceaf2 20.4%,#c9e1ee 20.7%,#95c7df 21.1%,#4393c3 21.8%,#2b73b3 22.5%,#2167ac 23.3%,#1f62a6 27.0%,#1a599a 27.8%,#0a3a6f 29.2%,#073466 30.1%,#083669 31.8%,#0d4077 32.5%,#1b5b9d 33.7%,#1f63a8 34.4%,#2368ad 35.3%,#2d75b4 35.8%,#3783bb 36.0%,#4997c5 36.3%,#a4cee3 36.7%,#d0e4f0 37.0%,#eaf1f5 37.2%,#f7f7f7 37.3%,#fcd5c0 37.8%,#f4a784 38.3%,#d7624f 39.0%,#bb2b34 39.7%,#b41b2d 39.9%,#800823 40.9%,#700320 41.4%,#68001f 42.1%,#69011f 59.6%,#760521 60.3%,#920e26 61.0%,#ab162a 61.5%,#b51f2e 61.7%,#cd4e44 62.4%,#d6614e 62.7%,#e98b6e 63.1%,#f4a582 63.4%,#fcd8c3 63.8%,#fae9df 64.1%,#f8f2ee 64.2%,#f2f5f6 64.3%,#d8e9f1 64.6%,#b3d6e8 64.8%,#8ac0db 65.0%,#5da3cc 65.3%,#4997c5 65.4%,#3783bb 65.6%,#2369ad 66.1%,#175392 66.8%,#0a396d 68.2%,#073365 69.2%,#083568 72.5%,#0e427a 73.4%,#1d5ea1 75.1%,#2063a8 76.3%,#2166ac 78.2%,#266db0 78.6%,#3580b9 79.1%,#408fc1 79.3%,#5aa1cb 79.6%,#9bcae1 80.1%,#d2e6f0 80.5%,#f0f3f6 81.0%,#f6f6f7 81.1%,#fcd4bf 82.3%,#f09d7c 83.5%,#d65f4d 84.7%,#be3137 85.9%,#b1182b 86.8%,#7f0823 89.4%,#6a0120 91.3%,#67001f 97.2%,#67001f 100.1%)"></div>
<div style="top:832px;height:5px;background:linear-gradient(90deg,#67001f 0.1%,#69011f 12.4%,#740421 13.1%,#950f26 14.0%,#b2182b 14.7%,#d7624e 16.4%,#f2a17f 17.6%,#fcd8c3 18.8%,#f8f4f1 19.9%,#f7f7f7 20.1%,#ddebf2 20.5%,#cce2ef 20.8%,#97c8df 21.2%,#4594c4 22.0%,#2c74b3 22.7%,#2267ad 23.4%,#1f62a6 26.9%,#1a599a 27.6%,#0a3a6f 29.1%,#073466 30.0%,#08366a 31.9%,#0e4178 32.6%,#1c5c9e 33.8%,#2064aa 34.7%,#246aae 35.4%,#327db8 35.9%,#3f8ec0 36.2%,#4d99c6 36.3%,#79b5d6 36.5%,#92c5de 36.6%,#bddbea 36.9%,#d2e6f0 37.0%,#edf2f5 37.2%,#f7f5f4 37.3%,#fbe5d7 37.6%,#fbd1ba 37.8%,#f2a07e 38.3%,#dd7059 38.8%,#d35a4a 39.0%,#b82431 39.7%,#ae172a 39.9%,#860a24 40.7%,#730421 41.1%,#68001f 41.8%,#68001f 59.6%,#710321 60.3%,#8a0b25 61.0%,#b0172b 61.7%,#c84440 62.4%,#db6b56 62.9%,#f09c7b 63.4%,#f7b697 63.6%,#fbd1ba 63.8%,#fbe6da 64.1%,#f6f7f7 64.3%,#ddebf2 64.6%,#cfe4f0 64.7%,#a6cfe4 64.9%,#79b5d6 65.1%,#4e9ac7 65.4%,#3f8ec1 65.5%,#276db0 66.0%,#1b5a9b 66.4%,#0d4078 67.6%,#073467 68.6%,#073466 72.4%,#0c3e75 73.3%,#1d5ea1 75.2%,#2063a8 76.4%,#2268ad 78.3%,#2b73b3 78.8%,#3e8cc0 79.2%,#4695c4 79.3%,#88bfdb 79.8%,#c4deec 80.3%,#d2e5f0 80.4%,#f0f4f6 80.9%,#f6f7f7 81.0%,#fddcc9 82.0%,#f4a683 83.1%,#d96652 84.3%,#c13539 85.5%,#b3192c 86.4%,#7f0823 89.1%,#6b0120 90.7%,#67001f 94.0%,#67001f 99.9%,#67001f 100.1%)"></div>
<div style="top:837px;height:5px;background:linear-gradient(90deg,#67001f 0.1%,#6a011f 12.6%,#760521 13.3%,#a11228 14.5%,#b31a2c 15.0%,#d86450 16.6%,#f4a481 17.8%,#fddbc7 19.0%,#f9efea 19.9%,#f7f6f6 20.2%,#dfecf3 20.7%,#cfe4ef 20.9%,#99c9e0 21.4%,#4796c4 22.1%,#337eb8 22.5%,#246aae 23.3%,#2064a9 24.7%,#1f62a6 26.8%,#1a5899 27.5%,#0a3a6f 28.9%,#073467 29.9%,#083568 31.8%,#0c3d74 32.5%,#1c5c9e 33.9%,#2065aa 34.9%,#276eb0 35.6%,#2e77b5 35.8%,#3986bc 36.0%,#408fc1 36.2%,#509bc7 36.3%,#7db8d7 36.5%,#abd2e5 36.7%,#d5e7f1 37.0%,#eff3f6 37.2%,#f8f4f1 37.3%,#fbe2d4 37.6%,#fddac6 37.7%,#f4a784 38.2%,#de735c 38.6%,#d55d4c 38.9%,#b82531 39.6%,#af172b 39.8%,#860a24 40.5%,#740421 41.0%,#68001f 41.7%,#69011f 59.9%,#750421 60.7%,#920e26 61.4%,#ad162a 61.8%,#b72230 62.1%,#d15749 62.8%,#db6c57 63.0%,#f2a17f 63.5%,#f8bb9f 63.7%,#fdd9c4 64.0%,#faebe2 64.2%,#f8f4f2 64.3%,#eef3f5 64.4%,#d4e7f1 64.7%,#acd2e5 64.9%,#80bad8 65.1%,#539dc8 65.4%,#4190c2 65.5%,#266daf 66.0%,#1e61a5 66.2%,#16518e 66.7%,#09386b 68.1%,#063365 69.3%,#083568 72.6%,#10457e 73.8%,#1e5fa3 75.4%,#2064a9 76.9%,#2369ae 78.3%,#2e77b4 78.8%,#4292c3 79.2%,#a5cfe3 79.9%,#c3deec 80.2%,#d1e5f0 80.3%,#f0f4f6 80.8%,#f7f7f7 80.9%,#fce1d1 81.6%,#fddbc6 81.8%,#f3a27f 83.0%,#d7624e 84.2%,#bf3137 85.4%,#b0172b 86.3%,#7e0723 88.7%,#6b0120 90.4%,#67001f 94.4%,#67001f 100.1%)"></div>
<div style="top:842px;height:5px;background:linear-gradient(90deg,#67001f 0.1%,#68001f 12.6%,#710321 13.3%,#900d25 14.3%,#b41c2d 15.2%,#d96652 16.9%,#f4a785 18.0%,#fdddca 19.2%,#f4f6f6 20.4%,#d9e9f1 20.9%,#d1e5f0 21.0%,#7eb9d7 21.7%,#4997c5 22.2%,#3c8abe 22.4%,#2870b1 23.1%,#2166ac 23.8%,#1f61a6 26.7%,#1a5899 27.4%,#0a3a6f 28.8%,#073467 29.8%,#083569 31.9%,#0c3e75 32.6%,#1c5d9f 34.0%,#2267ad 35.2%,#2b73b2 35.7%,#347fb9 35.9%,#4191c2 36.2%,#69abd0 36.4%,#99c9e0 36.6%,#c5dfec 36.9%,#e5eef4 37.1%,#f2f5f6 37.2%,#f8f1ee 37.3%,#fce0d0 37.6%,#f5ad8c 38.0%,#eb9173 38.3%,#d6604d 38.8%,#b92631 39.5%,#b0172b 39.7%,#860a24 40.4%,#740421 40.9%,#68001f 41.6%,#68001f 60.1%,#720421 60.8%,#8f0d25 61.5%,#ab162a 62.0%,#b2182b 62.1%,#cc4c44 62.8%,#d7624f 63.0%,#ee9777 63.5%,#f6b495 63.7%,#fbd1bb 64.0%,#fae7dc 64.2%,#f8f1ec 64.3%,#f3f5f6 64.4%,#d9e9f1 64.7%,#b2d5e7 64.9%,#86beda 65.1%,#57a0ca 65.4%,#4292c2 65.5%,#266caf 66.0%,#2165ab 66.1%,#1b5a9b 66.3%,#134c87 66.8%,#09386c 68.0%,#063365 69.2%,#073466 72.5%,#0c3e74 73.4%,#1d5fa2 75.6%,#2064a9 77.0%,#2368ad 78.2%,#2c75b4 78.6%,#4090c1 79.1%,#5da3cc 79.3%,#81bad8 79.6%,#a3cde3 79.8%,#c1ddec 80.1%,#d1e5f0 80.2%,#f1f4f6 80.7%,#f7f7f6 80.8%,#fdd8c3 81.7%,#f19d7c 82.9%,#d55e4c 84.1%,#bd2e35 85.3%,#b2192b 86.0%,#7e0723 88.3%,#6a0120 90.0%,#67001f 95.7%,#67001f 99.9%,#67001f 100.1%)"></div>
<div style="top:847px;height:5px;background:linear-gradient(90deg,#67001f 0.1%,#69011f 12.8%,#730421 13.6%,#920e26 14.5%,#af172b 15.2%,#c94741 16.4%,#da6954 17.1%,#f5ab89 18.3%,#fdd8c3 19.2%,#f8f5f3 20.4%,#eff3f6 20.7%,#d2e6f0 21.1%,#7fb9d8 21.8%,#4a98c6 22.3%,#3d8bbf 22.5%,#2970b1 23.3%,#2166ac 24.0%,#1f61a5 26.6%,#175392 27.5%,#0a3b70 28.7%,#073467 29.6%,#083669 32.0%,#0d4077 32.7%,#1c5da0 34.1%,#2369ae 35.3%,#2f79b6 35.8%,#3b88be 36.0%,#4392c3 36.2%,#6cadd1 36.4%,#9ccae1 36.6%,#c8e1ed 36.9%,#e7eff4 37.1%,#f4f6f7 37.2%,#fbe6da 37.5%,#fbd1ba 37.7%,#f7b495 37.9%,#ee9878 38.2%,#d86450 38.6%,#c3393b 39.1%,#b1182b 39.6%,#870a24 40.3%,#740421 40.8%,#69001f 41.5%,#69011f 60.4%,#770522 61.1%,#9a1027 61.8%,#a81529 62.1%,#b51e2e 62.3%,#c7423f 62.8%,#d25849 63.0%,#dd7059 63.3%,#e98d6f 63.5%,#f5ac8b 63.7%,#facab1 64.0%,#fddbc6 64.1%,#f9ede6 64.3%,#f7f7f7 64.4%,#ddebf2 64.7%,#cee3ef 64.8%,#a2cde3 65.0%,#4494c3 65.5%,#256caf 66.0%,#175392 66.4%,#0f427b 67.2%,#083669 68.1%,#063365 70.5%,#073467 72.6%,#0e427a 73.8%,#1d5fa2 75.7%,#2064a9 77.1%,#2268ad 78.0%,#2b73b3 78.5%,#3e8dc0 79.0%,#4796c4 79.1%,#8fc3dd 79.6%,#cfe4ef 80.1%,#f1f4f6 80.5%,#f7f6f6 80.7%,#fcd6c1 81.6%,#f4a785 82.5%,#d86551 83.7%,#bf3338 84.9%,#b0172b 85.9%,#7f0823 88.0%,#6c0120 89.4%,#67001f 92.0%,#67001f 100.1%)"></div>
<div style="top:852px;height:3px;background:linear-gradient(90deg,#67001f 0.1%,#6a011f 13.1%,#760521 13.8%,#a01228 15.0%,#b31a2c 15.4%,#d7634f 17.1%,#f4a582 18.3%,#fdddca 19.5%,#f4f6f6 20.7%,#d8e9f1 21.1%,#d0e4f0 21.2%,#99c9e0 21.7%,#60a5cd 22.2%,#4796c5 22.4%,#347fb9 22.9%,#256baf 23.6%,#2064a9 24.8%,#1f61a6 26.4%,#175492 27.4%,#0b3b71 28.6%,#073467 29.5%,#083568 31.9%,#0c3d73 32.6%,#1d5ea1 34.3%,#256caf 35.4%,#2b74b3 35.7%,#3581ba 35.9%,#4494c3 36.2%,#9ecbe2 36.6%,#cbe2ee 36.9%,#e9f0f4 37.1%,#f6f7f7 37.2%,#fbe5d8 37.5%,#fddcc9 37.6%,#f3a380 38.0%,#da6a55 38.5%,#cf5347 38.8%,#b31a2c 39.5%,#890b25 40.2%,#760521 40.7%,#69011f 41.4%,#69011f 60.5%,#700320 61.0%,#800823 61.5%,#a9152a 62.2%,#b1182b 62.3%,#c43b3c 62.8%,#ce5046 63.0%,#da6954 63.3%,#f4a684 63.7%,#f9c5aa 64.0%,#fce1d2 64.2%,#f8f4f3 64.4%,#edf2f5 64.6%,#d2e5f0 64.8%,#a6cfe4 65.0%,#76b3d4 65.3%,#4695c4 65.5%,#337db8 65.7%,#256baf 66.0%,#175290 66.4%,#0e4179 67.2%,#083568 68.1%,#063365 72.1%,#09386b 73.1%,#1e60a4 75.9%,#2368ad 78.0%,#2c75b4 78.5%,#4190c2 79.0%,#60a5cd 79.2%,#86bdda 79.5%,#c8e1ee 79.9%,#deebf2 80.2%,#eff3f5 80.4%,#f6f7f7 80.5%,#fcd7c1 81.5%,#f4a785 82.4%,#d86450 83.6%,#bf3137 84.8%,#b31b2c 85.5%,#7d0722 87.9%,#6a0120 89.3%,#67001f 95.4%,#67001f 99.9%,#67001f 100.1%)"></div>
</div>
<svg width="2169" height="984" viewBox="0 0 2169 984">
<rect x="169.6" y="107.0" width="845.9" height="748.3" fill="none" stroke="#000" stroke-width="2.7"/>
<path d="M157.2 110.8H169.6M157.2 304.9H169.6M157.2 500.1H169.6M157.2 695.4H169.6M229.2 855.3V868.4M410.2 855.3V868.4M591.6 855.3V868.4M772.4 855.3V868.4M953.9 855.3V868.4" stroke="#000" stroke-width="2.5" fill="none"/>
<path fill="#fff" d="M420.3 592.4h6.4v27.5h8.7L423.5 643.2L411.6 619.9h8.7z"/>
<path fill="#fff" d="M773.0 592.4h6.4v27.5h8.7L776.2 643.2L764.3 619.9h8.7z"/>
<defs><linearGradient id="cbar"><stop offset="0.0" stop-color="#053061"/><stop offset="0.1" stop-color="#2166ac"/><stop offset="0.2" stop-color="#4393c3"/><stop offset="0.3" stop-color="#92c5de"/><stop offset="0.4" stop-color="#d1e5f0"/><stop offset="0.5" stop-color="#f7f7f7"/><stop offset="0.6" stop-color="#fddbc7"/><stop offset="0.7" stop-color="#f4a582"/><stop offset="0.8" stop-color="#d6604d"/><stop offset="0.9" stop-color="#b2182b"/><stop offset="1.0" stop-color="#67001f"/></linearGradient><clipPath id="cb"><rect x="1343.2" y="100.6" width="826" height="756.8"/></clipPath></defs>
<rect x="828.5" y="58" width="169.3" height="36.5" fill="url(#cbar)" stroke="#000" stroke-width="2.8"/>
<rect x="1343.2" y="100.6" width="824.6" height="756.8" fill="#fff" stroke="none"/>
<g fill="none" stroke-width="7" stroke-linejoin="round" stroke-linecap="butt" clip-path="url(#cb)">
<path stroke="#b3000a" d="M1343.7 587.7L1343.9 588.6L1344.1 589.6L1344.4 590.7L1344.7 592.0L1345.0 593.4L1345.4 594.8L1345.7 596.2L1346.0 597.7L1346.4 599.1L1346.7 600.6L1347.0 602.1L1347.4 603.5L1347.7 605.0L1348.0 606.5L1348.3 607.9L1348.6 609.4L1349.0 610.9L1349.3 612.3L1349.6 613.8L1349.9 615.3L1350.3 616.7L1350.6 618.2L1350.9 619.7L1351.2 621.1L1351.6 622.6L1351.9 624.0L1352.2 625.5L1352.5 627.0L1352.9 628.4L1353.2 629.9L1353.6 631.4L1353.9 632.8L1354.3 634.3L1354.6 635.7L1355.0 637.2L1355.3 638.6L1355.7 640.1L1356.0 641.6L1356.4 643.0L1356.8 644.5L1357.1 645.9L1357.5 647.4L1357.9 648.8L1358.2 650.3L1358.6 651.7L1359.0 653.2L1359.4 654.6L1359.8 656.1L1360.1 657.5L1360.5 659.0L1360.9 660.4L1361.3 661.9L1361.7 663.3L1362.1 664.8L1362.5 666.2L1362.9 667.7L1363.4 669.1L1363.8 670.5L1364.2 672.0L1364.6 673.4L1365.1 674.9L1365.5 676.3L1366.0 677.7L1366.4 679.1L1366.9 680.6L1367.3 682.0L1367.8 683.4L1368.3 684.8L1368.8 686.3L1369.3 687.7L1369.8 689.1L1370.3 690.5L1370.8 691.9L1371.3 693.3L1371.8 694.7L1372.3 696.2L1372.8 697.6L1373.4 699.0L1373.9 700.4L1374.4 701.8L1375.0 703.2L1375.5 704.6L1376.1 706.0L1376.6 707.3L1377.2 708.7L1377.8 710.1L1378.3 711.5L1378.9 712.9L1379.4 714.3L1380.0 715.7L1380.5 717.1L1381.1 718.5L1381.7 719.9L1382.2 721.3L1382.8 722.7L1383.3 724.1L1383.9 725.5L1384.5 726.8L1385.1 728.2L1385.7 729.6L1386.2 731.0L1386.8 732.4L1387.4 733.7L1388.1 735.1L1388.7 736.5L1389.3 737.8L1389.9 739.2L1390.6 740.5L1391.2 741.9L1391.9 743.2L1392.5 744.6L1393.2 745.9L1393.9 747.3L1394.6 748.6L1395.3 749.9L1396.0 751.2L1396.7 752.5L1397.4 753.9L1398.2 755.3L1398.9 756.5L1399.7 757.7L1400.5 759.0L1401.2 760.0L1402.0 761.2L1402.9 762.8L1403.7 763.7L1404.5 765.2L1405.4 766.3L1406.2 767.7L1407.1 769.0L1408.0 770.3L1408.9 771.7L1409.9 772.2L1410.8 773.9L1411.8 775.8L1412.7 776.5L1413.7 777.1L1414.7 778.2L1415.7 779.0L1416.7 780.7L1417.8 781.7L1418.9 782.5L1419.9 783.3L1421.0 784.1L1422.1 784.8L1423.3 787.0L1424.4 788.2L1425.5 789.3L1426.7 790.1L1427.9 790.2L1429.0 791.1L1430.2 792.0L1431.4 793.2L1432.6 794.0L1433.8 794.8L1435.1 794.9L1436.3 795.6L1437.5 798.6L1438.8 798.9L1440.1 798.2L1441.4 799.8L1442.7 802.1L1444.0 801.1L1445.3 801.3L1446.7 802.3L1448.0 801.8L1449.4 803.8L1450.8 805.1L1452.1 805.4L1453.5 805.4L1454.9 806.4L1456.4 806.8L1457.8 807.1L1459.2 807.0L1460.7 806.8L1462.1 809.2L1463.5 809.5L1465.0 809.5L1466.4 810.0L1467.9 809.8L1469.4 809.9L1470.8 811.0L1472.3 811.2L1473.8 811.1L1475.3 811.6L1476.7 812.8L1478.2 813.3L1479.7 813.0L1481.2 812.3L1482.7 811.3L1484.2 812.9L1485.7 814.2L1487.2 813.4L1488.7 813.4L1490.2 814.0L1491.7 814.2L1493.2 814.3L1494.7 813.3L1496.2 814.1L1497.7 813.0L1499.2 813.2L1500.7 814.0L1502.2 814.1L1503.7 815.1L1505.2 815.3L1506.7 813.1L1508.2 811.3L1509.7 813.0L1511.2 812.8L1512.7 812.6L1514.2 813.8L1515.7 812.3L1517.2 810.6L1518.7 812.1L1520.2 813.2L1521.7 812.7L1523.2 812.7L1524.7 812.1L1526.2 811.0L1527.7 811.6L1529.2 811.5L1530.7 810.5L1532.2 811.7L1533.7 812.2L1535.2 812.1L1536.7 811.2L1538.1 810.6L1539.6 810.3L1541.1 810.1L1542.6 810.9L1544.1 810.5L1545.6 810.8L1547.1 811.2L1548.6 812.4L1550.1 810.4L1551.6 810.3L1553.1 810.5L1554.6 809.9L1556.1 808.7L1557.6 808.6L1559.0 809.9L1560.5 809.7L1562.0 809.2L1563.5 808.9L1565.0 809.7L1566.5 809.3L1568.0 806.9L1569.5 806.8L1571.0 806.4L1572.5 804.6L1574.0 805.9L1575.5 808.6L1577.0 808.4L1578.4 806.7L1579.9 806.1L1581.4 807.7L1582.9 807.8L1584.4 807.1L1585.9 806.8L1587.4 806.6L1588.9 807.1L1590.4 807.2L1591.9 806.6L1593.4 805.3L1594.9 805.6L1596.4 805.3L1597.8 805.9L1599.3 804.8L1600.8 804.3L1602.3 804.8L1603.8 803.7L1605.3 805.2L1606.8 806.5L1608.3 804.7L1609.8 804.6L1611.3 804.9L1612.8 802.3L1614.3 802.9L1615.8 804.1L1617.3 804.1L1618.8 803.3L1620.3 803.3L1621.8 803.8L1623.3 804.9L1624.8 805.0L1626.3 804.3L1627.8 805.4L1629.3 804.6L1630.8 803.7L1632.3 802.7L1633.8 804.6L1635.3 806.0L1636.8 805.7L1638.3 805.5L1639.8 805.0L1641.3 804.9L1642.8 804.7L1644.2 804.6L1645.7 804.9L1647.2 806.3L1648.7 806.5L1650.2 805.7L1651.7 805.1L1653.2 804.9L1654.7 806.8L1656.2 807.3L1657.7 806.6L1659.2 806.2L1660.7 805.6L1662.1 806.2L1663.6 807.7L1665.1 807.4L1666.6 807.1L1668.1 807.4L1669.6 807.9L1671.1 806.9L1672.5 807.3L1674.0 807.8L1675.5 809.1L1677.0 808.9L1678.5 809.3L1680.0 811.0L1681.4 810.3L1682.9 809.3L1684.4 810.0L1685.9 810.4L1687.4 809.7L1688.9 810.5L1690.4 812.6L1691.9 811.8L1693.3 810.8L1694.8 810.3L1696.3 811.1L1697.8 810.7L1699.3 810.1L1700.8 812.1L1702.3 811.7L1703.8 812.3L1705.3 813.7L1706.8 813.1L1708.3 812.7L1709.8 814.1L1711.3 813.2L1712.8 811.9L1714.3 811.2L1715.8 812.0L1717.3 814.0L1718.8 814.4L1720.3 812.8L1721.8 812.0L1723.3 812.4L1724.8 813.3L1726.3 813.4L1727.8 813.6L1729.3 814.0L1730.8 813.6L1732.3 813.6L1733.8 814.0L1735.3 813.9L1736.8 814.3L1738.3 815.7L1739.8 815.4L1741.3 814.3L1742.8 812.7L1744.3 813.4L1745.8 812.7L1747.3 811.9L1748.8 813.9L1750.3 815.0L1751.8 814.3L1753.3 812.6L1754.8 812.8L1756.3 813.3L1757.8 814.1L1759.3 816.1L1760.8 815.3L1762.3 813.5L1763.8 812.6L1765.3 813.3L1766.7 813.7L1768.2 812.8L1769.7 813.2L1771.2 812.8L1772.7 813.8L1774.2 814.8L1775.7 814.7L1777.2 813.3L1778.7 813.1L1780.2 813.0L1781.7 812.3L1783.2 812.1L1784.7 811.2L1786.2 810.4L1787.7 811.9L1789.2 812.1L1790.7 811.7L1792.1 812.4L1793.6 810.5L1795.1 809.6L1796.6 810.6L1798.1 811.1L1799.6 810.4L1801.1 810.9L1802.5 810.7L1804.0 809.0L1805.5 808.2L1807.0 809.5L1808.5 809.9L1810.0 807.7L1811.4 808.8L1812.9 809.7L1814.4 809.7L1815.9 808.6L1817.4 807.5L1818.9 806.8L1820.4 809.0L1821.9 808.6L1823.4 808.4L1824.9 807.4L1826.3 806.7L1827.8 805.5L1829.3 805.4L1830.8 807.0L1832.3 805.7L1833.8 806.2L1835.3 806.6L1836.8 804.9L1838.2 804.4L1839.7 804.5L1841.2 804.6L1842.7 804.1L1844.2 803.4L1845.6 803.4L1847.1 802.9L1848.6 802.1L1850.1 802.7L1851.6 804.0L1853.1 802.5L1854.5 802.4L1856.0 802.7L1857.5 802.1L1859.0 803.4L1860.5 803.4L1862.0 804.3L1863.5 803.7L1865.0 803.6L1866.5 803.8L1868.0 803.2L1869.5 804.2L1871.0 804.4L1872.5 804.8L1874.0 804.8L1875.5 803.9L1877.0 804.3L1878.5 805.1L1879.9 806.1L1881.4 805.3L1882.9 805.2L1884.4 804.6L1885.9 805.9L1887.3 806.0L1888.8 804.8L1890.3 806.1L1891.8 808.2L1893.2 807.0L1894.7 806.3L1896.2 807.1L1897.7 807.2L1899.1 808.5L1900.6 808.6L1902.1 808.4L1903.6 809.7L1905.0 809.6L1906.5 810.1L1908.0 809.9L1909.5 809.3L1910.9 808.9L1912.4 811.8L1913.9 812.3L1915.4 811.9L1916.8 812.2L1918.3 812.5L1919.8 812.8L1921.3 814.4L1922.7 813.3L1924.2 811.6L1925.7 812.0L1927.2 812.3L1928.7 814.0L1930.1 815.4L1931.6 814.3L1933.1 813.2L1934.6 814.0L1936.1 816.1L1937.6 814.0L1939.0 814.6L1940.5 815.3L1942.0 816.3L1943.5 816.0L1945.0 815.7L1946.5 815.3L1948.0 815.3L1949.4 817.7L1950.9 818.7L1952.4 817.6L1953.9 816.8L1955.4 816.0L1956.9 816.9L1958.4 818.2L1959.8 818.6L1961.3 818.8L1962.8 818.3L1964.3 818.8L1965.8 819.6L1967.3 820.9L1968.7 822.2L1970.2 821.1L1971.7 819.8L1973.2 820.1L1974.7 820.2L1976.2 819.9L1977.7 820.5L1979.2 820.2L1980.7 821.0L1982.2 821.4L1983.7 821.3L1985.2 821.2L1986.7 820.6L1988.2 820.2L1989.7 820.7L1991.2 820.8L1992.7 821.3L1994.2 821.5L1995.7 820.4L1997.2 820.8L1998.7 820.4L2000.2 820.3L2001.7 820.9L2003.2 819.6L2004.7 820.3L2006.2 821.4L2007.7 821.1L2009.1 820.6L2010.6 820.3L2012.1 819.7L2013.6 819.8L2015.1 819.7L2016.6 819.8L2018.1 818.9L2019.6 819.1L2021.1 819.5L2022.5 818.9L2024.0 818.2L2025.5 818.5L2026.9 817.0L2028.4 817.2L2029.8 817.8L2031.3 817.3L2032.8 817.0L2034.2 815.9L2035.7 815.2L2037.1 815.6L2038.6 815.4L2040.0 814.7L2041.4 812.7L2042.8 812.8L2044.2 813.8L2045.6 813.4L2047.0 812.1L2048.3 809.7L2049.6 810.1L2051.0 809.9L2052.2 806.7L2053.5 807.1L2054.8 806.4L2056.0 804.8L2057.2 804.6L2058.4 805.3L2059.6 804.2L2060.8 802.9L2061.9 803.1L2063.1 802.6L2064.2 800.5L2065.3 798.7L2066.4 797.0L2067.5 795.9L2068.6 795.7L2069.7 794.9L2070.7 793.7L2071.7 792.9L2072.7 791.3L2073.7 790.0L2074.7 789.3L2075.7 788.3L2076.6 787.3L2077.6 786.0L2078.5 784.4L2079.4 783.3L2080.3 781.8L2081.2 780.2L2082.1 779.5L2082.9 778.4L2083.8 777.2L2084.7 775.5L2085.5 774.3L2086.3 773.2L2087.2 771.9L2088.0 770.3L2088.8 769.3L2089.6 768.4L2090.4 767.2L2091.1 765.7L2091.9 764.4L2092.7 763.2L2093.4 761.7L2094.1 760.4L2094.9 759.3L2095.6 758.0L2096.3 756.7L2097.0 755.4L2097.7 754.0L2098.4 752.6L2099.1 751.3L2099.8 749.9L2100.4 748.6L2101.1 747.3L2101.8 745.9L2102.4 744.6L2103.1 743.2L2103.7 741.8L2104.3 740.5L2105.0 739.1L2105.6 737.8L2106.2 736.4L2106.8 735.0L2107.4 733.6L2108.0 732.3L2108.6 730.9L2109.2 729.5L2109.8 728.1L2110.4 726.7L2110.9 725.4L2111.5 724.0L2112.1 722.6L2112.7 721.2L2113.2 719.8L2113.8 718.4L2114.4 717.0L2114.9 715.6L2115.5 714.3L2116.1 712.9L2116.6 711.5L2117.2 710.1L2117.8 708.7L2118.3 707.3L2118.9 705.9L2119.4 704.5L2120.0 703.1L2120.5 701.7L2121.1 700.3L2121.6 698.9L2122.1 697.5L2122.7 696.1L2123.2 694.7L2123.7 693.3L2124.2 691.9L2124.7 690.5L2125.2 689.1L2125.7 687.6L2126.2 686.2L2126.7 684.8L2127.2 683.4L2127.6 682.0L2128.1 680.5L2128.6 679.1L2129.0 677.7L2129.5 676.3L2129.9 674.8L2130.4 673.4L2130.8 672.0L2131.3 670.5L2131.7 669.1L2132.1 667.7L2132.6 666.2L2133.0 664.8L2133.4 663.3L2133.8 661.9L2134.2 660.5L2134.6 659.0L2135.0 657.6L2135.5 656.1L2135.9 654.7L2136.3 653.2L2136.7 651.8L2137.1 650.3L2137.4 648.9L2137.8 647.4L2138.2 646.0L2138.6 644.5L2139.0 643.1L2139.4 641.6L2139.8 640.2L2140.1 638.7L2140.5 637.3L2140.9 635.8L2141.3 634.4L2141.6 632.9L2142.0 631.5L2142.4 630.0L2142.7 628.6L2143.1 627.1L2143.5 625.7L2143.8 624.2L2144.2 622.7L2144.5 621.3L2144.9 619.8L2145.2 618.4L2145.6 616.9L2145.9 615.5L2146.3 614.0L2146.6 612.5L2147.0 611.1L2147.3 609.6L2147.7 608.1L2148.0 606.7L2148.3 605.2L2148.7 603.8L2149.0 602.3L2149.3 600.8L2149.7 599.4L2150.0 597.9L2150.3 596.4L2150.6 595.0L2151.0 593.5L2151.3 592.0L2151.6 590.6L2151.9 589.1L2152.2 587.6L2152.5 586.2L2152.8 584.7L2153.2 583.2L2153.5 581.8L2153.8 580.3L2154.1 578.8L2154.4 577.4L2154.7 575.9L2154.9 574.4L2155.2 573.0L2155.5 571.5L2155.8 570.0L2156.1 568.5L2156.4 567.1L2156.7 565.6L2157.0 564.1L2157.2 562.7L2157.5 561.2L2157.8 559.7L2158.1 558.2L2158.4 556.8L2158.7 555.3L2159.0 553.8L2159.2 552.3L2159.5 550.9L2159.8 549.4L2160.1 547.9L2160.4 546.5L2160.7 545.0L2161.0 543.5L2161.3 542.0L2161.6 540.6L2161.9 539.1L2162.2 537.6L2162.5 536.2L2162.8 534.7L2163.1 533.2L2163.4 531.7L2163.7 530.3L2164.0 528.8L2164.3 527.3L2164.6 525.9L2164.9 524.4L2165.2 522.9L2165.5 521.5L2165.8 520.0L2166.1 518.5L2166.4 517.1L2166.7 515.7L2167.0 514.3L2167.3 513.0L2167.5 511.8L2167.7 510.7L2167.9 509.9L2168.0 508.9"/>
<path stroke="#e80408" d="M1343.5 367.8L1343.6 368.6L1343.8 369.6L1343.9 370.8L1344.1 372.1L1344.3 373.5L1344.5 375.0L1344.7 376.4L1344.9 377.9L1345.1 379.4L1345.3 380.9L1345.6 382.3L1345.8 383.8L1346.0 385.3L1346.2 386.8L1346.4 388.3L1346.7 389.8L1346.9 391.2L1347.1 392.7L1347.4 394.2L1347.6 395.7L1347.8 397.2L1348.1 398.7L1348.3 400.1L1348.6 401.6L1348.8 403.1L1349.1 404.6L1349.3 406.0L1349.6 407.5L1349.8 409.0L1350.1 410.5L1350.3 412.0L1350.6 413.4L1350.8 414.9L1351.1 416.4L1351.3 417.9L1351.5 419.4L1351.8 420.8L1352.0 422.3L1352.2 423.8L1352.5 425.3L1352.7 426.8L1352.9 428.3L1353.2 429.7L1353.4 431.2L1353.6 432.7L1353.9 434.2L1354.1 435.7L1354.4 437.1L1354.6 438.6L1354.9 440.1L1355.1 441.6L1355.4 443.1L1355.7 444.5L1355.9 446.0L1356.2 447.5L1356.5 448.9L1356.8 450.4L1357.1 451.9L1357.4 453.4L1357.7 454.8L1358.0 456.3L1358.3 457.8L1358.6 459.2L1358.9 460.7L1359.2 462.2L1359.5 463.6L1359.8 465.1L1360.1 466.6L1360.4 468.0L1360.7 469.5L1361.0 471.0L1361.3 472.5L1361.6 473.9L1361.9 475.4L1362.2 476.9L1362.4 478.4L1362.7 479.8L1363.0 481.3L1363.2 482.8L1363.5 484.3L1363.7 485.7L1364.0 487.2L1364.2 488.7L1364.4 490.2L1364.7 491.7L1364.9 493.2L1365.1 494.7L1365.3 496.1L1365.6 497.6L1365.8 499.1L1366.0 500.6L1366.2 502.1L1366.5 503.6L1366.7 505.0L1366.9 506.5L1367.1 508.0L1367.4 509.5L1367.6 511.0L1367.8 512.5L1368.1 513.9L1368.3 515.4L1368.6 516.9L1368.8 518.4L1369.1 519.9L1369.3 521.3L1369.6 522.8L1369.9 524.3L1370.2 525.7L1370.5 527.2L1370.8 528.7L1371.1 530.1L1371.4 531.6L1371.7 533.1L1372.1 534.5L1372.4 536.0L1372.8 537.4L1373.2 538.9L1373.6 540.3L1373.9 541.8L1374.3 543.2L1374.7 544.7L1375.2 546.1L1375.6 547.5L1376.0 549.0L1376.4 550.4L1376.8 551.9L1377.2 553.3L1377.7 554.8L1378.1 556.2L1378.5 557.6L1378.9 559.1L1379.3 560.5L1379.7 562.0L1380.1 563.4L1380.5 564.9L1380.9 566.3L1381.2 567.8L1381.6 569.2L1382.0 570.7L1382.4 572.1L1382.8 573.6L1383.1 575.0L1383.5 576.5L1383.9 578.0L1384.3 579.4L1384.6 580.9L1385.0 582.3L1385.4 583.8L1385.8 585.2L1386.2 586.7L1386.6 588.1L1387.0 589.6L1387.3 591.0L1387.7 592.4L1388.2 593.9L1388.6 595.3L1389.0 596.8L1389.4 598.2L1389.8 599.7L1390.2 601.1L1390.7 602.5L1391.1 604.0L1391.5 605.4L1392.0 606.8L1392.4 608.3L1392.9 609.7L1393.3 611.1L1393.8 612.6L1394.2 614.0L1394.7 615.4L1395.2 616.8L1395.6 618.3L1396.1 619.7L1396.6 621.1L1397.1 622.5L1397.6 624.0L1398.0 625.4L1398.5 626.8L1399.0 628.2L1399.5 629.6L1400.0 631.0L1400.5 632.4L1401.1 633.9L1401.6 635.3L1402.1 636.7L1402.6 638.1L1403.1 639.5L1403.7 640.9L1404.2 642.3L1404.8 643.7L1405.3 645.1L1405.9 646.5L1406.4 647.9L1407.0 649.3L1407.5 650.7L1408.1 652.0L1408.7 653.4L1409.3 654.8L1409.9 656.2L1410.5 657.6L1411.1 658.9L1411.7 660.3L1412.3 661.7L1412.9 663.0L1413.6 664.4L1414.2 665.8L1414.8 667.1L1415.5 668.4L1416.2 669.8L1416.8 671.1L1417.5 672.5L1418.2 673.9L1418.9 675.1L1419.6 676.4L1420.4 677.8L1421.1 679.1L1421.8 680.4L1422.6 681.7L1423.3 682.8L1424.1 684.1L1424.9 685.3L1425.6 686.7L1426.4 688.1L1427.2 689.2L1428.0 690.6L1428.8 692.0L1429.6 693.0L1430.5 693.9L1431.3 695.2L1432.2 696.3L1433.0 697.6L1433.9 699.7L1434.8 700.6L1435.7 701.8L1436.6 702.7L1437.6 703.9L1438.5 705.3L1439.5 706.3L1440.5 707.8L1441.5 709.7L1442.5 710.5L1443.6 711.0L1444.7 711.5L1445.8 713.0L1446.9 714.2L1448.0 715.5L1449.2 716.4L1450.3 718.2L1451.5 717.4L1452.7 717.7L1454.0 720.2L1455.2 720.6L1456.5 720.3L1457.8 721.2L1459.1 721.2L1460.4 722.4L1461.8 725.5L1463.2 726.3L1464.6 724.3L1466.0 723.8L1467.5 724.7L1468.9 726.5L1470.4 726.2L1471.9 725.8L1473.4 727.4L1474.8 728.5L1476.3 727.9L1477.8 726.9L1479.3 726.5L1480.7 727.2L1482.2 726.7L1483.7 728.5L1485.2 729.2L1486.7 729.6L1488.1 731.4L1489.6 731.8L1491.1 729.8L1492.6 730.4L1494.1 731.8L1495.6 730.6L1497.1 729.6L1498.6 730.3L1500.1 729.6L1501.6 731.4L1503.1 730.0L1504.6 729.1L1506.1 730.4L1507.6 731.0L1509.1 731.3L1510.6 731.7L1512.1 731.4L1513.6 732.2L1515.1 730.4L1516.6 730.4L1518.1 731.0L1519.6 731.3L1521.1 731.8L1522.6 731.0L1524.1 730.6L1525.6 731.8L1527.1 732.2L1528.6 731.2L1530.1 732.7L1531.6 734.3L1533.1 731.4L1534.6 730.7L1536.1 733.2L1537.6 732.9L1539.1 731.4L1540.6 730.7L1542.0 730.1L1543.5 730.0L1545.0 729.7L1546.5 730.4L1548.0 730.0L1549.5 729.3L1551.0 728.5L1552.5 728.8L1554.0 728.6L1555.5 728.6L1557.0 729.7L1558.5 729.7L1560.0 729.3L1561.4 729.1L1562.9 728.6L1564.4 728.1L1565.9 727.7L1567.4 728.2L1568.9 727.1L1570.4 727.9L1571.9 727.9L1573.4 726.4L1574.8 726.0L1576.3 725.8L1577.8 726.2L1579.3 725.7L1580.8 726.5L1582.3 725.8L1583.8 723.4L1585.2 723.6L1586.7 723.2L1588.2 723.8L1589.7 725.5L1591.2 725.5L1592.7 723.5L1594.1 722.7L1595.6 724.8L1597.1 724.7L1598.6 723.5L1600.1 723.9L1601.6 725.3L1603.0 724.9L1604.5 723.1L1606.0 722.4L1607.5 722.5L1609.0 721.4L1610.4 720.1L1611.9 720.5L1613.4 720.0L1614.9 719.9L1616.4 720.3L1617.9 721.9L1619.3 720.4L1620.8 719.1L1622.3 719.3L1623.8 719.7L1625.3 720.4L1626.8 719.5L1628.3 718.4L1629.8 717.6L1631.3 717.8L1632.8 719.3L1634.3 719.7L1635.8 718.7L1637.3 718.7L1638.8 719.5L1640.3 720.1L1641.8 719.6L1643.3 719.4L1644.8 718.4L1646.3 718.2L1647.8 720.8L1649.3 719.4L1650.8 719.0L1652.2 720.5L1653.7 720.4L1655.2 719.9L1656.7 720.4L1658.2 720.9L1659.7 721.0L1661.2 719.8L1662.7 720.3L1664.2 720.8L1665.7 720.8L1667.2 721.8L1668.7 722.7L1670.2 723.2L1671.7 722.5L1673.1 723.0L1674.6 724.1L1676.1 724.4L1677.6 724.8L1679.1 723.9L1680.6 723.3L1682.1 724.3L1683.6 723.3L1685.0 723.6L1686.5 724.1L1688.0 724.1L1689.5 723.3L1691.0 723.5L1692.4 724.8L1693.9 726.2L1695.4 727.0L1696.9 726.4L1698.4 726.0L1699.9 725.7L1701.4 726.5L1702.8 726.9L1704.3 727.4L1705.8 729.0L1707.3 728.4L1708.8 726.5L1710.3 726.4L1711.8 726.5L1713.3 726.6L1714.7 728.9L1716.2 729.5L1717.7 727.8L1719.2 728.7L1720.7 730.5L1722.2 729.7L1723.7 728.7L1725.2 728.9L1726.7 729.6L1728.2 730.3L1729.7 731.0L1731.2 731.4L1732.7 731.5L1734.2 731.7L1735.7 731.3L1737.2 729.2L1738.7 729.2L1740.2 730.4L1741.7 730.1L1743.2 730.8L1744.7 730.5L1746.2 729.4L1747.7 731.0L1749.2 731.6L1750.7 730.9L1752.2 731.2L1753.7 731.6L1755.2 731.1L1756.7 728.4L1758.2 728.3L1759.7 729.3L1761.1 728.9L1762.6 729.4L1764.1 730.7L1765.6 729.8L1767.1 728.2L1768.6 730.2L1770.1 729.8L1771.6 727.7L1773.1 728.3L1774.6 729.0L1776.1 728.1L1777.6 728.5L1779.1 728.1L1780.5 726.9L1782.0 727.3L1783.5 728.1L1785.0 727.1L1786.5 726.9L1787.9 726.8L1789.4 728.6L1790.9 727.1L1792.4 726.6L1793.9 726.3L1795.3 725.3L1796.8 725.6L1798.3 726.0L1799.8 726.1L1801.3 725.3L1802.7 723.8L1804.2 723.1L1805.7 723.7L1807.2 724.1L1808.7 724.5L1810.1 723.9L1811.6 723.6L1813.1 724.1L1814.6 723.0L1816.1 720.8L1817.5 719.9L1819.0 719.6L1820.5 721.7L1822.0 721.1L1823.5 721.3L1825.0 721.7L1826.4 722.0L1827.9 721.9L1829.4 720.5L1830.9 719.7L1832.4 719.7L1833.9 719.8L1835.4 719.1L1836.9 719.0L1838.4 720.4L1839.9 718.5L1841.4 718.2L1842.9 718.3L1844.4 718.4L1845.9 719.4L1847.4 719.0L1848.9 719.2L1850.4 717.8L1851.9 718.7L1853.4 718.8L1854.8 718.9L1856.3 719.3L1857.8 717.0L1859.3 717.2L1860.8 719.0L1862.3 720.7L1863.8 720.6L1865.3 720.1L1866.8 719.0L1868.3 720.6L1869.8 722.6L1871.3 721.6L1872.7 720.7L1874.2 719.7L1875.7 721.2L1877.2 724.2L1878.7 723.8L1880.1 723.4L1881.6 723.4L1883.1 722.1L1884.6 723.4L1886.0 722.9L1887.5 722.6L1889.0 723.8L1890.5 724.9L1891.9 725.1L1893.4 725.1L1894.9 724.5L1896.3 723.8L1897.8 724.9L1899.3 725.3L1900.7 724.8L1902.2 724.8L1903.7 725.7L1905.2 725.4L1906.6 725.4L1908.1 725.7L1909.6 727.3L1911.0 728.7L1912.5 730.3L1914.0 728.7L1915.4 727.9L1916.9 729.8L1918.4 730.1L1919.9 729.7L1921.3 731.5L1922.8 731.3L1924.3 729.9L1925.7 729.6L1927.2 731.1L1928.7 732.2L1930.2 731.2L1931.6 730.9L1933.1 732.6L1934.6 733.7L1936.1 733.0L1937.5 733.7L1939.0 734.6L1940.5 733.0L1942.0 733.2L1943.4 734.8L1944.9 734.6L1946.4 733.2L1947.9 734.0L1949.4 736.0L1950.8 737.4L1952.3 735.1L1953.8 737.1L1955.3 736.9L1956.8 736.8L1958.3 738.3L1959.8 738.5L1961.2 737.9L1962.7 736.6L1964.2 737.5L1965.7 737.5L1967.2 735.6L1968.7 739.0L1970.2 740.2L1971.7 740.1L1973.2 738.6L1974.7 739.1L1976.2 740.5L1977.7 740.6L1979.2 739.4L1980.7 737.6L1982.2 737.8L1983.7 736.8L1985.2 736.1L1986.7 737.8L1988.2 737.9L1989.7 738.0L1991.2 738.4L1992.7 740.0L1994.2 740.6L1995.7 739.2L1997.2 739.5L1998.7 738.6L2000.2 737.9L2001.7 739.1L2003.2 738.0L2004.7 737.5L2006.2 737.1L2007.7 737.6L2009.2 739.3L2010.7 738.1L2012.2 737.4L2013.6 736.7L2015.1 735.7L2016.6 735.2L2018.1 736.9L2019.6 738.7L2021.0 737.3L2022.5 735.0L2023.9 735.1L2025.4 734.7L2026.8 734.6L2028.2 734.3L2029.6 733.6L2031.0 733.3L2032.4 732.0L2033.8 731.0L2035.2 729.4L2036.6 729.1L2038.0 728.3L2039.3 728.1L2040.7 727.4L2042.0 727.1L2043.2 727.1L2044.5 725.1L2045.7 723.9L2046.9 723.2L2048.0 723.4L2049.2 723.7L2050.3 722.5L2051.4 720.6L2052.5 720.0L2053.5 718.1L2054.5 717.5L2055.6 716.3L2056.6 713.7L2057.5 714.1L2058.5 713.8L2059.4 711.4L2060.3 710.0L2061.2 708.9L2062.1 707.7L2063.0 706.1L2063.8 704.9L2064.7 704.0L2065.5 702.8L2066.2 701.7L2067.0 700.3L2067.8 699.2L2068.5 697.7L2069.3 696.3L2070.0 694.9L2070.7 693.6L2071.4 692.4L2072.1 691.0L2072.8 689.6L2073.4 688.3L2074.1 686.9L2074.7 685.6L2075.4 684.2L2076.0 682.8L2076.6 681.4L2077.2 680.0L2077.8 678.7L2078.4 677.3L2078.9 675.9L2079.5 674.5L2080.1 673.1L2080.6 671.7L2081.1 670.3L2081.7 668.9L2082.2 667.5L2082.7 666.1L2083.2 664.7L2083.7 663.3L2084.2 661.9L2084.7 660.5L2085.1 659.0L2085.6 657.6L2086.1 656.2L2086.5 654.7L2087.0 653.3L2087.4 651.9L2087.9 650.4L2088.3 649.0L2088.8 647.6L2089.2 646.1L2089.7 644.7L2090.1 643.3L2090.5 641.8L2091.0 640.4L2091.4 638.9L2091.8 637.5L2092.3 636.1L2092.7 634.6L2093.1 633.2L2093.5 631.7L2094.0 630.3L2094.4 628.9L2094.8 627.4L2095.2 626.0L2095.6 624.5L2096.0 623.1L2096.4 621.7L2096.8 620.2L2097.2 618.8L2097.6 617.3L2098.0 615.9L2098.4 614.4L2098.8 613.0L2099.2 611.5L2099.6 610.1L2100.0 608.6L2100.4 607.2L2100.8 605.7L2101.1 604.3L2101.5 602.8L2101.9 601.4L2102.3 599.9L2102.7 598.5L2103.1 597.0L2103.5 595.6L2104.0 594.2L2104.4 592.7L2104.8 591.3L2105.2 589.8L2105.6 588.4L2106.0 586.9L2106.4 585.5L2106.8 584.0L2107.2 582.6L2107.6 581.2L2108.0 579.7L2108.4 578.3L2108.8 576.8L2109.2 575.4L2109.6 573.9L2110.0 572.5L2110.5 571.0L2110.9 569.6L2111.3 568.2L2111.7 566.7L2112.1 565.3L2112.6 563.8L2113.0 562.4L2113.4 561.0L2113.8 559.5L2114.3 558.1L2114.7 556.7L2115.2 555.2L2115.7 553.8L2116.1 552.4L2116.6 551.0L2117.1 549.6L2117.6 548.1L2118.1 546.7L2118.6 545.3L2119.2 543.9L2119.7 542.5L2120.3 541.1L2120.8 539.7L2121.4 538.3L2121.9 536.9L2122.4 535.5L2122.9 534.1L2123.4 532.7L2123.9 531.3L2124.4 529.9L2124.8 528.4L2125.2 527.0L2125.6 525.6L2126.1 524.1L2126.5 522.7L2126.9 521.3L2127.2 519.8L2127.6 518.4L2128.0 516.9L2128.4 515.5L2128.7 514.0L2129.1 512.5L2129.4 511.1L2129.8 509.6L2130.1 508.2L2130.5 506.7L2130.8 505.2L2131.2 503.8L2131.5 502.3L2131.8 500.8L2132.1 499.4L2132.5 497.9L2132.8 496.4L2133.1 495.0L2133.4 493.5L2133.7 492.0L2134.0 490.5L2134.3 489.1L2134.6 487.6L2134.9 486.1L2135.2 484.7L2135.5 483.2L2135.8 481.7L2136.1 480.2L2136.4 478.8L2136.7 477.3L2137.0 475.8L2137.3 474.4L2137.5 472.9L2137.8 471.4L2138.1 469.9L2138.4 468.5L2138.7 467.0L2138.9 465.5L2139.2 464.0L2139.5 462.6L2139.8 461.1L2140.0 459.6L2140.3 458.1L2140.6 456.7L2140.8 455.2L2141.1 453.7L2141.4 452.2L2141.6 450.8L2141.9 449.3L2142.1 447.8L2142.4 446.3L2142.7 444.8L2142.9 443.4L2143.2 441.9L2143.4 440.4L2143.7 438.9L2143.9 437.4L2144.1 436.0L2144.4 434.5L2144.6 433.0L2144.9 431.5L2145.1 430.0L2145.3 428.6L2145.6 427.1L2145.8 425.6L2146.0 424.1L2146.3 422.6L2146.5 421.1L2146.7 419.7L2147.0 418.2L2147.2 416.7L2147.4 415.2L2147.6 413.7L2147.8 412.2L2148.1 410.8L2148.3 409.3L2148.5 407.8L2148.7 406.3L2148.9 404.8L2149.1 403.3L2149.3 401.8L2149.5 400.4L2149.7 398.9L2149.9 397.4L2150.1 395.9L2150.3 394.4L2150.5 392.9L2150.7 391.4L2150.9 390.0L2151.1 388.5L2151.2 387.0L2151.4 385.5L2151.6 384.0L2151.8 382.5L2152.0 381.0L2152.1 379.5L2152.3 378.0L2152.5 376.6L2152.6 375.1L2152.8 373.6L2153.0 372.1L2153.2 370.6L2153.3 369.1L2153.5 367.6L2153.7 366.1L2153.8 364.6L2154.0 363.1L2154.1 361.6L2154.3 360.2L2154.5 358.7L2154.6 357.2L2154.8 355.7L2155.0 354.2L2155.1 352.7L2155.3 351.2L2155.4 349.7L2155.6 348.2L2155.8 346.7L2155.9 345.2L2156.1 343.7L2156.3 342.2L2156.4 340.8L2156.6 339.3L2156.8 337.8L2156.9 336.3L2157.1 334.8L2157.3 333.3L2157.4 331.8L2157.6 330.3L2157.8 328.8L2158.0 327.3L2158.1 325.9L2158.3 324.4L2158.5 322.9L2158.7 321.4L2158.9 319.9L2159.1 318.4L2159.3 316.9L2159.4 315.4L2159.6 313.9L2159.8 312.5L2160.0 311.0L2160.3 309.5L2160.5 308.0L2160.7 306.5L2160.9 305.0L2161.1 303.5L2161.3 302.1L2161.5 300.6L2161.7 299.1L2161.9 297.6L2162.2 296.1L2162.4 294.6L2162.6 293.2L2162.8 291.7L2163.0 290.2L2163.2 288.7L2163.3 287.2L2163.5 285.7L2163.7 284.2L2163.9 282.7L2164.1 281.3L2164.3 279.8L2164.5 278.3L2164.6 276.8L2164.8 275.3L2165.0 273.8L2165.2 272.3L2165.3 270.8L2165.5 269.3L2165.7 267.8L2165.8 266.4L2166.0 264.9L2166.1 263.4L2166.3 261.9L2166.5 260.4L2166.6 258.9L2166.8 257.4L2166.9 255.9L2167.1 254.4L2167.2 252.9L2167.3 251.4L2167.5 250.0L2167.6 248.5L2167.7 247.1L2167.9 245.8L2168.0 244.6L2168.1 243.6L2168.1 242.8"/>
<path stroke="#fb5454" d="M1354.3 89.8L1354.4 90.6L1354.4 91.7L1354.5 92.9L1354.6 94.2L1354.7 95.6L1354.8 97.0L1354.9 98.5L1355.0 100.0L1355.1 101.5L1355.2 103.0L1355.3 104.5L1355.4 106.0L1355.5 107.5L1355.6 109.0L1355.7 110.5L1355.8 111.9L1355.9 113.4L1356.0 114.9L1356.1 116.4L1356.2 117.9L1356.3 119.4L1356.4 120.9L1356.5 122.4L1356.6 123.9L1356.7 125.4L1356.8 126.9L1356.9 128.4L1357.0 129.9L1357.1 131.4L1357.2 132.9L1357.3 134.4L1357.4 135.9L1357.6 137.4L1357.7 138.9L1357.8 140.4L1357.9 141.9L1358.0 143.4L1358.1 144.9L1358.2 146.4L1358.3 147.9L1358.5 149.4L1358.6 150.8L1358.7 152.3L1358.8 153.8L1358.9 155.3L1359.1 156.8L1359.2 158.3L1359.3 159.8L1359.4 161.3L1359.6 162.8L1359.7 164.3L1359.8 165.8L1360.0 167.3L1360.1 168.8L1360.2 170.3L1360.4 171.8L1360.5 173.3L1360.6 174.8L1360.8 176.3L1360.9 177.7L1361.0 179.2L1361.2 180.7L1361.3 182.2L1361.5 183.7L1361.6 185.2L1361.7 186.7L1361.9 188.2L1362.0 189.7L1362.2 191.2L1362.3 192.7L1362.4 194.2L1362.6 195.7L1362.7 197.2L1362.9 198.7L1363.0 200.1L1363.2 201.6L1363.3 203.1L1363.4 204.6L1363.6 206.1L1363.7 207.6L1363.9 209.1L1364.0 210.6L1364.2 212.1L1364.3 213.6L1364.5 215.1L1364.6 216.6L1364.7 218.1L1364.9 219.6L1365.0 221.0L1365.2 222.5L1365.3 224.0L1365.5 225.5L1365.6 227.0L1365.8 228.5L1365.9 230.0L1366.1 231.5L1366.2 233.0L1366.4 234.5L1366.5 236.0L1366.7 237.5L1366.9 239.0L1367.0 240.5L1367.2 241.9L1367.3 243.4L1367.5 244.9L1367.6 246.4L1367.8 247.9L1367.9 249.4L1368.1 250.9L1368.2 252.4L1368.4 253.9L1368.6 255.4L1368.7 256.9L1368.9 258.4L1369.0 259.8L1369.2 261.3L1369.3 262.8L1369.5 264.3L1369.7 265.8L1369.8 267.3L1370.0 268.8L1370.1 270.3L1370.3 271.8L1370.5 273.3L1370.6 274.8L1370.8 276.3L1371.0 277.7L1371.1 279.2L1371.3 280.7L1371.5 282.2L1371.6 283.7L1371.8 285.2L1372.0 286.7L1372.2 288.2L1372.4 289.7L1372.6 291.1L1372.8 292.6L1372.9 294.1L1373.1 295.6L1373.3 297.1L1373.5 298.6L1373.8 300.1L1374.0 301.5L1374.2 303.0L1374.4 304.5L1374.6 306.0L1374.8 307.5L1375.0 309.0L1375.3 310.5L1375.5 311.9L1375.7 313.4L1375.9 314.9L1376.2 316.4L1376.4 317.9L1376.6 319.4L1376.8 320.8L1377.1 322.3L1377.3 323.8L1377.5 325.3L1377.8 326.8L1378.0 328.2L1378.2 329.7L1378.5 331.2L1378.7 332.7L1378.9 334.2L1379.2 335.7L1379.4 337.1L1379.6 338.6L1379.8 340.1L1380.1 341.6L1380.3 343.1L1380.5 344.6L1380.8 346.0L1381.0 347.5L1381.2 349.0L1381.5 350.5L1381.7 352.0L1381.9 353.4L1382.2 354.9L1382.4 356.4L1382.7 357.9L1382.9 359.4L1383.1 360.8L1383.4 362.3L1383.6 363.8L1383.8 365.3L1384.1 366.8L1384.3 368.3L1384.6 369.7L1384.8 371.2L1385.0 372.7L1385.3 374.2L1385.5 375.7L1385.8 377.1L1386.0 378.6L1386.3 380.1L1386.5 381.6L1386.7 383.1L1387.0 384.5L1387.2 386.0L1387.5 387.5L1387.7 389.0L1387.9 390.5L1388.2 391.9L1388.4 393.4L1388.7 394.9L1388.9 396.4L1389.1 397.9L1389.4 399.3L1389.6 400.8L1389.8 402.3L1390.1 403.8L1390.3 405.3L1390.5 406.8L1390.8 408.2L1391.0 409.7L1391.2 411.2L1391.5 412.7L1391.7 414.2L1391.9 415.7L1392.2 417.1L1392.4 418.6L1392.6 420.1L1392.8 421.6L1393.1 423.1L1393.3 424.6L1393.5 426.0L1393.7 427.5L1394.0 429.0L1394.2 430.5L1394.4 432.0L1394.6 433.4L1394.9 434.9L1395.1 436.4L1395.3 437.9L1395.6 439.4L1395.8 440.9L1396.0 442.3L1396.3 443.8L1396.5 445.3L1396.7 446.8L1397.0 448.3L1397.2 449.7L1397.5 451.2L1397.7 452.7L1398.0 454.2L1398.2 455.7L1398.5 457.1L1398.7 458.6L1399.0 460.1L1399.2 461.6L1399.5 463.1L1399.7 464.5L1400.0 466.0L1400.3 467.5L1400.5 469.0L1400.8 470.4L1401.1 471.9L1401.4 473.4L1401.6 474.9L1401.9 476.3L1402.2 477.8L1402.4 479.3L1402.7 480.8L1403.0 482.2L1403.3 483.7L1403.6 485.2L1403.8 486.7L1404.1 488.1L1404.4 489.6L1404.7 491.1L1405.0 492.6L1405.3 494.0L1405.6 495.5L1405.9 497.0L1406.2 498.4L1406.5 499.9L1406.8 501.4L1407.1 502.9L1407.4 504.3L1407.7 505.8L1408.1 507.3L1408.4 508.7L1408.7 510.2L1409.0 511.6L1409.4 513.1L1409.7 514.6L1410.0 516.0L1410.4 517.5L1410.7 518.9L1411.1 520.4L1411.4 521.9L1411.8 523.3L1412.2 524.8L1412.5 526.2L1412.9 527.7L1413.3 529.1L1413.7 530.6L1414.1 532.0L1414.5 533.5L1414.9 534.9L1415.3 536.3L1415.8 537.8L1416.2 539.2L1416.6 540.7L1417.1 542.1L1417.6 543.5L1418.0 544.9L1418.5 546.4L1419.0 547.8L1419.5 549.2L1420.0 550.6L1420.5 552.0L1421.0 553.4L1421.6 554.8L1422.1 556.2L1422.7 557.6L1423.3 559.0L1423.9 560.4L1424.5 561.8L1425.1 563.2L1425.7 564.5L1426.4 565.9L1427.0 567.2L1427.7 568.6L1428.4 569.9L1429.1 571.2L1429.8 572.6L1430.6 573.8L1431.4 574.9L1432.2 576.2L1433.0 577.6L1433.8 579.0L1434.7 580.2L1435.6 581.6L1436.5 582.5L1437.4 583.6L1438.3 584.3L1439.3 585.9L1440.2 587.4L1441.2 588.2L1442.2 589.8L1443.2 591.2L1444.2 590.7L1445.2 592.0L1446.2 593.2L1447.3 595.1L1448.3 597.7L1449.4 597.8L1450.5 598.1L1451.6 599.2L1452.7 600.5L1453.8 602.0L1454.9 603.5L1456.1 603.4L1457.2 605.0L1458.4 605.4L1459.6 606.0L1460.8 608.0L1462.0 609.0L1463.3 608.3L1464.5 608.4L1465.8 609.4L1467.1 610.5L1468.4 612.3L1469.8 611.6L1471.1 612.3L1472.5 613.9L1473.9 614.5L1475.3 614.9L1476.8 616.2L1478.2 616.4L1479.7 616.7L1481.1 617.1L1482.6 618.3L1484.0 616.5L1485.5 617.4L1487.0 618.2L1488.4 617.8L1489.9 617.5L1491.4 616.8L1492.8 617.8L1494.3 618.6L1495.8 619.6L1497.2 619.0L1498.7 620.5L1500.2 621.3L1501.7 620.5L1503.2 620.1L1504.7 620.0L1506.2 619.9L1507.7 620.4L1509.1 621.3L1510.6 621.6L1512.1 620.7L1513.6 621.1L1515.1 621.3L1516.6 621.9L1518.1 623.9L1519.6 623.9L1521.1 622.6L1522.6 621.2L1524.1 620.8L1525.6 620.8L1527.1 622.6L1528.6 622.8L1530.1 622.7L1531.6 622.7L1533.1 622.9L1534.6 624.3L1536.1 623.4L1537.6 622.6L1539.1 622.4L1540.6 623.5L1542.1 622.8L1543.6 621.7L1545.1 621.3L1546.6 621.1L1548.1 622.4L1549.6 624.9L1551.1 623.0L1552.6 622.5L1554.0 622.8L1555.5 621.2L1557.0 621.0L1558.5 621.2L1560.0 620.7L1561.5 622.3L1563.0 620.5L1564.5 620.0L1565.9 620.9L1567.4 620.0L1568.9 619.8L1570.4 620.5L1571.9 620.1L1573.3 619.6L1574.8 619.7L1576.3 617.4L1577.7 618.4L1579.2 620.6L1580.7 619.7L1582.2 618.7L1583.6 616.5L1585.1 615.9L1586.5 615.7L1588.0 615.2L1589.5 616.2L1590.9 615.3L1592.4 614.5L1593.8 613.1L1595.3 613.2L1596.7 613.9L1598.2 613.0L1599.6 612.2L1601.1 613.8L1602.5 612.4L1604.0 610.5L1605.5 610.4L1606.9 611.7L1608.4 613.1L1609.8 611.9L1611.3 609.8L1612.7 609.2L1614.2 610.2L1615.7 609.1L1617.2 609.6L1618.6 610.5L1620.1 609.2L1621.6 608.6L1623.1 608.7L1624.5 609.1L1626.0 607.3L1627.5 607.4L1629.0 607.1L1630.5 605.8L1632.0 606.1L1633.5 606.2L1635.0 605.3L1636.4 604.3L1637.9 604.5L1639.4 606.7L1640.9 608.3L1642.4 607.5L1643.9 607.3L1645.4 606.3L1646.9 605.8L1648.4 606.4L1649.9 605.6L1651.4 605.0L1652.9 606.0L1654.4 606.4L1655.9 605.7L1657.4 606.5L1658.9 606.9L1660.4 607.6L1661.9 607.6L1663.4 607.0L1664.9 607.2L1666.4 607.3L1667.9 606.9L1669.4 607.0L1670.9 608.1L1672.4 608.8L1673.9 609.4L1675.4 607.5L1676.9 607.1L1678.4 607.9L1679.8 608.5L1681.3 608.5L1682.8 608.3L1684.3 609.5L1685.8 609.8L1687.3 608.7L1688.8 610.1L1690.2 611.4L1691.7 610.2L1693.2 610.8L1694.7 610.5L1696.1 611.4L1697.6 611.7L1699.1 610.8L1700.6 611.1L1702.0 611.4L1703.5 612.2L1705.0 613.0L1706.4 613.2L1707.9 613.0L1709.4 610.6L1710.8 612.2L1712.3 612.9L1713.8 613.9L1715.3 616.0L1716.7 616.1L1718.2 615.5L1719.7 615.6L1721.1 616.1L1722.6 616.1L1724.1 616.2L1725.6 616.2L1727.0 618.0L1728.5 618.4L1730.0 618.8L1731.5 618.6L1732.9 618.4L1734.4 618.6L1735.9 619.1L1737.4 619.8L1738.9 619.7L1740.4 618.7L1741.9 618.2L1743.4 620.1L1744.9 619.9L1746.4 619.0L1747.9 620.4L1749.4 621.0L1750.9 620.4L1752.4 619.4L1753.9 621.1L1755.4 621.1L1756.9 620.2L1758.4 619.7L1759.9 618.4L1761.4 617.8L1762.9 619.2L1764.4 620.1L1765.9 619.6L1767.4 618.5L1768.9 617.8L1770.4 618.5L1771.9 618.2L1773.4 619.4L1774.9 620.8L1776.4 622.2L1777.9 621.5L1779.4 619.3L1780.9 618.3L1782.4 616.1L1783.9 617.0L1785.4 618.7L1786.9 619.7L1788.4 620.0L1789.9 619.7L1791.3 619.2L1792.8 619.3L1794.3 619.9L1795.8 618.2L1797.3 617.2L1798.8 616.6L1800.3 618.2L1801.8 619.3L1803.2 618.5L1804.7 616.4L1806.2 616.3L1807.7 616.5L1809.2 616.3L1810.7 616.1L1812.2 616.4L1813.7 615.9L1815.2 616.2L1816.7 616.3L1818.2 615.4L1819.7 615.2L1821.1 614.9L1822.6 615.6L1824.1 615.3L1825.6 615.1L1827.1 614.8L1828.6 613.5L1830.1 614.8L1831.6 614.4L1833.1 614.7L1834.6 615.4L1836.1 613.6L1837.6 613.1L1839.1 613.8L1840.6 613.8L1842.1 613.4L1843.6 614.8L1845.1 615.1L1846.6 615.2L1848.1 615.0L1849.6 615.3L1851.1 615.0L1852.6 615.2L1854.1 616.3L1855.6 616.3L1857.1 615.9L1858.6 615.3L1860.1 616.2L1861.5 617.3L1863.0 617.1L1864.5 616.7L1865.9 617.8L1867.4 620.3L1868.8 619.6L1870.2 619.0L1871.7 619.8L1873.1 618.0L1874.6 619.0L1876.0 620.3L1877.4 621.9L1878.8 622.2L1880.2 621.5L1881.7 622.1L1883.1 623.2L1884.5 623.4L1885.9 623.9L1887.3 623.7L1888.7 624.4L1890.1 626.3L1891.5 628.3L1892.9 628.5L1894.3 628.1L1895.7 629.1L1897.1 630.0L1898.5 631.0L1899.9 631.4L1901.3 630.7L1902.7 630.9L1904.1 631.5L1905.5 632.1L1906.9 632.6L1908.3 632.3L1909.7 631.3L1911.1 632.3L1912.5 632.5L1914.0 633.9L1915.4 635.4L1916.8 634.6L1918.2 636.1L1919.6 637.9L1921.0 637.9L1922.5 639.2L1923.9 640.6L1925.3 638.8L1926.8 639.4L1928.2 640.5L1929.6 640.6L1931.1 641.4L1932.5 640.8L1934.0 640.5L1935.4 640.8L1936.8 641.2L1938.3 642.1L1939.8 641.8L1941.2 641.8L1942.7 643.6L1944.1 644.3L1945.6 644.7L1947.1 643.4L1948.5 643.4L1950.0 644.4L1951.5 645.2L1952.9 645.2L1954.4 646.3L1955.9 646.5L1957.4 646.2L1958.9 646.4L1960.4 647.1L1961.9 646.6L1963.4 647.4L1964.9 647.8L1966.4 647.4L1967.9 647.2L1969.4 647.6L1970.9 648.3L1972.4 648.6L1973.9 648.2L1975.4 648.3L1976.9 648.0L1978.4 648.5L1979.9 648.0L1981.4 645.7L1982.9 647.3L1984.4 648.0L1985.9 646.3L1987.4 646.3L1988.9 646.2L1990.4 648.0L1991.9 648.2L1993.4 645.7L1994.9 646.1L1996.4 646.3L1997.9 647.5L1999.3 646.2L2000.8 643.5L2002.3 644.5L2003.8 645.2L2005.3 644.7L2006.8 643.1L2008.3 644.0L2009.8 646.0L2011.3 643.5L2012.8 643.7L2014.2 643.6L2015.7 644.7L2017.2 644.3L2018.6 642.4L2020.1 642.7L2021.5 642.4L2022.9 640.8L2024.3 640.7L2025.7 639.9L2027.0 637.8L2028.3 639.5L2029.7 639.0L2031.0 636.9L2032.3 636.7L2033.6 635.0L2034.9 633.4L2036.1 633.3L2037.4 632.8L2038.6 632.3L2039.8 632.3L2040.9 630.7L2042.1 629.6L2043.2 629.0L2044.3 627.1L2045.3 626.2L2046.3 625.0L2047.3 624.4L2048.3 623.5L2049.2 622.1L2050.1 620.5L2050.9 619.4L2051.8 618.3L2052.6 617.2L2053.4 616.0L2054.2 614.5L2055.0 613.4L2055.8 612.1L2056.5 610.7L2057.2 609.4L2058.0 608.0L2058.7 606.6L2059.4 605.3L2060.1 603.9L2060.7 602.6L2061.4 601.2L2062.1 599.9L2062.7 598.5L2063.4 597.2L2064.0 595.8L2064.6 594.4L2065.3 593.1L2065.9 591.7L2066.5 590.3L2067.0 589.0L2067.6 587.6L2068.2 586.2L2068.8 584.8L2069.3 583.4L2069.9 582.0L2070.4 580.6L2071.0 579.2L2071.5 577.8L2072.1 576.4L2072.6 575.0L2073.2 573.6L2073.7 572.2L2074.2 570.8L2074.8 569.4L2075.3 568.0L2075.8 566.6L2076.3 565.2L2076.9 563.8L2077.4 562.4L2077.9 560.9L2078.5 559.5L2079.0 558.1L2079.5 556.7L2080.0 555.3L2080.5 553.9L2081.0 552.5L2081.5 551.1L2082.0 549.6L2082.5 548.2L2082.9 546.8L2083.4 545.4L2083.9 543.9L2084.3 542.5L2084.8 541.1L2085.2 539.6L2085.6 538.2L2086.0 536.8L2086.4 535.3L2086.8 533.9L2087.2 532.5L2087.6 531.0L2088.0 529.6L2088.4 528.1L2088.7 526.7L2089.1 525.2L2089.5 523.7L2089.8 522.3L2090.2 520.8L2090.6 519.4L2090.9 517.9L2091.2 516.5L2091.6 515.0L2091.9 513.5L2092.3 512.1L2092.6 510.6L2092.9 509.1L2093.2 507.7L2093.5 506.2L2093.9 504.7L2094.2 503.2L2094.5 501.8L2094.8 500.3L2095.1 498.8L2095.4 497.4L2095.7 495.9L2096.0 494.4L2096.3 493.0L2096.5 491.5L2096.8 490.0L2097.1 488.5L2097.4 487.1L2097.7 485.6L2097.9 484.1L2098.2 482.6L2098.5 481.2L2098.7 479.7L2099.0 478.2L2099.2 476.7L2099.5 475.3L2099.7 473.8L2100.0 472.3L2100.2 470.8L2100.5 469.3L2100.7 467.9L2100.9 466.4L2101.2 464.9L2101.4 463.4L2101.6 461.9L2101.9 460.4L2102.1 459.0L2102.3 457.5L2102.5 456.0L2102.8 454.5L2103.0 453.0L2103.2 451.5L2103.4 450.1L2103.7 448.6L2103.9 447.1L2104.1 445.6L2104.3 444.1L2104.6 442.6L2104.8 441.2L2105.0 439.7L2105.2 438.2L2105.5 436.7L2105.7 435.2L2105.9 433.7L2106.2 432.3L2106.4 430.8L2106.6 429.3L2106.9 427.8L2107.1 426.3L2107.3 424.8L2107.6 423.4L2107.8 421.9L2108.0 420.4L2108.3 418.9L2108.5 417.4L2108.8 416.0L2109.0 414.5L2109.3 413.0L2109.5 411.5L2109.7 410.0L2110.0 408.6L2110.2 407.1L2110.5 405.6L2110.7 404.1L2110.9 402.6L2111.2 401.2L2111.4 399.7L2111.7 398.2L2111.9 396.7L2112.1 395.2L2112.4 393.8L2112.6 392.3L2112.9 390.8L2113.1 389.3L2113.3 387.8L2113.6 386.3L2113.8 384.9L2114.0 383.4L2114.3 381.9L2114.5 380.4L2114.7 378.9L2115.0 377.5L2115.2 376.0L2115.4 374.5L2115.7 373.0L2115.9 371.5L2116.1 370.0L2116.3 368.6L2116.5 367.1L2116.8 365.6L2117.0 364.1L2117.2 362.6L2117.4 361.1L2117.6 359.7L2117.9 358.2L2118.1 356.7L2118.3 355.2L2118.5 353.7L2118.7 352.2L2118.9 350.8L2119.1 349.3L2119.4 347.8L2119.6 346.3L2119.8 344.8L2120.0 343.3L2120.2 341.8L2120.4 340.4L2120.6 338.9L2120.9 337.4L2121.1 335.9L2121.3 334.4L2121.5 332.9L2121.7 331.4L2121.9 330.0L2122.1 328.5L2122.3 327.0L2122.5 325.5L2122.7 324.0L2122.9 322.5L2123.1 321.0L2123.3 319.5L2123.5 318.1L2123.7 316.6L2123.9 315.1L2124.1 313.6L2124.3 312.1L2124.5 310.6L2124.7 309.1L2124.8 307.6L2125.0 306.2L2125.2 304.7L2125.4 303.2L2125.6 301.7L2125.7 300.2L2125.9 298.7L2126.1 297.2L2126.3 295.7L2126.4 294.2L2126.6 292.8L2126.8 291.3L2126.9 289.8L2127.1 288.3L2127.2 286.8L2127.4 285.3L2127.5 283.8L2127.7 282.3L2127.8 280.8L2128.0 279.3L2128.1 277.8L2128.3 276.3L2128.4 274.9L2128.6 273.4L2128.7 271.9L2128.8 270.4L2129.0 268.9L2129.1 267.4L2129.3 265.9L2129.4 264.4L2129.5 262.9L2129.7 261.4L2129.8 259.9L2129.9 258.4L2130.0 256.9L2130.2 255.4L2130.3 253.9L2130.4 252.4L2130.6 250.9L2130.7 249.4L2130.8 248.0L2130.9 246.5L2131.1 245.0L2131.2 243.5L2131.3 242.0L2131.5 240.5L2131.6 239.0L2131.7 237.5L2131.8 236.0L2132.0 234.5L2132.1 233.0L2132.2 231.5L2132.3 230.0L2132.5 228.5L2132.6 227.0L2132.7 225.5L2132.8 224.0L2132.9 222.5L2133.1 221.0L2133.2 219.6L2133.3 218.1L2133.4 216.6L2133.5 215.1L2133.7 213.6L2133.8 212.1L2133.9 210.6L2134.0 209.1L2134.1 207.6L2134.2 206.1L2134.4 204.6L2134.5 203.1L2134.6 201.6L2134.7 200.1L2134.8 198.6L2134.9 197.1L2135.1 195.6L2135.2 194.1L2135.3 192.6L2135.4 191.1L2135.5 189.6L2135.6 188.1L2135.8 186.7L2135.9 185.2L2136.0 183.7L2136.1 182.2L2136.2 180.7L2136.3 179.2L2136.5 177.7L2136.6 176.2L2136.7 174.7L2136.8 173.2L2136.9 171.7L2137.0 170.2L2137.2 168.7L2137.3 167.2L2137.4 165.7L2137.5 164.2L2137.6 162.7L2137.7 161.2L2137.9 159.7L2138.0 158.2L2138.1 156.7L2138.2 155.2L2138.3 153.8L2138.4 152.3L2138.6 150.8L2138.7 149.3L2138.8 147.8L2138.9 146.3L2139.0 144.8L2139.1 143.3L2139.3 141.8L2139.4 140.3L2139.5 138.8L2139.6 137.3L2139.7 135.8L2139.8 134.3L2140.0 132.8L2140.1 131.3L2140.2 129.8L2140.3 128.3L2140.4 126.8L2140.5 125.3L2140.7 123.8L2140.8 122.3L2140.9 120.9L2141.0 119.4L2141.1 117.9L2141.2 116.4L2141.4 114.9L2141.5 113.4L2141.6 111.9L2141.7 110.4L2141.8 108.9L2141.9 107.4L2142.0 105.9L2142.2 104.4L2142.3 102.9L2142.4 101.4L2142.5 99.9L2142.6 98.4L2142.7 97.0L2142.8 95.5L2142.9 94.1L2143.0 92.8L2143.1 91.6L2143.2 90.6L2143.3 89.8"/>
<path stroke="#fdc0c0" d="M1380.4 89.8L1380.5 90.6L1380.5 91.7L1380.6 92.9L1380.7 94.2L1380.7 95.6L1380.8 97.0L1380.9 98.5L1381.0 100.0L1381.1 101.5L1381.2 103.0L1381.3 104.5L1381.3 106.0L1381.4 107.5L1381.5 109.0L1381.6 110.5L1381.7 112.0L1381.8 113.5L1381.9 115.0L1381.9 116.5L1382.0 118.0L1382.1 119.5L1382.2 120.9L1382.3 122.4L1382.4 123.9L1382.4 125.4L1382.5 126.9L1382.6 128.4L1382.7 129.9L1382.8 131.4L1382.9 132.9L1383.0 134.4L1383.1 135.9L1383.2 137.4L1383.3 138.9L1383.4 140.4L1383.5 141.9L1383.6 143.4L1383.7 144.9L1383.8 146.4L1383.9 147.9L1384.0 149.4L1384.1 150.9L1384.2 152.4L1384.3 153.9L1384.4 155.4L1384.5 156.9L1384.6 158.4L1384.8 159.9L1384.9 161.4L1385.0 162.8L1385.1 164.3L1385.3 165.8L1385.4 167.3L1385.5 168.8L1385.7 170.3L1385.8 171.8L1385.9 173.3L1386.1 174.8L1386.2 176.3L1386.3 177.8L1386.5 179.3L1386.6 180.8L1386.8 182.3L1386.9 183.8L1387.1 185.3L1387.2 186.8L1387.3 188.2L1387.5 189.7L1387.6 191.2L1387.8 192.7L1387.9 194.2L1388.1 195.7L1388.2 197.2L1388.4 198.7L1388.5 200.2L1388.7 201.7L1388.8 203.2L1389.0 204.7L1389.1 206.2L1389.3 207.6L1389.4 209.1L1389.6 210.6L1389.8 212.1L1389.9 213.6L1390.1 215.1L1390.2 216.6L1390.4 218.1L1390.6 219.6L1390.7 221.1L1390.9 222.6L1391.1 224.0L1391.2 225.5L1391.4 227.0L1391.6 228.5L1391.7 230.0L1391.9 231.5L1392.1 233.0L1392.2 234.5L1392.4 236.0L1392.6 237.5L1392.8 239.0L1392.9 240.4L1393.1 241.9L1393.3 243.4L1393.4 244.9L1393.6 246.4L1393.8 247.9L1393.9 249.4L1394.1 250.9L1394.3 252.4L1394.4 253.9L1394.6 255.4L1394.8 256.8L1394.9 258.3L1395.1 259.8L1395.3 261.3L1395.4 262.8L1395.6 264.3L1395.7 265.8L1395.9 267.3L1396.1 268.8L1396.2 270.3L1396.4 271.8L1396.6 273.2L1396.7 274.7L1396.9 276.2L1397.1 277.7L1397.3 279.2L1397.4 280.7L1397.6 282.2L1397.8 283.7L1397.9 285.2L1398.1 286.7L1398.3 288.1L1398.5 289.6L1398.6 291.1L1398.8 292.6L1399.0 294.1L1399.2 295.6L1399.3 297.1L1399.5 298.6L1399.7 300.1L1399.9 301.6L1400.0 303.0L1400.2 304.5L1400.4 306.0L1400.6 307.5L1400.8 309.0L1400.9 310.5L1401.1 312.0L1401.3 313.5L1401.5 315.0L1401.7 316.4L1401.8 317.9L1402.0 319.4L1402.2 320.9L1402.4 322.4L1402.6 323.9L1402.8 325.4L1403.0 326.9L1403.2 328.4L1403.4 329.8L1403.6 331.3L1403.8 332.8L1404.0 334.3L1404.2 335.8L1404.4 337.3L1404.6 338.8L1404.8 340.2L1405.0 341.7L1405.2 343.2L1405.4 344.7L1405.6 346.2L1405.8 347.7L1406.0 349.2L1406.3 350.6L1406.5 352.1L1406.7 353.6L1406.9 355.1L1407.2 356.6L1407.4 358.1L1407.6 359.5L1407.8 361.0L1408.1 362.5L1408.3 364.0L1408.5 365.5L1408.8 366.9L1409.0 368.4L1409.2 369.9L1409.5 371.4L1409.7 372.9L1410.0 374.4L1410.2 375.8L1410.5 377.3L1410.7 378.8L1410.9 380.3L1411.2 381.8L1411.4 383.2L1411.7 384.7L1411.9 386.2L1412.2 387.7L1412.5 389.1L1412.7 390.6L1413.0 392.1L1413.2 393.6L1413.5 395.1L1413.7 396.5L1414.0 398.0L1414.3 399.5L1414.5 401.0L1414.8 402.4L1415.0 403.9L1415.3 405.4L1415.6 406.9L1415.8 408.3L1416.1 409.8L1416.4 411.3L1416.7 412.8L1416.9 414.3L1417.2 415.7L1417.5 417.2L1417.8 418.7L1418.0 420.2L1418.3 421.6L1418.6 423.1L1418.9 424.6L1419.2 426.0L1419.5 427.5L1419.8 429.0L1420.0 430.5L1420.3 431.9L1420.6 433.4L1420.9 434.9L1421.2 436.3L1421.6 437.8L1421.9 439.3L1422.2 440.7L1422.5 442.2L1422.8 443.7L1423.1 445.1L1423.4 446.6L1423.8 448.1L1424.1 449.5L1424.4 451.0L1424.8 452.5L1425.1 453.9L1425.4 455.4L1425.8 456.9L1426.1 458.3L1426.4 459.8L1426.8 461.3L1427.1 462.7L1427.5 464.2L1427.8 465.7L1428.2 467.1L1428.6 468.6L1428.9 470.0L1429.3 471.5L1429.7 473.0L1430.1 474.4L1430.5 475.9L1430.9 477.3L1431.3 478.8L1431.7 480.2L1432.2 481.6L1432.6 483.0L1433.0 484.5L1433.5 485.9L1434.0 487.3L1434.5 488.7L1435.0 490.1L1435.5 491.5L1436.1 492.9L1436.7 494.2L1437.2 495.6L1437.8 497.0L1438.5 498.4L1439.1 499.8L1439.8 501.1L1440.4 502.5L1441.1 503.8L1441.8 505.1L1442.6 506.7L1443.3 507.9L1444.1 509.0L1444.8 510.2L1445.6 511.3L1446.4 512.9L1447.2 514.3L1448.1 515.4L1449.0 517.1L1449.9 518.9L1450.8 519.2L1451.8 520.2L1452.7 521.8L1453.7 522.7L1454.7 523.8L1455.7 524.7L1456.8 526.5L1457.8 527.6L1458.8 528.3L1459.9 529.8L1461.0 531.1L1462.0 531.8L1463.1 532.6L1464.2 534.4L1465.4 535.3L1466.5 535.3L1467.7 535.3L1469.0 536.1L1470.2 536.5L1471.5 537.6L1472.8 539.0L1474.2 537.8L1475.6 538.7L1477.0 540.8L1478.4 541.2L1479.9 540.5L1481.3 542.1L1482.8 542.1L1484.3 541.1L1485.7 541.3L1487.2 542.6L1488.7 544.3L1490.2 545.3L1491.6 545.0L1493.1 543.7L1494.6 543.8L1496.0 544.2L1497.5 544.9L1499.0 544.4L1500.4 545.3L1501.9 547.0L1503.4 547.0L1504.9 547.3L1506.3 546.8L1507.8 545.9L1509.3 546.6L1510.8 548.6L1512.3 549.7L1513.7 548.7L1515.2 549.4L1516.7 549.3L1518.2 550.1L1519.7 550.5L1521.2 549.4L1522.7 550.1L1524.2 549.7L1525.7 549.0L1527.1 548.6L1528.6 549.9L1530.1 550.6L1531.6 550.6L1533.1 550.4L1534.6 551.8L1536.1 551.3L1537.6 550.2L1539.1 551.5L1540.6 552.7L1542.1 551.9L1543.6 549.6L1545.1 549.3L1546.6 550.7L1548.0 550.7L1549.5 551.3L1551.0 549.6L1552.5 549.5L1554.0 549.3L1555.5 549.8L1557.0 549.5L1558.4 549.3L1559.9 548.3L1561.4 546.5L1562.8 546.0L1564.3 546.3L1565.8 545.9L1567.2 547.0L1568.7 547.9L1570.1 546.8L1571.6 544.8L1573.0 544.5L1574.5 544.1L1575.9 545.0L1577.3 544.8L1578.8 543.9L1580.2 542.8L1581.6 540.6L1583.0 540.3L1584.5 540.2L1585.9 540.7L1587.3 540.7L1588.7 539.4L1590.1 538.8L1591.6 540.0L1593.0 538.5L1594.4 536.7L1595.8 536.8L1597.2 536.2L1598.6 535.6L1600.0 536.0L1601.4 536.9L1602.8 534.2L1604.1 533.2L1605.5 533.5L1606.9 532.9L1608.3 532.2L1609.7 531.4L1611.1 531.8L1612.4 530.7L1613.8 529.6L1615.2 529.2L1616.5 528.8L1617.9 527.9L1619.2 528.1L1620.6 527.2L1621.9 526.2L1623.3 525.5L1624.6 524.0L1626.0 523.0L1627.4 522.3L1628.8 522.6L1630.2 522.0L1631.5 520.6L1632.9 520.9L1634.3 521.2L1635.8 519.0L1637.2 520.0L1638.6 520.0L1640.0 518.5L1641.4 518.8L1642.8 518.2L1644.3 516.7L1645.7 518.1L1647.1 516.6L1648.6 515.3L1650.0 516.3L1651.5 514.9L1653.0 514.4L1654.4 515.0L1655.9 516.6L1657.4 514.8L1658.9 513.5L1660.4 514.3L1661.8 514.0L1663.3 512.5L1664.8 512.9L1666.3 513.3L1667.8 513.2L1669.3 513.8L1670.8 514.0L1672.3 513.4L1673.8 513.0L1675.3 511.8L1676.8 511.9L1678.2 512.8L1679.7 512.7L1681.2 513.0L1682.6 512.8L1684.1 514.4L1685.6 516.5L1687.0 515.2L1688.5 514.9L1689.9 515.3L1691.4 516.5L1692.9 517.0L1694.3 516.7L1695.8 516.6L1697.3 517.0L1698.7 516.6L1700.2 517.5L1701.7 517.5L1703.2 517.9L1704.7 518.4L1706.2 519.0L1707.7 518.7L1709.2 519.1L1710.7 518.2L1712.2 518.4L1713.7 518.6L1715.2 518.6L1716.7 518.8L1718.2 519.4L1719.7 517.6L1721.2 518.0L1722.7 517.9L1724.2 519.1L1725.7 518.1L1727.2 517.3L1728.7 517.4L1730.2 519.7L1731.7 519.2L1733.2 518.9L1734.7 519.2L1736.2 518.0L1737.7 518.5L1739.2 520.2L1740.7 520.1L1742.2 520.6L1743.6 520.3L1745.1 519.9L1746.6 519.9L1748.1 520.3L1749.6 521.9L1751.1 521.5L1752.6 520.5L1754.1 519.7L1755.6 519.1L1757.1 520.7L1758.6 519.7L1760.1 518.4L1761.6 519.0L1763.1 519.0L1764.6 520.6L1766.1 518.2L1767.6 517.9L1769.1 519.4L1770.5 518.0L1772.0 517.2L1773.5 518.1L1775.0 519.3L1776.5 517.7L1778.0 515.6L1779.4 517.0L1780.9 518.4L1782.4 517.0L1783.9 514.2L1785.3 515.8L1786.8 516.0L1788.3 515.9L1789.8 515.3L1791.2 514.2L1792.7 513.7L1794.2 514.9L1795.7 515.6L1797.1 512.7L1798.6 511.6L1800.1 514.3L1801.6 514.0L1803.1 512.1L1804.6 512.7L1806.1 513.4L1807.6 513.4L1809.1 513.2L1810.6 513.2L1812.1 513.3L1813.6 514.0L1815.0 513.7L1816.5 513.6L1818.0 514.2L1819.5 515.6L1821.0 515.8L1822.5 515.1L1824.0 515.5L1825.5 516.0L1827.0 516.6L1828.4 516.8L1829.9 517.7L1831.4 518.3L1832.9 517.3L1834.4 516.6L1835.8 517.7L1837.3 518.4L1838.8 518.1L1840.2 517.0L1841.7 516.4L1843.1 518.3L1844.6 520.2L1846.0 520.8L1847.5 519.6L1848.9 520.8L1850.3 521.2L1851.7 521.6L1853.2 522.5L1854.6 522.1L1856.0 522.1L1857.4 521.6L1858.8 522.3L1860.2 522.8L1861.5 524.6L1862.9 526.1L1864.3 527.2L1865.7 527.8L1867.0 527.4L1868.4 528.3L1869.8 528.8L1871.1 529.9L1872.5 530.8L1873.8 530.3L1875.2 531.1L1876.5 532.4L1877.8 532.8L1879.2 534.2L1880.5 536.2L1881.8 535.8L1883.1 535.4L1884.4 534.7L1885.7 536.2L1887.0 537.8L1888.2 537.1L1889.5 538.9L1890.8 541.2L1892.1 541.2L1893.4 541.5L1894.7 542.0L1896.0 543.8L1897.3 543.7L1898.6 544.1L1899.9 547.2L1901.2 547.6L1902.6 547.6L1903.9 547.9L1905.3 547.4L1906.7 548.3L1908.0 549.8L1909.4 549.5L1910.8 550.4L1912.2 552.3L1913.7 553.2L1915.1 551.5L1916.5 551.1L1917.9 551.4L1919.4 553.6L1920.8 555.1L1922.2 555.4L1923.7 554.6L1925.1 554.0L1926.6 555.2L1928.0 556.2L1929.5 555.9L1930.9 556.5L1932.4 557.8L1933.8 558.1L1935.3 557.2L1936.8 556.0L1938.2 557.2L1939.7 558.8L1941.2 559.0L1942.6 559.0L1944.1 558.9L1945.6 560.2L1947.1 560.5L1948.6 560.5L1950.0 560.0L1951.5 559.9L1953.0 560.9L1954.5 560.6L1956.0 560.1L1957.5 560.8L1959.0 562.7L1960.4 562.9L1961.9 563.6L1963.4 563.2L1964.9 562.4L1966.4 561.6L1967.9 561.8L1969.4 564.0L1970.9 564.3L1972.4 564.1L1973.9 564.4L1975.4 563.8L1976.9 563.4L1978.4 563.5L1979.9 564.2L1981.4 564.3L1982.9 564.2L1984.4 564.0L1985.9 563.1L1987.4 563.0L1988.9 562.7L1990.4 563.9L1992.0 562.5L1993.5 562.3L1995.0 565.3L1996.4 564.6L1997.9 562.5L1999.4 562.9L2000.9 564.5L2002.4 563.9L2003.9 563.7L2005.3 563.5L2006.8 562.6L2008.3 564.8L2009.8 563.9L2011.2 561.4L2012.7 560.7L2014.1 560.9L2015.5 560.8L2016.9 560.5L2018.3 559.6L2019.7 557.5L2021.0 557.5L2022.3 557.2L2023.6 556.1L2024.9 554.4L2026.1 553.7L2027.3 553.2L2028.5 552.8L2029.7 551.2L2030.9 550.6L2032.0 550.3L2033.1 548.6L2034.2 547.4L2035.3 546.4L2036.3 546.0L2037.3 544.0L2038.3 542.9L2039.2 541.8L2040.1 540.8L2041.0 540.2L2041.9 538.8L2042.7 537.5L2043.5 536.2L2044.3 535.2L2045.0 533.9L2045.7 532.4L2046.4 531.1L2047.0 529.7L2047.7 528.4L2048.3 527.0L2048.9 525.6L2049.5 524.2L2050.1 522.9L2050.6 521.5L2051.2 520.1L2051.7 518.7L2052.3 517.3L2052.8 515.9L2053.3 514.4L2053.8 513.0L2054.3 511.6L2054.8 510.2L2055.3 508.8L2055.8 507.4L2056.3 505.9L2056.8 504.5L2057.2 503.1L2057.7 501.7L2058.1 500.2L2058.6 498.8L2059.0 497.4L2059.4 495.9L2059.8 494.5L2060.2 493.0L2060.5 491.6L2060.9 490.1L2061.3 488.7L2061.6 487.2L2061.9 485.7L2062.3 484.3L2062.6 482.8L2062.9 481.4L2063.2 479.9L2063.6 478.4L2063.9 476.9L2064.2 475.5L2064.5 474.0L2064.8 472.5L2065.1 471.1L2065.4 469.6L2065.8 468.1L2066.1 466.7L2066.4 465.2L2066.7 463.7L2067.1 462.3L2067.4 460.8L2067.7 459.4L2068.1 457.9L2068.4 456.4L2068.7 455.0L2069.1 453.5L2069.4 452.0L2069.7 450.6L2070.0 449.1L2070.4 447.6L2070.7 446.2L2071.0 444.7L2071.3 443.2L2071.6 441.8L2071.9 440.3L2072.2 438.8L2072.5 437.4L2072.8 435.9L2073.0 434.4L2073.3 432.9L2073.6 431.5L2073.8 430.0L2074.1 428.5L2074.4 427.0L2074.6 425.6L2074.9 424.1L2075.1 422.6L2075.4 421.1L2075.6 419.7L2075.9 418.2L2076.1 416.7L2076.4 415.2L2076.6 413.7L2076.8 412.3L2077.1 410.8L2077.3 409.3L2077.5 407.8L2077.8 406.3L2078.0 404.8L2078.3 403.4L2078.5 401.9L2078.7 400.4L2079.0 398.9L2079.2 397.4L2079.4 395.9L2079.6 394.5L2079.9 393.0L2080.1 391.5L2080.4 390.0L2080.6 388.5L2080.8 387.1L2081.1 385.6L2081.3 384.1L2081.5 382.6L2081.8 381.1L2082.0 379.6L2082.3 378.2L2082.5 376.7L2082.8 375.2L2083.0 373.7L2083.3 372.3L2083.5 370.8L2083.8 369.3L2084.1 367.8L2084.3 366.3L2084.6 364.9L2084.9 363.4L2085.1 361.9L2085.4 360.4L2085.7 359.0L2086.0 357.5L2086.2 356.0L2086.5 354.5L2086.8 353.1L2087.1 351.6L2087.4 350.1L2087.7 348.7L2088.0 347.2L2088.3 345.7L2088.6 344.2L2088.8 342.8L2089.1 341.3L2089.4 339.8L2089.7 338.4L2090.0 336.9L2090.3 335.4L2090.6 334.0L2090.9 332.5L2091.2 331.0L2091.5 329.5L2091.8 328.1L2092.1 326.6L2092.4 325.1L2092.7 323.7L2093.0 322.2L2093.3 320.7L2093.6 319.3L2093.9 317.8L2094.2 316.3L2094.5 314.8L2094.8 313.4L2095.1 311.9L2095.5 310.4L2095.8 309.0L2096.1 307.5L2096.4 306.0L2096.7 304.6L2097.0 303.1L2097.3 301.6L2097.6 300.2L2097.9 298.7L2098.2 297.2L2098.5 295.7L2098.8 294.3L2099.0 292.8L2099.2 291.3L2099.5 289.8L2099.7 288.4L2099.9 286.9L2100.1 285.4L2100.3 283.9L2100.5 282.4L2100.6 280.9L2100.8 279.4L2101.0 278.0L2101.1 276.5L2101.3 275.0L2101.4 273.5L2101.6 272.0L2101.7 270.5L2101.9 269.0L2102.0 267.5L2102.2 266.0L2102.3 264.5L2102.4 263.0L2102.6 261.5L2102.7 260.0L2102.8 258.5L2103.0 257.0L2103.1 255.5L2103.2 254.0L2103.4 252.5L2103.5 251.1L2103.6 249.6L2103.8 248.1L2103.9 246.6L2104.0 245.1L2104.2 243.6L2104.3 242.1L2104.4 240.6L2104.6 239.1L2104.7 237.6L2104.9 236.1L2105.0 234.6L2105.1 233.1L2105.3 231.6L2105.4 230.1L2105.5 228.6L2105.7 227.1L2105.8 225.6L2105.9 224.2L2106.1 222.7L2106.2 221.2L2106.3 219.7L2106.5 218.2L2106.6 216.7L2106.7 215.2L2106.9 213.7L2107.0 212.2L2107.1 210.7L2107.3 209.2L2107.4 207.7L2107.5 206.2L2107.7 204.7L2107.8 203.2L2107.9 201.7L2108.1 200.2L2108.2 198.8L2108.3 197.3L2108.5 195.8L2108.6 194.3L2108.7 192.8L2108.9 191.3L2109.0 189.8L2109.2 188.3L2109.3 186.8L2109.5 185.3L2109.6 183.8L2109.7 182.3L2109.9 180.8L2110.0 179.3L2110.2 177.8L2110.3 176.4L2110.5 174.9L2110.6 173.4L2110.8 171.9L2110.9 170.4L2111.1 168.9L2111.2 167.4L2111.4 165.9L2111.5 164.4L2111.7 162.9L2111.8 161.4L2112.0 159.9L2112.1 158.4L2112.3 157.0L2112.4 155.5L2112.6 154.0L2112.8 152.5L2112.9 151.0L2113.1 149.5L2113.2 148.0L2113.3 146.5L2113.5 145.0L2113.6 143.5L2113.8 142.0L2113.9 140.5L2114.1 139.0L2114.2 137.6L2114.4 136.1L2114.5 134.6L2114.7 133.1L2114.8 131.6L2115.0 130.1L2115.1 128.6L2115.3 127.1L2115.4 125.6L2115.6 124.1L2115.7 122.6L2115.9 121.1L2116.0 119.6L2116.2 118.1L2116.3 116.7L2116.4 115.2L2116.6 113.7L2116.7 112.2L2116.9 110.7L2117.0 109.2L2117.2 107.7L2117.3 106.2L2117.5 104.7L2117.6 103.2L2117.7 101.7L2117.9 100.2L2118.0 98.7L2118.2 97.3L2118.3 95.8L2118.4 94.4L2118.5 93.1L2118.6 91.9L2118.7 90.8L2118.8 89.9L2118.9 89.2"/>
<path stroke="#c2c2fd" d="M1392.4 89.8L1392.5 90.6L1392.5 91.7L1392.6 92.9L1392.7 94.2L1392.7 95.6L1392.8 97.0L1392.9 98.5L1393.0 100.0L1393.1 101.5L1393.2 103.0L1393.3 104.5L1393.3 106.0L1393.4 107.5L1393.5 109.0L1393.6 110.5L1393.7 112.0L1393.8 113.5L1393.9 115.0L1393.9 116.5L1394.0 118.0L1394.1 119.4L1394.2 120.9L1394.3 122.4L1394.4 123.9L1394.5 125.4L1394.6 126.9L1394.6 128.4L1394.7 129.9L1394.8 131.4L1394.9 132.9L1395.0 134.4L1395.1 135.9L1395.2 137.4L1395.3 138.9L1395.4 140.4L1395.5 141.9L1395.6 143.4L1395.7 144.9L1395.8 146.4L1395.9 147.9L1396.0 149.4L1396.1 150.9L1396.2 152.4L1396.3 153.9L1396.4 155.4L1396.5 156.9L1396.6 158.4L1396.7 159.9L1396.8 161.4L1396.9 162.9L1397.0 164.4L1397.1 165.9L1397.2 167.3L1397.4 168.8L1397.5 170.3L1397.6 171.8L1397.7 173.3L1397.8 174.8L1397.9 176.3L1398.1 177.8L1398.2 179.3L1398.3 180.8L1398.4 182.3L1398.6 183.8L1398.7 185.3L1398.8 186.8L1398.9 188.3L1399.1 189.8L1399.2 191.3L1399.3 192.8L1399.5 194.3L1399.6 195.7L1399.7 197.2L1399.9 198.7L1400.0 200.2L1400.2 201.7L1400.3 203.2L1400.5 204.7L1400.6 206.2L1400.8 207.7L1400.9 209.2L1401.1 210.7L1401.3 212.2L1401.4 213.7L1401.6 215.1L1401.8 216.6L1401.9 218.1L1402.1 219.6L1402.3 221.1L1402.5 222.6L1402.6 224.1L1402.8 225.6L1403.0 227.1L1403.2 228.6L1403.4 230.0L1403.6 231.5L1403.8 233.0L1403.9 234.5L1404.1 236.0L1404.3 237.5L1404.5 239.0L1404.7 240.5L1404.9 241.9L1405.1 243.4L1405.3 244.9L1405.5 246.4L1405.7 247.9L1405.9 249.4L1406.1 250.9L1406.3 252.3L1406.5 253.8L1406.8 255.3L1407.0 256.8L1407.2 258.3L1407.4 259.8L1407.6 261.2L1407.9 262.7L1408.1 264.2L1408.3 265.7L1408.6 267.2L1408.8 268.7L1409.0 270.1L1409.3 271.6L1409.5 273.1L1409.8 274.6L1410.0 276.1L1410.2 277.5L1410.5 279.0L1410.7 280.5L1410.9 282.0L1411.2 283.5L1411.4 285.0L1411.6 286.4L1411.9 287.9L1412.1 289.4L1412.3 290.9L1412.6 292.4L1412.8 293.9L1413.0 295.3L1413.2 296.8L1413.4 298.3L1413.7 299.8L1413.9 301.3L1414.1 302.8L1414.3 304.2L1414.5 305.7L1414.7 307.2L1414.9 308.7L1415.2 310.2L1415.4 311.7L1415.6 313.2L1415.8 314.6L1416.0 316.1L1416.2 317.6L1416.5 319.1L1416.7 320.6L1416.9 322.1L1417.1 323.5L1417.3 325.0L1417.6 326.5L1417.8 328.0L1418.0 329.5L1418.3 331.0L1418.5 332.4L1418.7 333.9L1419.0 335.4L1419.2 336.9L1419.5 338.4L1419.7 339.8L1420.0 341.3L1420.2 342.8L1420.5 344.3L1420.8 345.7L1421.0 347.2L1421.3 348.7L1421.6 350.2L1421.9 351.6L1422.1 353.1L1422.4 354.6L1422.7 356.1L1423.0 357.5L1423.3 359.0L1423.6 360.5L1423.9 361.9L1424.2 363.4L1424.5 364.9L1424.7 366.4L1425.0 367.8L1425.4 369.3L1425.7 370.8L1426.0 372.2L1426.3 373.7L1426.6 375.2L1426.9 376.6L1427.2 378.1L1427.5 379.6L1427.8 381.0L1428.1 382.5L1428.4 384.0L1428.7 385.4L1429.0 386.9L1429.3 388.4L1429.6 389.9L1430.0 391.3L1430.3 392.8L1430.6 394.3L1430.9 395.7L1431.2 397.2L1431.5 398.7L1431.8 400.1L1432.1 401.6L1432.4 403.1L1432.7 404.6L1433.0 406.0L1433.3 407.5L1433.6 409.0L1433.9 410.4L1434.3 411.9L1434.6 413.4L1434.9 414.8L1435.2 416.3L1435.5 417.8L1435.9 419.2L1436.2 420.7L1436.6 422.2L1436.9 423.6L1437.2 425.1L1437.6 426.5L1438.0 428.0L1438.3 429.4L1438.7 430.9L1439.1 432.3L1439.5 433.8L1439.8 435.2L1440.2 436.7L1440.6 438.1L1441.0 439.6L1441.4 441.1L1441.8 442.5L1442.3 444.0L1442.7 445.4L1443.1 446.9L1443.6 448.4L1444.0 449.8L1444.5 451.2L1445.0 452.7L1445.4 454.1L1445.9 455.5L1446.5 456.9L1447.0 458.3L1447.6 459.7L1448.1 461.0L1448.7 462.4L1449.4 463.7L1450.0 465.0L1450.7 466.4L1451.4 467.7L1452.2 469.3L1453.0 470.4L1453.8 471.6L1454.6 472.9L1455.5 474.0L1456.4 475.4L1457.4 477.1L1458.3 477.8L1459.3 478.4L1460.3 479.1L1461.4 480.8L1462.4 482.0L1463.5 483.1L1464.6 483.5L1465.7 484.2L1466.9 486.2L1468.1 486.9L1469.3 487.7L1470.5 488.9L1471.8 488.9L1473.1 488.2L1474.5 490.3L1475.9 491.6L1477.2 492.5L1478.6 491.2L1480.0 490.6L1481.5 491.0L1482.9 492.3L1484.3 495.0L1485.7 496.2L1487.1 496.0L1488.6 496.3L1490.0 497.4L1491.4 497.4L1492.8 497.9L1494.3 498.5L1495.7 497.0L1497.1 497.6L1498.6 500.3L1500.0 500.3L1501.5 500.0L1503.0 500.1L1504.4 500.3L1505.9 502.0L1507.4 502.0L1508.8 501.0L1510.3 499.3L1511.8 500.4L1513.3 500.8L1514.7 500.4L1516.2 502.7L1517.7 504.2L1519.2 502.3L1520.7 503.2L1522.2 504.5L1523.7 503.4L1525.2 504.1L1526.7 503.1L1528.2 502.4L1529.7 502.5L1531.2 502.7L1532.7 504.5L1534.2 503.9L1535.7 502.9L1537.2 503.2L1538.7 504.2L1540.2 504.3L1541.7 504.9L1543.2 504.3L1544.7 502.9L1546.2 503.1L1547.7 503.8L1549.2 503.2L1550.7 503.5L1552.2 505.1L1553.7 503.8L1555.2 502.8L1556.7 503.9L1558.1 502.8L1559.6 501.4L1561.1 500.8L1562.5 501.5L1564.0 502.1L1565.4 501.3L1566.8 500.7L1568.3 501.4L1569.7 501.3L1571.1 498.8L1572.5 498.2L1573.9 498.5L1575.3 498.5L1576.7 497.5L1578.1 496.0L1579.4 495.3L1580.8 493.8L1582.2 493.8L1583.6 493.6L1584.9 493.5L1586.3 492.3L1587.7 491.3L1589.1 490.6L1590.4 489.6L1591.8 490.3L1593.1 489.6L1594.5 489.1L1595.8 487.7L1597.2 487.2L1598.6 485.8L1599.9 485.1L1601.2 485.1L1602.6 485.2L1603.9 484.8L1605.3 483.6L1606.6 483.5L1607.9 482.9L1609.2 482.1L1610.6 481.7L1611.9 480.5L1613.2 479.1L1614.5 478.8L1615.8 477.7L1617.1 477.2L1618.4 477.4L1619.7 476.8L1620.9 474.9L1622.2 472.7L1623.5 472.4L1624.7 472.1L1626.0 472.2L1627.3 470.9L1628.6 469.4L1629.8 469.5L1631.1 468.3L1632.4 467.1L1633.7 468.0L1635.0 468.2L1636.4 466.7L1637.7 465.4L1639.1 463.6L1640.4 463.6L1641.8 463.4L1643.2 462.7L1644.6 461.7L1646.0 461.2L1647.4 460.9L1648.9 460.7L1650.3 461.3L1651.7 460.6L1653.2 458.1L1654.6 457.2L1656.1 456.7L1657.6 456.6L1659.0 457.7L1660.5 458.0L1662.0 456.9L1663.4 456.7L1664.9 456.1L1666.4 454.9L1667.9 454.3L1669.3 454.5L1670.8 456.4L1672.3 455.2L1673.8 455.6L1675.3 456.8L1676.8 455.5L1678.3 454.7L1679.8 454.2L1681.3 454.3L1682.8 455.0L1684.3 454.8L1685.8 455.2L1687.3 455.8L1688.8 455.2L1690.3 454.8L1691.8 454.5L1693.3 454.6L1694.8 453.7L1696.3 454.2L1697.8 454.9L1699.3 454.1L1700.8 455.9L1702.3 455.2L1703.8 453.7L1705.3 454.7L1706.8 453.7L1708.3 453.5L1709.8 453.6L1711.3 453.8L1712.8 454.8L1714.3 455.6L1715.8 456.5L1717.3 456.8L1718.8 457.0L1720.3 456.8L1721.8 455.7L1723.3 456.5L1724.8 456.1L1726.3 455.2L1727.8 456.9L1729.3 457.5L1730.8 456.7L1732.3 456.8L1733.8 457.2L1735.3 455.6L1736.8 455.4L1738.2 455.2L1739.7 455.7L1741.2 455.7L1742.7 456.9L1744.2 457.2L1745.7 455.7L1747.2 455.6L1748.7 455.0L1750.2 455.3L1751.7 456.3L1753.2 456.3L1754.7 454.4L1756.2 454.4L1757.7 455.9L1759.2 456.1L1760.7 456.6L1762.2 455.1L1763.7 455.2L1765.2 455.1L1766.7 455.1L1768.2 455.7L1769.7 455.9L1771.2 455.1L1772.7 454.9L1774.2 454.2L1775.7 453.3L1777.2 454.6L1778.7 455.1L1780.2 453.6L1781.7 453.3L1783.2 454.4L1784.7 456.0L1786.2 456.4L1787.7 456.0L1789.2 453.8L1790.7 453.9L1792.2 455.2L1793.7 455.6L1795.2 455.6L1796.7 455.2L1798.2 456.6L1799.7 457.6L1801.2 456.3L1802.7 455.0L1804.2 457.1L1805.7 456.8L1807.2 457.0L1808.6 458.7L1810.1 457.1L1811.6 456.8L1813.1 457.2L1814.6 457.8L1816.0 458.4L1817.5 459.9L1819.0 460.0L1820.4 459.2L1821.9 460.1L1823.3 460.0L1824.8 459.6L1826.2 462.0L1827.6 461.5L1829.0 460.6L1830.4 461.7L1831.8 461.6L1833.2 460.8L1834.6 463.3L1836.0 464.1L1837.3 463.9L1838.7 464.8L1840.0 465.1L1841.4 465.4L1842.7 467.0L1844.1 470.1L1845.4 470.7L1846.7 470.5L1848.1 469.5L1849.4 470.2L1850.7 470.8L1852.0 472.4L1853.4 473.3L1854.7 473.7L1856.0 474.5L1857.4 474.7L1858.7 474.4L1860.0 476.3L1861.3 476.6L1862.6 476.4L1864.0 477.9L1865.3 478.8L1866.6 480.1L1867.9 481.9L1869.2 482.4L1870.5 482.8L1871.8 483.4L1873.1 484.7L1874.4 483.8L1875.7 484.9L1876.9 485.8L1878.2 485.7L1879.5 487.3L1880.7 488.5L1882.0 489.8L1883.2 491.5L1884.4 490.2L1885.7 491.0L1886.9 494.4L1888.1 495.5L1889.3 496.2L1890.5 496.4L1891.8 495.6L1893.0 496.0L1894.2 498.3L1895.4 500.2L1896.7 500.0L1897.9 500.3L1899.2 501.7L1900.4 501.3L1901.7 502.1L1903.0 505.1L1904.3 507.3L1905.5 506.6L1906.9 507.7L1908.2 507.6L1909.5 506.9L1910.8 506.3L1912.1 508.8L1913.5 510.1L1914.8 512.2L1916.2 512.7L1917.5 512.2L1918.9 511.2L1920.2 513.4L1921.6 514.3L1923.0 514.1L1924.3 513.2L1925.7 515.2L1927.1 517.4L1928.5 516.8L1929.9 517.1L1931.3 518.2L1932.7 519.4L1934.1 519.6L1935.5 520.9L1937.0 520.8L1938.4 520.0L1939.8 520.4L1941.3 519.4L1942.7 520.1L1944.2 522.8L1945.6 523.5L1947.1 522.6L1948.5 523.2L1950.0 522.1L1951.5 522.4L1952.9 524.0L1954.4 524.7L1955.9 523.6L1957.4 524.2L1958.9 525.9L1960.4 524.6L1961.9 524.3L1963.4 523.1L1964.9 521.6L1966.4 523.4L1967.9 524.3L1969.4 524.1L1970.9 523.6L1972.4 523.4L1973.9 524.4L1975.4 525.7L1976.9 524.6L1978.4 522.4L1979.9 523.9L1981.4 524.8L1982.9 524.4L1984.4 523.9L1985.9 525.2L1987.4 524.3L1988.9 523.3L1990.4 521.4L1991.9 521.0L1993.4 521.3L1994.9 521.4L1996.3 521.8L1997.8 520.8L1999.3 521.8L2000.7 520.6L2002.2 519.3L2003.6 519.8L2005.1 518.5L2006.5 518.7L2008.0 519.3L2009.4 518.1L2010.9 518.7L2012.3 517.9L2013.7 516.5L2015.1 515.0L2016.4 513.1L2017.7 512.8L2019.0 512.9L2020.2 512.2L2021.4 512.2L2022.5 509.9L2023.6 508.7L2024.7 507.9L2025.7 508.2L2026.8 507.3L2027.7 505.7L2028.7 504.3L2029.6 503.7L2030.6 502.5L2031.5 501.2L2032.3 499.5L2033.2 498.6L2034.0 497.5L2034.8 496.1L2035.5 494.8L2036.3 493.4L2037.0 492.0L2037.7 490.7L2038.4 489.4L2039.0 488.0L2039.7 486.7L2040.3 485.3L2040.9 484.0L2041.5 482.6L2042.1 481.2L2042.6 479.8L2043.2 478.4L2043.7 477.0L2044.3 475.6L2044.8 474.2L2045.3 472.8L2045.8 471.3L2046.3 469.9L2046.8 468.5L2047.3 467.0L2047.7 465.6L2048.2 464.2L2048.6 462.7L2049.1 461.3L2049.5 459.8L2049.9 458.4L2050.3 457.0L2050.7 455.5L2051.1 454.1L2051.5 452.6L2051.9 451.2L2052.3 449.7L2052.6 448.3L2053.0 446.8L2053.4 445.4L2053.7 443.9L2054.1 442.5L2054.4 441.0L2054.7 439.5L2055.1 438.1L2055.4 436.6L2055.7 435.1L2056.0 433.7L2056.4 432.2L2056.7 430.7L2057.0 429.3L2057.3 427.8L2057.6 426.3L2057.9 424.9L2058.3 423.4L2058.6 421.9L2058.9 420.4L2059.2 419.0L2059.5 417.5L2059.9 416.0L2060.2 414.6L2060.5 413.1L2060.8 411.7L2061.2 410.2L2061.5 408.7L2061.8 407.3L2062.1 405.8L2062.5 404.3L2062.8 402.9L2063.1 401.4L2063.4 399.9L2063.8 398.5L2064.1 397.0L2064.4 395.5L2064.7 394.1L2065.0 392.6L2065.4 391.1L2065.7 389.7L2066.0 388.2L2066.3 386.7L2066.6 385.3L2066.9 383.8L2067.3 382.3L2067.6 380.9L2067.9 379.4L2068.2 377.9L2068.5 376.5L2068.8 375.0L2069.1 373.5L2069.4 372.1L2069.8 370.6L2070.1 369.1L2070.4 367.7L2070.7 366.2L2071.0 364.7L2071.3 363.3L2071.6 361.8L2071.9 360.3L2072.2 358.9L2072.5 357.4L2072.8 355.9L2073.1 354.5L2073.4 353.0L2073.7 351.5L2074.0 350.1L2074.3 348.6L2074.6 347.1L2074.9 345.6L2075.2 344.2L2075.5 342.7L2075.8 341.2L2076.1 339.8L2076.4 338.3L2076.7 336.8L2077.0 335.4L2077.3 333.9L2077.6 332.4L2077.9 330.9L2078.2 329.5L2078.5 328.0L2078.8 326.5L2079.1 325.1L2079.4 323.6L2079.7 322.1L2080.0 320.7L2080.3 319.2L2080.6 317.7L2080.9 316.2L2081.2 314.8L2081.5 313.3L2081.9 311.8L2082.2 310.4L2082.5 308.9L2082.8 307.4L2083.1 306.0L2083.4 304.5L2083.8 303.0L2084.1 301.6L2084.4 300.1L2084.7 298.6L2085.0 297.2L2085.2 295.7L2085.5 294.2L2085.8 292.7L2086.0 291.3L2086.3 289.8L2086.5 288.3L2086.8 286.8L2087.0 285.3L2087.2 283.9L2087.4 282.4L2087.7 280.9L2087.9 279.4L2088.1 277.9L2088.3 276.4L2088.5 275.0L2088.7 273.5L2088.9 272.0L2089.0 270.5L2089.2 269.0L2089.4 267.5L2089.6 266.0L2089.8 264.5L2090.0 263.0L2090.1 261.6L2090.3 260.1L2090.5 258.6L2090.7 257.1L2090.8 255.6L2091.0 254.1L2091.2 252.6L2091.3 251.1L2091.5 249.6L2091.6 248.1L2091.8 246.6L2092.0 245.1L2092.1 243.7L2092.3 242.2L2092.4 240.7L2092.6 239.2L2092.7 237.7L2092.9 236.2L2093.0 234.7L2093.2 233.2L2093.3 231.7L2093.5 230.2L2093.6 228.7L2093.8 227.2L2093.9 225.7L2094.0 224.2L2094.2 222.8L2094.3 221.3L2094.5 219.8L2094.6 218.3L2094.7 216.8L2094.9 215.3L2095.0 213.8L2095.1 212.3L2095.2 210.8L2095.4 209.3L2095.5 207.8L2095.6 206.3L2095.8 204.8L2095.9 203.3L2096.0 201.8L2096.1 200.3L2096.3 198.8L2096.4 197.3L2096.5 195.9L2096.6 194.4L2096.8 192.9L2096.9 191.4L2097.0 189.9L2097.1 188.4L2097.2 186.9L2097.4 185.4L2097.5 183.9L2097.6 182.4L2097.7 180.9L2097.8 179.4L2098.0 177.9L2098.1 176.4L2098.2 174.9L2098.3 173.4L2098.4 171.9L2098.5 170.4L2098.6 168.9L2098.7 167.4L2098.9 165.9L2099.0 164.4L2099.1 163.0L2099.2 161.5L2099.3 160.0L2099.4 158.5L2099.5 157.0L2099.7 155.5L2099.8 154.0L2099.9 152.5L2100.0 151.0L2100.1 149.5L2100.3 148.0L2100.4 146.5L2100.5 145.0L2100.6 143.5L2100.8 142.0L2100.9 140.5L2101.0 139.0L2101.2 137.5L2101.3 136.0L2101.4 134.6L2101.6 133.1L2101.7 131.6L2101.9 130.1L2102.0 128.6L2102.1 127.1L2102.3 125.6L2102.4 124.1L2102.6 122.6L2102.7 121.1L2102.9 119.6L2103.0 118.1L2103.2 116.6L2103.3 115.1L2103.5 113.6L2103.6 112.2L2103.7 110.7L2103.9 109.2L2104.0 107.7L2104.2 106.2L2104.3 104.7L2104.5 103.2L2104.6 101.7L2104.8 100.2L2104.9 98.7L2105.1 97.3L2105.2 95.8L2105.4 94.4L2105.5 93.1L2105.6 91.9L2105.7 90.8L2105.8 89.9L2105.9 89.2"/>
<path stroke="#5252fb" d="M1406.1 89.8L1406.2 90.6L1406.3 91.7L1406.4 92.8L1406.5 94.2L1406.6 95.6L1406.8 97.0L1406.9 98.5L1407.0 100.0L1407.1 101.5L1407.2 102.9L1407.4 104.4L1407.5 105.9L1407.6 107.4L1407.7 108.9L1407.8 110.4L1408.0 111.9L1408.1 113.4L1408.2 114.9L1408.3 116.4L1408.4 117.9L1408.5 119.4L1408.7 120.9L1408.8 122.4L1408.9 123.9L1409.0 125.4L1409.1 126.9L1409.2 128.4L1409.4 129.9L1409.5 131.4L1409.6 132.9L1409.7 134.4L1409.8 135.8L1410.0 137.3L1410.1 138.8L1410.2 140.3L1410.3 141.8L1410.4 143.3L1410.6 144.8L1410.7 146.3L1410.8 147.8L1410.9 149.3L1411.1 150.8L1411.2 152.3L1411.3 153.8L1411.5 155.3L1411.6 156.8L1411.7 158.3L1411.8 159.8L1412.0 161.3L1412.1 162.8L1412.2 164.2L1412.4 165.7L1412.5 167.2L1412.6 168.7L1412.8 170.2L1412.9 171.7L1413.0 173.2L1413.2 174.7L1413.3 176.2L1413.4 177.7L1413.6 179.2L1413.7 180.7L1413.8 182.2L1414.0 183.7L1414.1 185.2L1414.3 186.7L1414.4 188.1L1414.5 189.6L1414.7 191.1L1414.8 192.6L1414.9 194.1L1415.1 195.6L1415.2 197.1L1415.4 198.6L1415.5 200.1L1415.7 201.6L1415.8 203.1L1415.9 204.6L1416.1 206.1L1416.2 207.6L1416.4 209.1L1416.5 210.5L1416.7 212.0L1416.8 213.5L1417.0 215.0L1417.1 216.5L1417.3 218.0L1417.4 219.5L1417.6 221.0L1417.7 222.5L1417.9 224.0L1418.0 225.5L1418.2 227.0L1418.3 228.5L1418.5 230.0L1418.6 231.4L1418.8 232.9L1418.9 234.4L1419.1 235.9L1419.2 237.4L1419.4 238.9L1419.5 240.4L1419.7 241.9L1419.8 243.4L1420.0 244.9L1420.1 246.4L1420.3 247.9L1420.4 249.4L1420.6 250.8L1420.7 252.3L1420.9 253.8L1421.0 255.3L1421.1 256.8L1421.3 258.3L1421.4 259.8L1421.6 261.3L1421.7 262.8L1421.8 264.3L1422.0 265.8L1422.1 267.3L1422.2 268.8L1422.4 270.3L1422.5 271.8L1422.7 273.3L1422.8 274.8L1423.0 276.3L1423.1 277.8L1423.3 279.3L1423.5 280.7L1423.6 282.2L1423.8 283.7L1424.0 285.2L1424.2 286.7L1424.4 288.2L1424.6 289.6L1424.8 291.1L1425.1 292.6L1425.3 294.1L1425.6 295.5L1425.9 297.0L1426.2 298.5L1426.5 299.9L1426.8 301.4L1427.1 302.8L1427.5 304.3L1427.8 305.8L1428.2 307.2L1428.5 308.7L1428.9 310.1L1429.3 311.6L1429.6 313.0L1430.0 314.5L1430.4 316.0L1430.8 317.4L1431.2 318.9L1431.6 320.3L1432.0 321.8L1432.3 323.2L1432.7 324.7L1433.1 326.1L1433.4 327.6L1433.8 329.1L1434.1 330.5L1434.5 332.0L1434.8 333.4L1435.2 334.9L1435.5 336.4L1435.8 337.8L1436.1 339.3L1436.4 340.8L1436.8 342.3L1437.1 343.7L1437.4 345.2L1437.7 346.7L1438.0 348.1L1438.3 349.6L1438.6 351.1L1438.9 352.6L1439.2 354.0L1439.5 355.5L1439.8 357.0L1440.1 358.4L1440.4 359.9L1440.8 361.4L1441.1 362.8L1441.4 364.3L1441.7 365.8L1442.1 367.2L1442.4 368.7L1442.8 370.1L1443.2 371.6L1443.5 373.0L1443.9 374.5L1444.3 375.9L1444.7 377.4L1445.1 378.8L1445.5 380.2L1446.0 381.7L1446.4 383.1L1446.9 384.6L1447.3 386.0L1447.8 387.4L1448.3 388.9L1448.8 390.3L1449.3 391.7L1449.8 393.1L1450.3 394.5L1450.9 395.9L1451.4 397.3L1452.0 398.7L1452.6 400.1L1453.2 401.4L1453.8 402.8L1454.4 404.1L1455.1 405.5L1455.8 406.8L1456.5 408.2L1457.2 409.5L1457.9 410.9L1458.7 412.3L1459.4 413.7L1460.3 415.0L1461.1 415.8L1461.9 417.1L1462.8 418.7L1463.7 419.4L1464.6 421.1L1465.5 422.4L1466.4 423.4L1467.4 424.2L1468.3 425.3L1469.3 426.8L1470.3 427.7L1471.4 428.7L1472.5 428.7L1473.6 430.8L1474.7 431.7L1475.8 431.0L1477.0 432.2L1478.2 433.8L1479.4 435.7L1480.6 436.2L1481.9 437.2L1483.2 437.7L1484.4 440.3L1485.7 441.4L1487.0 442.4L1488.3 441.4L1489.7 441.8L1491.0 442.0L1492.4 442.9L1493.7 444.4L1495.1 443.1L1496.5 442.8L1498.0 443.5L1499.4 443.6L1500.8 444.5L1502.3 445.1L1503.8 445.0L1505.2 446.4L1506.7 447.9L1508.2 447.1L1509.6 447.1L1511.1 448.3L1512.6 448.7L1514.0 448.6L1515.5 449.9L1517.0 451.0L1518.4 451.3L1519.9 450.8L1521.4 452.4L1522.8 453.7L1524.3 452.2L1525.8 451.7L1527.2 453.1L1528.7 452.6L1530.2 452.7L1531.7 453.4L1533.1 452.9L1534.6 453.1L1536.1 452.5L1537.6 452.8L1539.1 452.4L1540.6 455.2L1542.1 457.0L1543.6 456.5L1545.0 455.8L1546.5 456.0L1548.0 456.6L1549.5 456.7L1551.0 456.5L1552.5 455.1L1554.0 455.1L1555.5 455.0L1557.0 453.9L1558.4 453.4L1559.9 454.4L1561.4 455.4L1562.8 453.5L1564.3 454.3L1565.8 455.2L1567.2 453.2L1568.6 451.7L1570.1 451.4L1571.5 451.9L1572.9 450.9L1574.3 449.0L1575.7 449.2L1577.1 447.5L1578.4 447.4L1579.8 448.7L1581.1 448.0L1582.4 447.2L1583.7 446.5L1585.0 445.8L1586.3 444.8L1587.6 442.9L1588.9 442.1L1590.2 441.7L1591.5 442.0L1592.7 442.1L1594.0 440.5L1595.3 438.2L1596.5 436.8L1597.8 436.4L1599.0 436.9L1600.3 436.1L1601.5 434.4L1602.7 432.9L1604.0 432.9L1605.2 432.4L1606.4 431.0L1607.7 430.1L1608.9 430.4L1610.1 428.9L1611.3 428.5L1612.5 428.1L1613.7 426.2L1614.9 425.3L1616.1 424.1L1617.3 422.2L1618.5 421.4L1619.7 420.3L1620.9 420.1L1622.1 419.5L1623.3 418.7L1624.5 418.2L1625.6 414.8L1626.8 414.4L1628.0 413.6L1629.2 413.0L1630.4 412.2L1631.6 411.5L1632.7 411.8L1633.9 409.4L1635.1 408.3L1636.2 408.0L1637.4 405.8L1638.6 405.7L1639.8 405.4L1640.9 403.9L1642.1 402.6L1643.3 404.3L1644.5 402.7L1645.8 399.2L1647.0 398.3L1648.2 398.2L1649.5 397.7L1650.7 397.1L1652.0 395.8L1653.3 395.8L1654.6 395.1L1655.9 393.1L1657.2 392.4L1658.6 392.3L1659.9 392.8L1661.3 392.5L1662.6 391.0L1664.0 390.3L1665.4 390.0L1666.8 390.9L1668.2 389.2L1669.6 388.1L1671.0 388.4L1672.4 386.7L1673.8 386.2L1675.2 386.4L1676.7 385.4L1678.1 385.5L1679.5 386.0L1681.0 385.9L1682.4 384.5L1683.9 383.7L1685.4 385.3L1686.8 383.3L1688.3 382.3L1689.8 383.2L1691.3 382.6L1692.8 382.4L1694.2 382.1L1695.7 382.1L1697.2 382.6L1698.7 381.6L1700.2 381.1L1701.7 381.0L1703.2 380.6L1704.7 380.7L1706.2 380.0L1707.7 380.9L1709.2 382.6L1710.7 383.1L1712.2 382.8L1713.7 380.8L1715.2 381.6L1716.7 381.1L1718.2 380.5L1719.7 382.3L1721.2 381.0L1722.7 381.0L1724.2 381.6L1725.7 381.0L1727.2 380.2L1728.7 380.8L1730.2 380.9L1731.7 381.6L1733.2 382.6L1734.7 380.7L1736.2 380.1L1737.7 380.7L1739.2 380.2L1740.7 379.8L1742.2 380.9L1743.7 381.3L1745.2 380.1L1746.7 380.2L1748.2 381.7L1749.7 380.9L1751.2 380.2L1752.7 382.3L1754.2 383.4L1755.7 380.9L1757.2 379.6L1758.7 381.0L1760.2 380.6L1761.7 380.5L1763.2 380.8L1764.7 381.4L1766.2 379.5L1767.7 378.1L1769.2 378.9L1770.7 381.2L1772.2 381.4L1773.7 379.6L1775.2 380.5L1776.7 381.8L1778.2 381.2L1779.7 380.6L1781.2 381.2L1782.7 382.3L1784.2 381.9L1785.7 381.8L1787.2 381.6L1788.7 381.2L1790.2 380.7L1791.7 381.5L1793.2 381.8L1794.7 381.7L1796.2 382.8L1797.6 383.2L1799.1 383.5L1800.6 382.0L1802.1 382.6L1803.5 383.0L1805.0 382.6L1806.5 382.7L1807.9 384.7L1809.4 385.8L1810.8 384.9L1812.3 384.2L1813.7 385.3L1815.2 386.1L1816.6 388.0L1818.0 387.2L1819.4 385.8L1820.8 387.4L1822.2 389.1L1823.6 389.9L1824.9 391.0L1826.2 393.0L1827.6 392.5L1828.9 391.7L1830.2 391.4L1831.5 393.0L1832.8 395.3L1834.0 395.5L1835.3 396.8L1836.5 397.5L1837.8 398.9L1839.0 399.6L1840.3 398.9L1841.5 399.4L1842.7 399.9L1843.9 400.3L1845.1 402.5L1846.3 404.8L1847.5 406.7L1848.7 406.7L1849.9 406.6L1851.1 406.9L1852.3 408.8L1853.5 410.3L1854.7 410.3L1855.9 411.6L1857.1 413.0L1858.2 412.3L1859.4 413.9L1860.6 415.6L1861.7 415.9L1862.9 416.6L1864.0 418.9L1865.2 420.7L1866.3 421.7L1867.5 421.0L1868.6 421.0L1869.8 423.1L1870.9 423.4L1872.1 423.8L1873.2 424.3L1874.4 427.1L1875.5 429.1L1876.7 429.3L1877.9 429.9L1879.0 430.3L1880.2 431.0L1881.4 432.6L1882.5 433.1L1883.7 434.8L1884.9 435.4L1886.0 435.4L1887.2 437.6L1888.4 438.5L1889.5 439.3L1890.7 439.9L1891.9 439.2L1893.1 441.2L1894.2 442.1L1895.4 443.8L1896.6 444.0L1897.8 443.5L1899.0 445.8L1900.2 447.7L1901.4 448.5L1902.6 448.4L1903.8 450.1L1905.0 450.4L1906.2 450.9L1907.4 452.1L1908.6 453.1L1909.8 455.1L1911.0 455.5L1912.2 456.6L1913.4 458.2L1914.6 457.4L1915.8 457.6L1917.0 459.3L1918.3 460.3L1919.5 461.7L1920.8 461.3L1922.0 463.0L1923.3 465.1L1924.6 465.2L1925.9 464.5L1927.2 465.6L1928.5 466.6L1929.8 467.9L1931.2 468.6L1932.5 469.6L1933.9 469.7L1935.3 471.2L1936.7 469.9L1938.1 469.6L1939.5 472.0L1940.9 471.8L1942.4 473.0L1943.8 473.1L1945.3 473.6L1946.7 473.8L1948.2 473.9L1949.6 474.9L1951.1 475.2L1952.5 474.9L1954.0 476.9L1955.5 476.6L1957.0 474.7L1958.4 475.7L1959.9 476.6L1961.4 476.9L1962.9 477.5L1964.4 475.7L1965.9 475.8L1967.5 476.9L1969.0 476.1L1970.5 475.7L1972.0 473.3L1973.5 473.5L1975.0 476.6L1976.5 475.0L1978.0 474.1L1979.5 475.3L1981.0 475.9L1982.5 476.7L1984.0 474.5L1985.5 474.0L1987.0 475.4L1988.5 473.9L1990.0 473.5L1991.5 475.4L1993.0 475.7L1994.5 474.5L1995.9 471.4L1997.4 471.3L1998.9 472.7L2000.3 472.1L2001.7 471.5L2003.2 473.7L2004.6 472.3L2006.1 469.6L2007.5 469.6L2008.9 469.2L2010.3 468.4L2011.7 467.9L2013.1 468.0L2014.5 467.3L2015.8 465.2L2017.1 464.5L2018.3 464.7L2019.5 463.5L2020.7 463.3L2021.8 462.7L2022.9 460.7L2023.9 459.8L2024.9 459.8L2025.9 459.0L2026.9 457.1L2027.8 455.9L2028.7 454.4L2029.6 452.7L2030.4 451.8L2031.3 450.7L2032.1 449.3L2032.9 447.9L2033.6 446.6L2034.4 445.2L2035.1 443.8L2035.8 442.5L2036.4 441.1L2037.0 439.7L2037.7 438.4L2038.3 437.0L2038.8 435.6L2039.4 434.3L2039.9 432.9L2040.5 431.5L2041.0 430.1L2041.5 428.7L2042.0 427.2L2042.4 425.8L2042.9 424.4L2043.3 422.9L2043.8 421.5L2044.2 420.0L2044.7 418.6L2045.1 417.1L2045.5 415.7L2045.9 414.2L2046.3 412.8L2046.7 411.3L2047.1 409.9L2047.5 408.4L2047.8 407.0L2048.2 405.5L2048.6 404.1L2049.0 402.6L2049.3 401.1L2049.7 399.7L2050.0 398.2L2050.4 396.8L2050.7 395.3L2051.0 393.8L2051.4 392.4L2051.7 390.9L2052.0 389.5L2052.3 388.0L2052.6 386.5L2053.0 385.1L2053.3 383.6L2053.6 382.1L2053.9 380.6L2054.2 379.2L2054.5 377.7L2054.8 376.2L2055.1 374.8L2055.4 373.3L2055.7 371.8L2056.0 370.3L2056.3 368.9L2056.6 367.4L2056.9 365.9L2057.2 364.5L2057.5 363.0L2057.9 361.5L2058.2 360.1L2058.5 358.6L2058.7 357.1L2059.0 355.7L2059.3 354.2L2059.6 352.7L2059.9 351.2L2060.2 349.8L2060.5 348.3L2060.8 346.8L2061.1 345.3L2061.4 343.9L2061.7 342.4L2061.9 340.9L2062.2 339.5L2062.5 338.0L2062.8 336.5L2063.1 335.0L2063.4 333.6L2063.7 332.1L2064.0 330.6L2064.3 329.2L2064.6 327.7L2065.0 326.2L2065.3 324.8L2065.6 323.3L2065.9 321.8L2066.3 320.4L2066.6 318.9L2067.0 317.5L2067.3 316.0L2067.7 314.5L2068.0 313.1L2068.4 311.6L2068.8 310.2L2069.1 308.7L2069.5 307.2L2069.8 305.8L2070.1 304.3L2070.5 302.8L2070.8 301.4L2071.1 299.9L2071.4 298.4L2071.7 297.0L2072.0 295.5L2072.3 294.0L2072.5 292.6L2072.8 291.1L2073.0 289.6L2073.2 288.1L2073.5 286.7L2073.7 285.2L2073.9 283.7L2074.1 282.2L2074.3 280.7L2074.4 279.2L2074.6 277.8L2074.8 276.3L2075.0 274.8L2075.2 273.3L2075.3 271.8L2075.5 270.3L2075.7 268.8L2075.8 267.3L2076.0 265.8L2076.1 264.3L2076.3 262.8L2076.4 261.3L2076.6 259.9L2076.7 258.4L2076.9 256.9L2077.0 255.4L2077.2 253.9L2077.3 252.4L2077.4 250.9L2077.6 249.4L2077.7 247.9L2077.9 246.4L2078.0 244.9L2078.2 243.4L2078.3 241.9L2078.5 240.4L2078.6 238.9L2078.7 237.4L2078.9 235.9L2079.0 234.4L2079.2 233.0L2079.3 231.5L2079.5 230.0L2079.6 228.5L2079.7 227.0L2079.9 225.5L2080.0 224.0L2080.1 222.5L2080.3 221.0L2080.4 219.5L2080.5 218.0L2080.7 216.5L2080.8 215.0L2080.9 213.5L2081.1 212.0L2081.2 210.5L2081.3 209.1L2081.5 207.6L2081.6 206.1L2081.7 204.6L2081.9 203.1L2082.0 201.6L2082.1 200.1L2082.2 198.6L2082.4 197.1L2082.5 195.6L2082.6 194.1L2082.8 192.6L2082.9 191.1L2083.0 189.6L2083.2 188.1L2083.3 186.6L2083.4 185.1L2083.6 183.7L2083.7 182.2L2083.8 180.7L2084.0 179.2L2084.1 177.7L2084.2 176.2L2084.4 174.7L2084.5 173.2L2084.6 171.7L2084.8 170.2L2084.9 168.7L2085.0 167.2L2085.2 165.7L2085.3 164.2L2085.4 162.7L2085.6 161.2L2085.7 159.7L2085.8 158.3L2086.0 156.8L2086.1 155.3L2086.2 153.8L2086.4 152.3L2086.5 150.8L2086.6 149.3L2086.8 147.8L2086.9 146.3L2087.0 144.8L2087.1 143.3L2087.3 141.8L2087.4 140.3L2087.5 138.8L2087.7 137.3L2087.8 135.8L2087.9 134.3L2088.1 132.8L2088.2 131.4L2088.3 129.9L2088.4 128.4L2088.6 126.9L2088.7 125.4L2088.8 123.9L2089.0 122.4L2089.1 120.9L2089.2 119.4L2089.3 117.9L2089.5 116.4L2089.6 114.9L2089.7 113.4L2089.9 111.9L2090.0 110.4L2090.2 108.9L2090.3 107.4L2090.4 106.0L2090.6 104.5L2090.7 103.0L2090.9 101.5L2091.0 100.0L2091.2 98.5L2091.3 97.0L2091.5 95.6L2091.6 94.2L2091.8 92.9L2091.9 91.7L2092.0 90.6L2092.1 91.5L2092.2 88.9"/>
<path stroke="#0a0ae4" d="M1420.1 89.8L1420.2 90.6L1420.3 91.7L1420.4 92.8L1420.5 94.2L1420.6 95.6L1420.7 97.0L1420.9 98.5L1421.0 100.0L1421.1 101.5L1421.3 102.9L1421.4 104.4L1421.5 105.9L1421.7 107.4L1421.8 108.9L1422.0 110.4L1422.1 111.9L1422.3 113.4L1422.4 114.9L1422.5 116.4L1422.7 117.9L1422.8 119.4L1423.0 120.9L1423.1 122.4L1423.3 123.8L1423.4 125.3L1423.6 126.8L1423.7 128.3L1423.9 129.8L1424.1 131.3L1424.2 132.8L1424.4 134.3L1424.5 135.8L1424.7 137.3L1424.8 138.8L1425.0 140.3L1425.1 141.8L1425.3 143.2L1425.4 144.7L1425.6 146.2L1425.8 147.7L1425.9 149.2L1426.1 150.7L1426.2 152.2L1426.4 153.7L1426.5 155.2L1426.7 156.7L1426.9 158.2L1427.0 159.7L1427.2 161.1L1427.3 162.6L1427.5 164.1L1427.7 165.6L1427.8 167.1L1428.0 168.6L1428.2 170.1L1428.3 171.6L1428.5 173.1L1428.6 174.6L1428.8 176.1L1429.0 177.5L1429.1 179.0L1429.3 180.5L1429.5 182.0L1429.6 183.5L1429.8 185.0L1430.0 186.5L1430.1 188.0L1430.3 189.5L1430.5 191.0L1430.6 192.5L1430.8 193.9L1431.0 195.4L1431.1 196.9L1431.3 198.4L1431.5 199.9L1431.7 201.4L1431.8 202.9L1432.0 204.4L1432.2 205.9L1432.3 207.4L1432.5 208.9L1432.7 210.3L1432.8 211.8L1433.0 213.3L1433.2 214.8L1433.3 216.3L1433.5 217.8L1433.7 219.3L1433.8 220.8L1434.0 222.3L1434.2 223.8L1434.4 225.3L1434.5 226.7L1434.7 228.2L1434.9 229.7L1435.1 231.2L1435.2 232.7L1435.4 234.2L1435.6 235.7L1435.8 237.2L1436.0 238.7L1436.2 240.1L1436.4 241.6L1436.6 243.1L1436.8 244.6L1437.0 246.1L1437.2 247.6L1437.4 249.1L1437.6 250.5L1437.8 252.0L1438.0 253.5L1438.2 255.0L1438.5 256.5L1438.7 258.0L1438.9 259.4L1439.2 260.9L1439.4 262.4L1439.6 263.9L1439.9 265.4L1440.1 266.9L1440.4 268.3L1440.6 269.8L1440.9 271.3L1441.2 272.8L1441.4 274.3L1441.7 275.7L1442.0 277.2L1442.3 278.7L1442.5 280.2L1442.8 281.6L1443.1 283.1L1443.4 284.6L1443.8 286.0L1444.1 287.5L1444.4 288.9L1444.7 290.4L1445.1 291.9L1445.5 293.3L1445.8 294.8L1446.2 296.2L1446.6 297.7L1447.0 299.1L1447.4 300.5L1447.8 302.0L1448.3 303.4L1448.7 304.9L1449.2 306.3L1449.6 307.7L1450.1 309.2L1450.6 310.6L1451.0 312.0L1451.5 313.4L1452.0 314.8L1452.5 316.3L1453.0 317.7L1453.5 319.1L1454.0 320.5L1454.5 321.9L1455.1 323.3L1455.6 324.7L1456.2 326.1L1456.7 327.5L1457.3 328.9L1457.9 330.3L1458.4 331.7L1459.0 333.1L1459.6 334.4L1460.2 335.8L1460.8 337.2L1461.5 338.5L1462.1 339.9L1462.7 341.3L1463.4 342.6L1464.0 344.0L1464.7 345.3L1465.3 346.7L1466.0 348.0L1466.7 349.4L1467.4 350.6L1468.1 351.9L1468.9 353.3L1469.6 354.6L1470.4 355.9L1471.2 357.2L1472.0 358.5L1472.8 359.6L1473.7 360.8L1474.5 362.3L1475.4 363.8L1476.4 365.1L1477.3 366.2L1478.3 365.6L1479.3 366.5L1480.3 368.6L1481.4 370.1L1482.5 370.4L1483.6 372.4L1484.7 374.0L1485.9 374.0L1487.0 375.0L1488.2 375.9L1489.4 376.3L1490.6 377.8L1491.8 378.5L1493.1 378.1L1494.3 378.9L1495.6 380.5L1496.9 380.7L1498.2 382.8L1499.6 382.9L1500.9 384.5L1502.3 386.0L1503.7 384.8L1505.0 385.3L1506.4 387.3L1507.8 387.4L1509.2 386.5L1510.6 387.6L1512.0 390.3L1513.4 389.2L1514.8 389.6L1516.2 390.8L1517.5 391.0L1518.9 391.3L1520.3 391.8L1521.7 393.5L1523.1 394.5L1524.5 393.6L1526.0 395.3L1527.4 394.9L1528.8 395.5L1530.2 396.6L1531.6 397.6L1533.1 397.9L1534.5 398.3L1536.0 398.2L1537.4 398.7L1538.9 399.0L1540.4 400.3L1541.8 399.2L1543.3 399.3L1544.8 399.9L1546.3 399.4L1547.8 398.8L1549.3 399.3L1550.8 398.4L1552.3 397.5L1553.8 399.2L1555.3 398.5L1556.8 399.6L1558.2 399.7L1559.7 399.1L1561.2 399.0L1562.6 398.8L1564.1 398.1L1565.5 397.3L1567.0 396.9L1568.4 397.5L1569.8 397.6L1571.2 397.2L1572.6 396.0L1574.0 394.5L1575.4 392.4L1576.7 392.8L1578.1 393.5L1579.4 392.0L1580.7 391.5L1582.0 391.8L1583.3 390.4L1584.6 389.7L1585.9 388.8L1587.1 386.0L1588.4 385.1L1589.6 384.9L1590.8 384.7L1592.0 383.2L1593.2 382.0L1594.3 380.9L1595.5 380.3L1596.6 379.8L1597.7 379.3L1598.8 378.5L1599.9 377.1L1600.9 375.8L1602.0 374.7L1603.0 373.6L1604.1 373.2L1605.1 370.7L1606.2 369.4L1607.2 369.2L1608.2 368.7L1609.3 366.8L1610.3 365.7L1611.4 365.3L1612.4 363.8L1613.5 361.5L1614.6 360.8L1615.6 359.8L1616.7 359.4L1617.8 358.2L1618.9 358.1L1620.0 357.1L1621.1 355.0L1622.2 353.8L1623.2 352.5L1624.3 352.1L1625.4 352.2L1626.5 350.7L1627.6 349.6L1628.7 348.0L1629.8 347.0L1630.9 347.4L1631.9 345.1L1633.0 344.1L1634.1 343.9L1635.1 341.3L1636.2 339.5L1637.2 338.8L1638.2 338.7L1639.3 337.6L1640.3 336.2L1641.3 335.5L1642.3 334.4L1643.4 333.2L1644.4 331.9L1645.4 331.3L1646.4 329.8L1647.5 329.2L1648.5 328.0L1649.6 326.1L1650.7 325.6L1651.8 325.0L1652.8 322.6L1654.0 321.9L1655.1 320.8L1656.2 319.5L1657.4 319.8L1658.5 318.4L1659.7 317.6L1660.9 316.7L1662.1 317.0L1663.3 315.7L1664.5 313.1L1665.7 311.7L1667.0 311.0L1668.2 311.0L1669.5 310.6L1670.7 310.4L1672.0 309.5L1673.3 308.3L1674.5 307.7L1675.8 306.7L1677.2 306.1L1678.5 306.0L1679.8 305.6L1681.1 304.0L1682.5 301.7L1683.9 301.2L1685.2 302.0L1686.6 299.9L1688.0 299.4L1689.5 300.7L1690.9 299.8L1692.3 298.4L1693.7 299.9L1695.2 300.6L1696.6 298.7L1698.1 298.7L1699.5 299.1L1701.0 296.8L1702.4 298.1L1703.9 297.0L1705.4 295.3L1706.8 294.7L1708.3 294.9L1709.8 294.1L1711.2 294.1L1712.7 295.4L1714.2 295.0L1715.7 293.9L1717.2 294.9L1718.7 293.7L1720.1 293.7L1721.6 293.5L1723.1 293.1L1724.6 293.0L1726.1 292.9L1727.6 292.7L1729.1 292.0L1730.6 291.7L1732.1 292.5L1733.6 292.6L1735.1 291.4L1736.6 291.2L1738.1 291.4L1739.6 291.8L1741.1 292.3L1742.6 292.3L1744.1 291.7L1745.6 291.8L1747.1 291.1L1748.6 289.1L1750.1 290.6L1751.6 290.8L1753.1 290.5L1754.6 290.7L1756.1 292.1L1757.6 291.7L1759.1 292.0L1760.6 292.2L1762.1 291.4L1763.6 290.9L1765.1 292.5L1766.6 293.7L1768.1 294.1L1769.6 295.4L1771.1 295.0L1772.5 294.4L1774.0 294.3L1775.5 294.6L1776.9 294.6L1778.4 294.2L1779.9 296.5L1781.3 295.4L1782.8 295.4L1784.2 297.0L1785.6 297.3L1787.1 296.7L1788.5 297.2L1789.9 297.9L1791.4 297.8L1792.8 298.8L1794.2 299.6L1795.6 299.8L1797.0 301.3L1798.4 301.1L1799.8 302.0L1801.1 302.6L1802.5 303.4L1803.9 304.3L1805.2 304.9L1806.6 304.6L1808.0 304.8L1809.3 305.5L1810.7 307.0L1812.0 308.7L1813.3 310.0L1814.6 309.6L1815.9 310.0L1817.2 309.8L1818.5 309.3L1819.7 310.9L1821.0 312.6L1822.2 313.0L1823.3 313.4L1824.5 315.7L1825.7 316.8L1826.8 316.8L1827.9 319.7L1829.0 320.9L1830.0 321.0L1831.1 322.4L1832.2 323.1L1833.2 324.8L1834.2 325.2L1835.3 325.4L1836.3 327.2L1837.3 328.3L1838.4 330.3L1839.4 330.7L1840.4 331.2L1841.4 333.0L1842.4 334.6L1843.5 336.0L1844.5 336.9L1845.5 338.6L1846.5 339.1L1847.5 339.7L1848.5 341.3L1849.5 342.1L1850.5 342.9L1851.5 344.0L1852.5 345.0L1853.5 345.8L1854.5 347.1L1855.5 347.9L1856.5 349.6L1857.5 350.4L1858.5 352.5L1859.5 354.5L1860.5 355.3L1861.5 355.7L1862.5 356.3L1863.5 358.1L1864.5 359.3L1865.5 360.2L1866.5 360.9L1867.5 362.4L1868.5 363.3L1869.5 364.3L1870.5 364.9L1871.5 366.0L1872.5 367.9L1873.4 368.9L1874.4 369.8L1875.4 371.4L1876.4 372.5L1877.4 374.0L1878.4 373.9L1879.4 375.3L1880.4 377.2L1881.5 377.4L1882.5 378.0L1883.5 380.1L1884.5 381.0L1885.6 381.6L1886.6 383.4L1887.7 384.4L1888.8 385.5L1889.8 386.2L1890.9 387.3L1892.0 389.2L1893.1 390.1L1894.2 389.4L1895.4 391.0L1896.5 392.8L1897.6 392.9L1898.8 394.9L1899.9 394.9L1901.1 396.8L1902.3 397.7L1903.4 399.0L1904.6 399.8L1905.8 399.2L1907.0 400.5L1908.2 402.2L1909.4 403.3L1910.6 404.7L1911.9 404.4L1913.1 405.3L1914.3 407.0L1915.6 407.3L1916.8 407.2L1918.1 407.7L1919.3 409.8L1920.6 411.6L1921.9 411.3L1923.1 411.0L1924.4 413.6L1925.7 413.6L1927.0 414.3L1928.3 415.3L1929.7 414.8L1931.0 416.5L1932.3 417.9L1933.7 419.5L1935.1 421.6L1936.4 420.5L1937.8 420.6L1939.2 421.5L1940.6 420.6L1942.0 419.7L1943.5 421.6L1944.9 421.5L1946.4 420.9L1947.9 421.0L1949.4 421.0L1950.9 420.8L1952.4 421.7L1953.9 422.9L1955.4 421.9L1956.9 420.4L1958.5 421.0L1960.0 420.6L1961.5 420.5L1963.0 422.4L1964.5 424.2L1966.0 423.3L1967.5 421.1L1969.1 421.8L1970.6 420.4L1972.1 420.0L1973.6 422.5L1975.1 422.9L1976.6 420.8L1978.1 419.4L1979.6 421.2L1981.1 421.7L1982.6 420.7L1984.1 421.1L1985.6 420.7L1987.1 419.0L1988.5 420.3L1990.0 420.4L1991.5 419.1L1993.0 418.4L1994.4 419.2L1995.9 418.8L1997.4 418.9L1998.8 418.5L2000.3 418.6L2001.7 417.6L2003.1 416.0L2004.5 414.2L2005.9 413.6L2007.2 414.8L2008.5 416.8L2009.8 413.9L2011.0 411.2L2012.2 411.5L2013.4 411.4L2014.6 409.8L2015.7 408.9L2016.8 407.3L2017.8 406.4L2018.9 406.3L2019.9 405.8L2020.9 404.0L2021.9 402.3L2022.8 401.3L2023.7 400.4L2024.6 399.0L2025.4 397.4L2026.2 396.2L2026.9 395.0L2027.7 393.6L2028.4 392.3L2029.1 391.0L2029.7 389.7L2030.4 388.4L2031.0 387.0L2031.6 385.6L2032.2 384.2L2032.7 382.8L2033.3 381.4L2033.8 380.0L2034.3 378.6L2034.8 377.1L2035.3 375.7L2035.8 374.3L2036.3 372.8L2036.7 371.4L2037.2 370.0L2037.6 368.5L2038.0 367.1L2038.4 365.6L2038.8 364.2L2039.2 362.8L2039.6 361.3L2040.0 359.9L2040.4 358.4L2040.7 356.9L2041.1 355.5L2041.4 354.0L2041.8 352.6L2042.1 351.1L2042.5 349.6L2042.8 348.2L2043.1 346.7L2043.5 345.2L2043.8 343.8L2044.1 342.3L2044.5 340.8L2044.8 339.4L2045.1 337.9L2045.5 336.4L2045.8 335.0L2046.1 333.5L2046.4 332.1L2046.8 330.6L2047.1 329.1L2047.4 327.7L2047.7 326.2L2048.0 324.7L2048.4 323.3L2048.7 321.8L2049.0 320.3L2049.3 318.9L2049.6 317.4L2049.9 315.9L2050.2 314.5L2050.5 313.0L2050.8 311.5L2051.1 310.1L2051.4 308.6L2051.7 307.1L2052.1 305.6L2052.4 304.2L2052.7 302.7L2053.0 301.2L2053.3 299.8L2053.6 298.3L2053.9 296.8L2054.2 295.4L2054.5 293.9L2054.7 292.4L2055.0 290.9L2055.2 289.5L2055.5 288.0L2055.7 286.5L2055.9 285.0L2056.1 283.5L2056.3 282.0L2056.5 280.6L2056.7 279.1L2056.9 277.6L2057.1 276.1L2057.3 274.6L2057.4 273.1L2057.6 271.6L2057.8 270.1L2057.9 268.6L2058.1 267.2L2058.3 265.7L2058.4 264.2L2058.6 262.7L2058.8 261.2L2058.9 259.7L2059.1 258.2L2059.3 256.7L2059.4 255.2L2059.6 253.7L2059.8 252.2L2059.9 250.7L2060.1 249.3L2060.3 247.8L2060.4 246.3L2060.6 244.8L2060.8 243.3L2060.9 241.8L2061.1 240.3L2061.3 238.8L2061.4 237.3L2061.6 235.8L2061.8 234.3L2061.9 232.9L2062.1 231.4L2062.2 229.9L2062.4 228.4L2062.6 226.9L2062.7 225.4L2062.9 223.9L2063.1 222.4L2063.2 220.9L2063.4 219.4L2063.5 217.9L2063.7 216.5L2063.9 215.0L2064.0 213.5L2064.2 212.0L2064.4 210.5L2064.5 209.0L2064.7 207.5L2064.8 206.0L2065.0 204.5L2065.2 203.0L2065.3 201.5L2065.5 200.0L2065.7 198.6L2065.8 197.1L2066.0 195.6L2066.1 194.1L2066.3 192.6L2066.5 191.1L2066.6 189.6L2066.8 188.1L2067.0 186.6L2067.1 185.1L2067.3 183.6L2067.4 182.2L2067.6 180.7L2067.8 179.2L2067.9 177.7L2068.1 176.2L2068.3 174.7L2068.4 173.2L2068.6 171.7L2068.7 170.2L2068.9 168.7L2069.1 167.2L2069.2 165.8L2069.4 164.3L2069.6 162.8L2069.7 161.3L2069.9 159.8L2070.1 158.3L2070.2 156.8L2070.4 155.3L2070.6 153.8L2070.7 152.3L2070.9 150.8L2071.1 149.4L2071.3 147.9L2071.4 146.4L2071.6 144.9L2071.8 143.4L2071.9 141.9L2072.1 140.4L2072.3 138.9L2072.5 137.4L2072.7 135.9L2072.8 134.5L2073.0 133.0L2073.2 131.5L2073.4 130.0L2073.6 128.5L2073.7 127.0L2073.9 125.5L2074.1 124.0L2074.3 122.5L2074.5 121.1L2074.6 119.6L2074.8 118.1L2075.0 116.6L2075.2 115.1L2075.4 113.6L2075.5 112.1L2075.7 110.6L2075.9 109.1L2076.1 107.7L2076.3 106.2L2076.4 104.7L2076.6 103.2L2076.8 101.7L2077.0 100.2L2077.1 98.7L2077.3 97.3L2077.5 95.8L2077.7 94.4L2077.8 93.1L2077.9 91.9L2078.1 90.8L2078.2 89.9L2078.3 89.2"/>
<path stroke="#0a0096" d="M1434.9 89.8L1435.0 90.6L1435.0 91.7L1435.1 92.9L1435.2 94.2L1435.3 95.6L1435.4 97.0L1435.5 98.5L1435.6 100.0L1435.7 101.5L1435.8 103.0L1435.9 104.5L1435.9 106.0L1436.0 107.5L1436.1 109.0L1436.2 110.5L1436.3 112.0L1436.4 113.5L1436.4 115.0L1436.5 116.5L1436.6 118.0L1436.7 119.5L1436.7 121.0L1436.8 122.5L1436.9 124.0L1437.0 125.5L1437.1 126.9L1437.2 128.4L1437.3 129.9L1437.4 131.4L1437.5 132.9L1437.6 134.4L1437.7 135.9L1437.8 137.4L1437.9 138.9L1438.1 140.4L1438.2 141.9L1438.4 143.4L1438.5 144.9L1438.7 146.3L1438.9 147.8L1439.1 149.3L1439.3 150.8L1439.5 152.3L1439.7 153.8L1440.0 155.3L1440.2 156.7L1440.4 158.2L1440.7 159.7L1440.9 161.2L1441.2 162.7L1441.4 164.1L1441.7 165.6L1441.9 167.1L1442.2 168.6L1442.4 170.1L1442.7 171.6L1442.9 173.0L1443.1 174.5L1443.4 176.0L1443.6 177.5L1443.8 179.0L1444.0 180.5L1444.3 181.9L1444.5 183.4L1444.7 184.9L1444.9 186.4L1445.1 187.9L1445.3 189.4L1445.5 190.9L1445.7 192.4L1445.9 193.8L1446.0 195.3L1446.2 196.8L1446.4 198.3L1446.6 199.8L1446.8 201.3L1447.0 202.8L1447.2 204.3L1447.4 205.7L1447.6 207.2L1447.8 208.7L1448.1 210.2L1448.3 211.7L1448.5 213.2L1448.7 214.6L1449.0 216.1L1449.2 217.6L1449.5 219.1L1449.7 220.5L1450.0 222.0L1450.3 223.5L1450.6 225.0L1450.9 226.4L1451.2 227.9L1451.5 229.4L1451.8 230.8L1452.1 232.3L1452.5 233.8L1452.8 235.2L1453.2 236.7L1453.5 238.1L1453.9 239.6L1454.2 241.1L1454.6 242.5L1454.9 244.0L1455.3 245.4L1455.7 246.9L1456.1 248.3L1456.4 249.8L1456.8 251.2L1457.2 252.7L1457.6 254.1L1458.0 255.6L1458.4 257.0L1458.8 258.5L1459.2 259.9L1459.6 261.4L1460.1 262.8L1460.5 264.2L1460.9 265.7L1461.3 267.1L1461.8 268.5L1462.2 270.0L1462.6 271.4L1463.0 272.9L1463.5 274.3L1463.9 275.8L1464.3 277.2L1464.7 278.7L1465.1 280.2L1465.5 281.6L1465.9 283.1L1466.3 284.6L1466.7 286.0L1467.1 287.4L1467.6 288.8L1468.1 290.2L1468.7 291.5L1469.4 292.8L1470.1 294.0L1470.8 295.4L1471.7 296.8L1472.6 297.2L1473.5 298.5L1474.5 301.0L1475.6 302.0L1476.6 301.7L1477.7 302.6L1478.7 304.8L1479.8 305.2L1480.8 306.0L1481.9 307.5L1482.9 309.7L1483.9 310.4L1485.0 311.5L1486.0 312.1L1487.1 312.5L1488.1 314.4L1489.2 315.9L1490.3 315.5L1491.4 317.0L1492.5 318.8L1493.7 319.1L1494.8 320.0L1496.0 321.3L1497.2 321.7L1498.4 322.2L1499.6 322.9L1500.9 324.0L1502.1 324.2L1503.4 325.4L1504.7 325.8L1506.0 327.0L1507.3 328.4L1508.6 328.4L1509.9 330.1L1511.2 332.6L1512.6 333.3L1513.9 331.6L1515.2 332.9L1516.6 334.1L1518.0 334.0L1519.3 334.0L1520.7 334.8L1522.1 336.8L1523.5 337.4L1524.9 336.8L1526.3 336.6L1527.8 337.1L1529.2 338.5L1530.6 340.5L1532.1 339.2L1533.5 338.9L1535.0 339.5L1536.4 339.4L1537.9 340.4L1539.4 341.4L1540.8 340.2L1542.3 339.7L1543.8 341.9L1545.3 342.5L1546.8 342.4L1548.3 341.8L1549.8 341.4L1551.3 342.2L1552.8 341.9L1554.3 340.8L1555.8 341.2L1557.3 342.3L1558.8 341.1L1560.3 341.5L1561.8 342.0L1563.2 340.3L1564.7 339.8L1566.2 339.9L1567.6 340.0L1569.0 339.9L1570.4 337.9L1571.8 336.4L1573.1 337.7L1574.5 337.6L1575.8 336.7L1577.1 336.1L1578.4 336.3L1579.7 334.0L1581.0 333.5L1582.2 332.3L1583.5 331.6L1584.7 331.9L1585.9 329.3L1587.1 328.4L1588.3 327.8L1589.4 326.5L1590.5 325.7L1591.7 324.3L1592.8 322.9L1593.9 322.8L1594.9 322.4L1596.0 320.7L1597.0 318.8L1598.1 319.2L1599.1 318.7L1600.2 316.9L1601.2 314.9L1602.2 313.6L1603.3 313.0L1604.3 311.6L1605.3 311.3L1606.4 310.3L1607.4 308.9L1608.4 307.3L1609.4 305.8L1610.5 304.8L1611.5 304.2L1612.4 303.1L1613.4 301.8L1614.4 300.9L1615.3 299.8L1616.2 299.0L1617.1 297.5L1617.9 295.8L1618.8 294.7L1619.6 293.9L1620.4 292.4L1621.2 291.0L1622.0 289.8L1622.8 288.6L1623.6 287.3L1624.4 285.9L1625.1 284.6L1625.9 283.5L1626.7 282.4L1627.5 281.1L1628.4 279.9L1629.2 278.4L1630.1 277.0L1630.9 276.1L1631.8 274.5L1632.7 273.2L1633.6 271.7L1634.6 270.6L1635.5 269.6L1636.4 268.2L1637.4 267.5L1638.3 266.3L1639.3 265.0L1640.2 263.9L1641.1 262.6L1642.0 261.9L1642.8 260.6L1643.7 259.2L1644.5 257.8L1645.3 256.5L1646.1 255.4L1646.9 254.1L1647.7 252.8L1648.4 251.6L1649.2 250.5L1649.9 249.1L1650.6 247.7L1651.4 246.4L1652.1 245.2L1652.8 243.9L1653.5 242.5L1654.2 241.2L1655.0 239.8L1655.7 238.4L1656.4 237.2L1657.2 235.9L1657.9 234.5L1658.7 233.1L1659.5 232.0L1660.2 230.8L1661.0 229.1L1661.8 227.9L1662.6 227.1L1663.4 225.6L1664.2 224.3L1665.0 222.8L1665.9 221.8L1666.7 220.4L1667.5 218.9L1668.3 217.8L1669.2 217.2L1670.0 215.7L1670.9 213.9L1671.7 213.0L1672.6 211.9L1673.5 211.1L1674.4 209.3L1675.2 207.5L1676.1 206.6L1677.0 205.8L1678.0 204.8L1678.9 203.9L1679.8 202.0L1680.8 200.5L1681.7 199.7L1682.7 199.2L1683.7 198.1L1684.7 196.6L1685.7 194.9L1686.7 194.5L1687.8 194.0L1688.8 193.8L1689.8 191.9L1690.9 190.8L1692.0 188.9L1693.1 187.2L1694.1 186.3L1695.2 185.4L1696.3 184.2L1697.4 183.2L1698.5 182.6L1699.7 181.6L1700.8 181.1L1701.9 180.1L1703.1 178.9L1704.2 178.9L1705.4 177.8L1706.6 176.3L1707.8 175.2L1709.0 174.3L1710.2 173.7L1711.4 172.1L1712.6 172.0L1713.9 172.4L1715.1 171.5L1716.4 169.3L1717.6 166.8L1718.9 166.3L1720.2 166.6L1721.5 166.6L1722.8 165.4L1724.1 164.1L1725.5 164.7L1726.8 163.3L1728.2 162.9L1729.6 163.1L1731.0 160.8L1732.4 160.4L1733.8 160.2L1735.2 159.2L1736.7 158.0L1738.1 157.4L1739.6 158.9L1741.1 159.1L1742.6 159.0L1744.1 158.2L1745.6 158.0L1747.1 158.4L1748.6 157.4L1750.1 156.8L1751.6 158.5L1753.1 159.5L1754.5 158.8L1756.0 159.1L1757.5 160.4L1758.9 162.0L1760.4 160.9L1761.8 161.1L1763.3 163.4L1764.7 163.0L1766.2 163.5L1767.6 161.6L1769.0 163.2L1770.4 164.7L1771.8 163.1L1773.2 164.7L1774.5 166.9L1775.9 167.8L1777.2 168.5L1778.6 168.3L1779.9 167.8L1781.2 168.4L1782.5 169.6L1783.8 170.9L1785.0 171.3L1786.3 172.1L1787.6 173.8L1788.8 174.6L1790.0 176.6L1791.2 178.3L1792.4 176.9L1793.6 176.8L1794.7 177.6L1795.9 178.4L1797.0 180.5L1798.1 181.3L1799.2 181.7L1800.2 183.2L1801.3 185.0L1802.3 185.8L1803.3 186.6L1804.3 188.3L1805.3 189.5L1806.3 190.5L1807.2 191.9L1808.2 192.4L1809.1 193.6L1810.1 194.8L1811.0 196.3L1811.9 197.8L1812.8 198.4L1813.7 200.0L1814.6 200.9L1815.5 202.3L1816.4 203.7L1817.3 204.5L1818.2 205.5L1819.0 206.8L1819.9 208.3L1820.7 209.4L1821.6 210.8L1822.4 211.8L1823.2 213.1L1824.0 214.5L1824.8 215.5L1825.6 216.9L1826.4 218.2L1827.2 219.1L1828.0 220.6L1828.8 222.1L1829.6 223.6L1830.4 224.8L1831.1 226.2L1831.9 227.6L1832.7 228.9L1833.5 230.2L1834.2 231.4L1835.0 232.5L1835.7 233.8L1836.5 235.2L1837.3 236.5L1838.0 237.7L1838.8 238.8L1839.5 240.3L1840.3 241.7L1841.0 242.8L1841.7 244.2L1842.5 245.6L1843.2 246.9L1843.9 248.2L1844.6 249.5L1845.3 250.7L1846.1 252.0L1846.8 253.4L1847.5 254.8L1848.2 256.2L1848.9 257.3L1849.6 258.6L1850.3 260.1L1851.1 261.4L1851.8 262.8L1852.5 264.0L1853.2 265.2L1854.0 266.5L1854.7 267.9L1855.4 269.1L1856.2 270.5L1856.9 272.0L1857.7 273.2L1858.4 274.2L1859.2 275.5L1859.9 277.0L1860.7 278.2L1861.5 279.4L1862.2 280.8L1863.0 282.3L1863.8 283.6L1864.6 284.8L1865.4 285.9L1866.2 287.2L1867.1 288.4L1867.9 289.8L1868.8 291.0L1869.7 292.4L1870.6 292.9L1871.5 294.5L1872.5 295.8L1873.4 297.1L1874.4 298.2L1875.3 299.4L1876.2 301.0L1877.2 301.6L1878.1 302.6L1879.0 303.8L1879.9 305.1L1880.8 305.9L1881.6 307.2L1882.5 308.6L1883.4 309.7L1884.2 311.0L1885.1 312.0L1885.9 313.7L1886.8 315.2L1887.7 316.7L1888.6 317.4L1889.4 318.0L1890.3 319.6L1891.3 320.4L1892.2 321.8L1893.1 323.1L1894.0 324.1L1895.0 325.6L1896.0 326.8L1896.9 328.6L1897.9 329.7L1898.9 329.8L1899.8 331.4L1900.8 332.2L1901.8 333.3L1902.8 334.3L1903.8 335.2L1904.7 337.3L1905.7 338.2L1906.7 338.8L1907.7 339.9L1908.7 341.2L1909.7 343.1L1910.8 343.6L1911.8 343.9L1912.8 345.8L1913.9 346.4L1914.9 347.4L1916.0 349.6L1917.0 350.6L1918.1 351.0L1919.2 351.8L1920.3 352.6L1921.4 353.7L1922.5 355.3L1923.6 357.2L1924.8 358.5L1926.0 358.2L1927.2 358.2L1928.4 360.0L1929.7 359.6L1931.0 360.1L1932.3 361.6L1933.7 361.7L1935.1 362.0L1936.5 363.6L1937.9 363.3L1939.3 363.2L1940.8 364.2L1942.2 365.2L1943.7 364.7L1945.1 366.1L1946.6 366.5L1948.1 366.0L1949.6 366.1L1951.1 365.9L1952.6 365.6L1954.1 367.2L1955.6 367.6L1957.1 366.9L1958.6 367.7L1960.1 366.9L1961.6 367.0L1963.1 367.1L1964.5 366.0L1966.0 366.6L1967.4 365.4L1968.9 365.5L1970.3 365.1L1971.7 364.8L1973.2 365.7L1974.6 365.1L1976.0 363.2L1977.4 362.5L1978.9 362.0L1980.3 360.6L1981.7 359.7L1983.1 360.1L1984.5 360.6L1986.0 358.6L1987.4 358.2L1988.8 359.0L1990.3 358.5L1991.7 357.0L1993.1 357.5L1994.5 356.2L1995.9 356.0L1997.3 357.1L1998.7 354.2L2000.0 353.5L2001.4 354.1L2002.7 353.4L2004.0 351.9L2005.3 351.0L2006.6 349.6L2007.9 349.4L2009.1 349.6L2010.4 348.1L2011.5 346.5L2012.7 345.8L2013.8 345.3L2014.8 344.4L2015.8 343.3L2016.8 342.3L2017.8 340.7L2018.7 338.9L2019.5 338.4L2020.4 337.8L2021.2 336.1L2022.0 334.7L2022.7 333.6L2023.4 332.3L2024.1 330.9L2024.7 329.6L2025.4 328.2L2025.9 326.8L2026.5 325.5L2027.0 324.1L2027.5 322.7L2028.0 321.2L2028.5 319.8L2029.0 318.4L2029.5 316.9L2029.9 315.5L2030.4 314.1L2030.8 312.6L2031.2 311.2L2031.7 309.7L2032.1 308.3L2032.5 306.9L2032.9 305.4L2033.3 304.0L2033.7 302.5L2034.1 301.1L2034.5 299.6L2034.9 298.2L2035.3 296.7L2035.7 295.3L2036.0 293.8L2036.4 292.4L2036.8 290.9L2037.1 289.5L2037.5 288.0L2037.8 286.5L2038.2 285.1L2038.5 283.6L2038.8 282.2L2039.2 280.7L2039.5 279.2L2039.8 277.8L2040.1 276.3L2040.4 274.8L2040.8 273.4L2041.1 271.9L2041.4 270.4L2041.7 269.0L2042.0 267.5L2042.3 266.0L2042.6 264.6L2042.9 263.1L2043.2 261.6L2043.5 260.1L2043.7 258.7L2044.0 257.2L2044.3 255.7L2044.6 254.2L2044.9 252.8L2045.1 251.3L2045.4 249.8L2045.7 248.3L2046.0 246.9L2046.2 245.4L2046.5 243.9L2046.7 242.4L2047.0 241.0L2047.2 239.5L2047.5 238.0L2047.7 236.5L2048.0 235.0L2048.2 233.6L2048.4 232.1L2048.7 230.6L2048.9 229.1L2049.1 227.6L2049.4 226.2L2049.6 224.7L2049.8 223.2L2050.0 221.7L2050.2 220.2L2050.4 218.7L2050.6 217.2L2050.9 215.8L2051.1 214.3L2051.3 212.8L2051.5 211.3L2051.7 209.8L2051.9 208.3L2052.1 206.8L2052.3 205.4L2052.5 203.9L2052.7 202.4L2052.9 200.9L2053.1 199.4L2053.3 197.9L2053.5 196.4L2053.7 194.9L2053.9 193.5L2054.1 192.0L2054.3 190.5L2054.5 189.0L2054.6 187.5L2054.8 186.0L2055.0 184.5L2055.2 183.0L2055.4 181.6L2055.6 180.1L2055.8 178.6L2056.0 177.1L2056.2 175.6L2056.3 174.1L2056.5 172.6L2056.7 171.1L2056.9 169.6L2057.1 168.2L2057.2 166.7L2057.4 165.2L2057.6 163.7L2057.7 162.2L2057.9 160.7L2058.1 159.2L2058.2 157.7L2058.4 156.2L2058.6 154.7L2058.7 153.3L2058.9 151.8L2059.1 150.3L2059.2 148.8L2059.4 147.3L2059.5 145.8L2059.7 144.3L2059.8 142.8L2060.0 141.3L2060.1 139.8L2060.3 138.3L2060.4 136.8L2060.6 135.3L2060.7 133.9L2060.9 132.4L2061.0 130.9L2061.2 129.4L2061.3 127.9L2061.4 126.4L2061.6 124.9L2061.7 123.4L2061.8 121.9L2062.0 120.4L2062.1 118.9L2062.2 117.4L2062.3 115.9L2062.4 114.4L2062.5 112.9L2062.7 111.4L2062.8 109.9L2062.9 108.4L2063.0 107.0L2063.1 105.5L2063.2 104.0L2063.3 102.5L2063.4 101.0L2063.5 99.5L2063.7 98.0L2063.8 96.5L2063.9 95.1L2064.0 93.7L2064.1 92.5L2064.2 91.3L2064.2 90.3L2064.3 89.6"/>
</g>
<g fill="none" stroke-width="5.4">
<ellipse cx="1746.5" cy="131.5" rx="9.9" ry="11.8" stroke="#0a0096"/>
<ellipse cx="1719.6" cy="262.3" rx="9.8" ry="11.8" stroke="#0a0ae4"/>
<ellipse cx="1779.1" cy="262.3" rx="11.6" ry="11.8" stroke="#0a0ae4"/>
<ellipse cx="1698.6" cy="350.5" rx="11.5" ry="11.6" stroke="#5252fb"/>
<ellipse cx="1798.2" cy="350.5" rx="11.5" ry="11.6" stroke="#5252fb"/>
<ellipse cx="1677.4" cy="427.4" rx="9.6" ry="11.5" stroke="#c2c2fd"/>
<ellipse cx="1809.8" cy="427.4" rx="11.5" ry="11.5" stroke="#c2c2fd"/>
<ellipse cx="1666.0" cy="489.2" rx="9.5" ry="11.5" stroke="#fdc0c0"/>
<ellipse cx="1821.2" cy="488.7" rx="11.5" ry="11.5" stroke="#fdc0c0"/>
<ellipse cx="1642.5" cy="581.0" rx="9.6" ry="11.5" stroke="#fb5454"/>
<ellipse cx="1836.8" cy="581.0" rx="11.5" ry="11.5" stroke="#fb5454"/>
<ellipse cx="1629.3" cy="684.3" rx="11.6" ry="11.6" stroke="#e80408"/>
<ellipse cx="1847.9" cy="684.3" rx="11.6" ry="11.6" stroke="#e80408"/>
<ellipse cx="1617.8" cy="773.2" rx="11.5" ry="11.5" stroke="#b3000a"/>
<ellipse cx="1863.1" cy="773.2" rx="11.6" ry="11.6" stroke="#b3000a"/>
</g>
<rect x="1343.2" y="100.6" width="824.6" height="756.8" fill="none" stroke="#000" stroke-width="2.8"/>
<path d="M1331 100.6H1343.2M1331 246.3H1343.2M1331 391.9H1343.2M1331 537.6H1343.2M1331 683.2H1343.2M1331 828.9H1343.2M1402.4 857.4V869.2M1579.2 857.4V869.2M1756.0 857.4V869.2M1932.6 857.4V869.2M2109.0 857.4V869.2" stroke="#000" stroke-width="2.5" fill="none"/>
<g>
<text x="-2.3" y="44.0" font-size="62.0" text-anchor="start" fill="#000" font-weight="bold">a</text>
<text x="1138.9" y="44.0" font-size="62.0" text-anchor="start" fill="#000" font-weight="bold">b</text>
<text x="145.7" y="130.7" font-size="46.0" text-anchor="end" fill="#000">40</text>
<text x="145.8" y="325.0" font-size="46.0" text-anchor="end" fill="#000">30</text>
<text x="144.6" y="517.7" font-size="46.0" text-anchor="end" fill="#000">20</text>
<text x="148.5" y="710.0" font-size="46.0" text-anchor="end" fill="#000">10</text>
<text x="235.5" y="910.8" font-size="46.0" text-anchor="middle" fill="#000">-0.30</text>
<text x="417.2" y="911.2" font-size="46.0" text-anchor="middle" fill="#000">-0.15</text>
<text x="591.2" y="911.8" font-size="46.0" text-anchor="middle" fill="#000">0.00</text>
<text x="772.4" y="911.8" font-size="46.0" text-anchor="middle" fill="#000">0.15</text>
<text x="954.1" y="914.0" font-size="46.0" text-anchor="middle" fill="#000">0.30</text>
<text x="522.6" y="974.7" font-size="46.0" text-anchor="start" fill="#000"><tspan font-style="italic">D</tspan> (V/nm)</text>
<text transform="translate(72.8 533) rotate(-90)" font-size="46"><tspan font-style="italic">T</tspan><tspan dx="-2"> (K)</tspan></text>
<text x="199.2" y="232.0" font-size="47.5" text-anchor="start" fill="#fff">BI</text>
<text x="558.3" y="232.2" font-size="47.5" text-anchor="start" fill="#fff">CI</text>
<text x="914.0" y="236.0" font-size="47.5" text-anchor="start" fill="#fff">BI</text>
<text x="815.3" y="50.8" font-size="45.5" text-anchor="start" fill="#000">1</text>
<text x="962.7" y="47.4" font-size="45.5" text-anchor="start" fill="#000">100</text>
<text x="654.8" y="83.2" font-size="38.0" text-anchor="start" fill="#000" font-style="italic">R</text>
<text x="681.6" y="96.0" font-size="22.0" text-anchor="start" fill="#000" font-style="italic">xx</text>
<text x="714.4" y="83.2" font-size="38.0" text-anchor="start" fill="#000">(kΩ)</text>
<text x="1321.3" y="117.0" font-size="46.0" text-anchor="end" fill="#000">1.2</text>
<text x="1321.3" y="262.2" font-size="46.0" text-anchor="end" fill="#000">1.1</text>
<text x="1321.3" y="407.0" font-size="46.0" text-anchor="end" fill="#000">1.0</text>
<text x="1321.3" y="553.7" font-size="46.0" text-anchor="end" fill="#000">0.9</text>
<text x="1321.3" y="699.8" font-size="46.0" text-anchor="end" fill="#000">0.8</text>
<text x="1321.3" y="842.0" font-size="46.0" text-anchor="end" fill="#000">0.7</text>
<text x="1409.3" y="912.6" font-size="46.0" text-anchor="middle" fill="#000">-0.30</text>
<text x="1583.3" y="912.6" font-size="46.0" text-anchor="middle" fill="#000">-0.15</text>
<text x="1754.3" y="913.4" font-size="46.0" text-anchor="middle" fill="#000">0.00</text>
<text x="1931.1" y="913.4" font-size="46.0" text-anchor="middle" fill="#000">0.15</text>
<text x="2108.2" y="911.6" font-size="46.0" text-anchor="middle" fill="#000">0.30</text>
<text x="1667.3" y="975.0" font-size="46.0" text-anchor="start" fill="#000"><tspan font-style="italic">D</tspan> (V/nm)</text>
<text transform="translate(1226 566.8) rotate(-90)" font-size="50"><tspan font-style="italic">R</tspan><tspan font-style="italic" font-size="36" dy="16.8">xx</tspan><tspan dy="-16.8" dx="-0.5"> (kΩ)</tspan></text>
<text x="1924.0" y="316.2" font-size="42.8" text-anchor="start" fill="#0a0096">40K</text>
<text x="1931.0" y="800.0" font-size="42.0" text-anchor="start" fill="#b3000a">100K</text>
</g>
</svg>
</div>
</body></html>
